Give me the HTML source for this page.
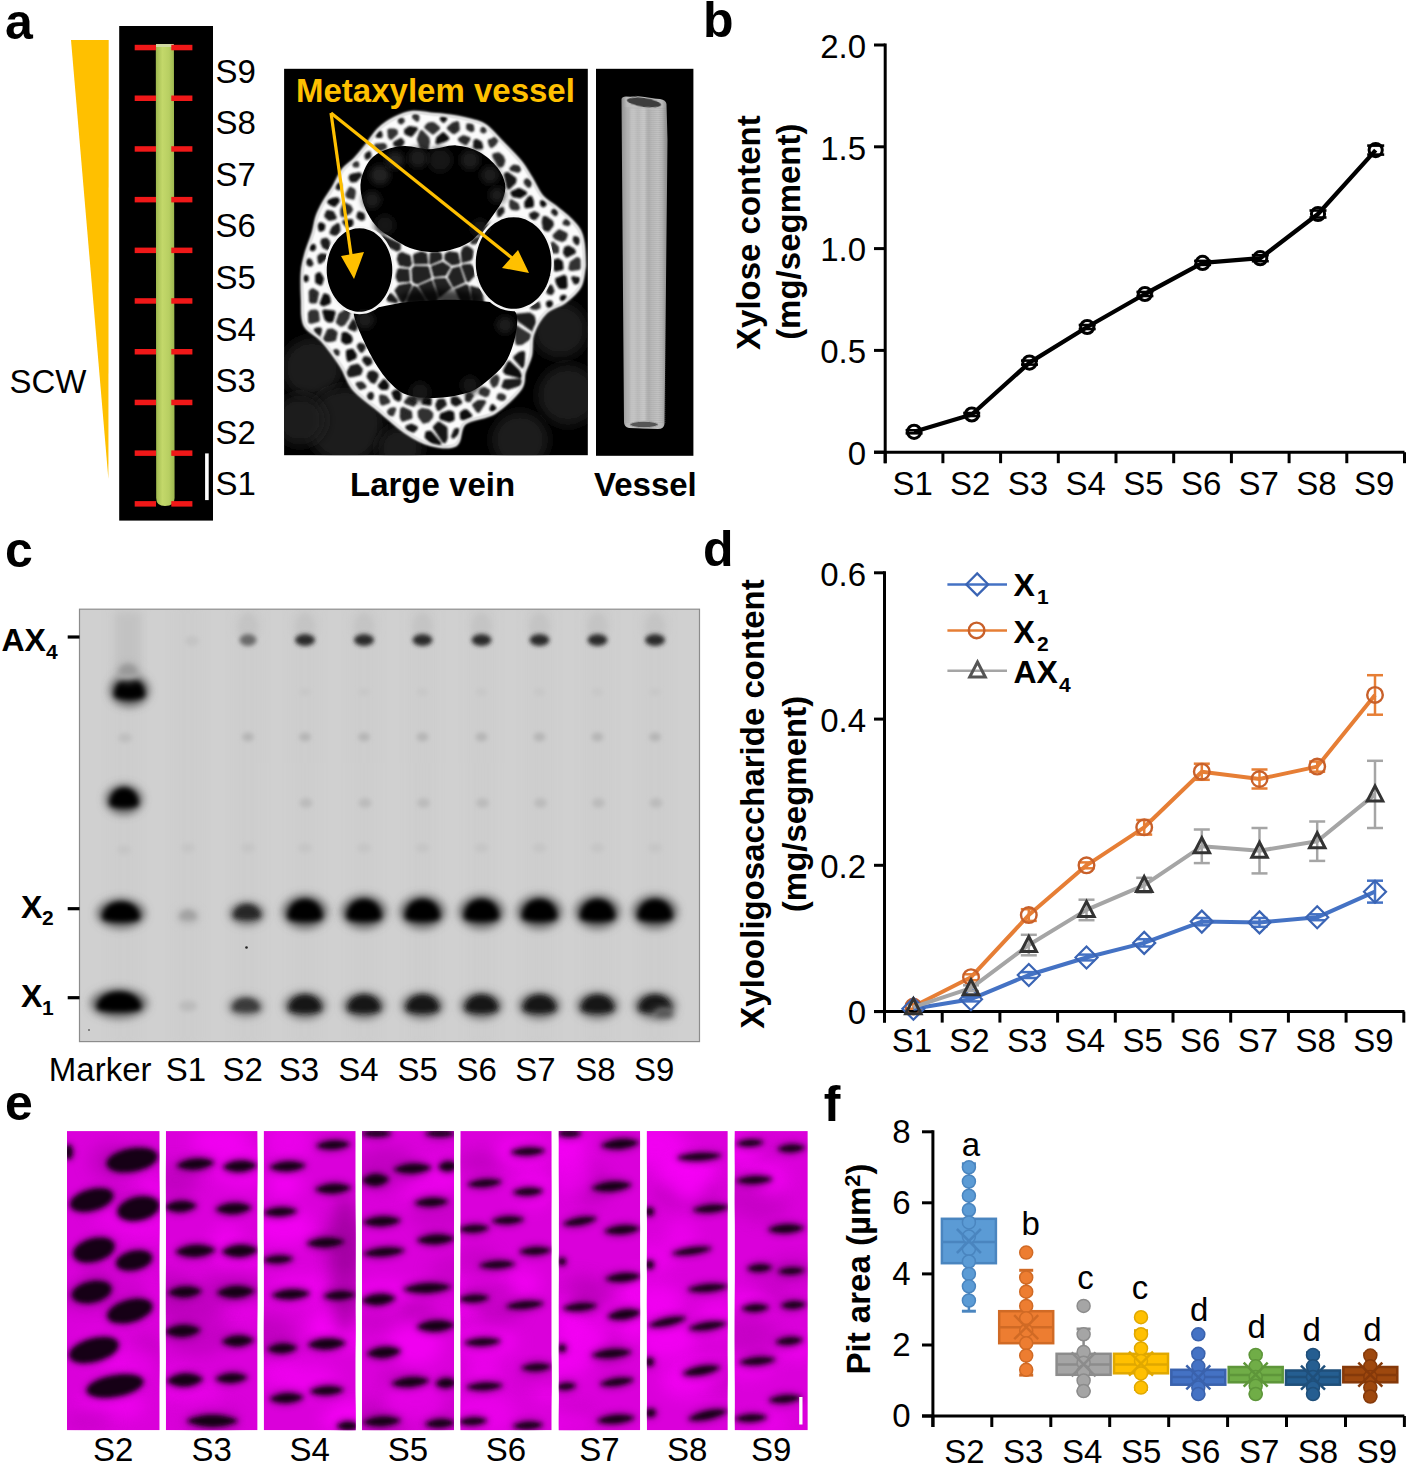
<!DOCTYPE html>
<html><head><meta charset="utf-8"><style>
html,body{margin:0;padding:0;background:#fff;}
body{width:1409px;height:1465px;overflow:hidden;}
svg{display:block;}
text{font-family:"Liberation Sans",sans-serif;}
</style></head><body>
<svg width="1409" height="1465" viewBox="0 0 1409 1465">
<defs>
<filter id="b0_6" x="-50%" y="-50%" width="200%" height="200%"><feGaussianBlur stdDeviation="0.6"/></filter>
<filter id="b1" x="-50%" y="-50%" width="200%" height="200%"><feGaussianBlur stdDeviation="1"/></filter>
<filter id="b1_5" x="-50%" y="-50%" width="200%" height="200%"><feGaussianBlur stdDeviation="1.5"/></filter>
<filter id="b2" x="-50%" y="-50%" width="200%" height="200%"><feGaussianBlur stdDeviation="2"/></filter>
<filter id="b2_5" x="-50%" y="-50%" width="200%" height="200%"><feGaussianBlur stdDeviation="2.5"/></filter>
<filter id="b3" x="-50%" y="-50%" width="200%" height="200%"><feGaussianBlur stdDeviation="3"/></filter>
<filter id="b4" x="-50%" y="-50%" width="200%" height="200%"><feGaussianBlur stdDeviation="4"/></filter>
<filter id="b6" x="-50%" y="-50%" width="200%" height="200%"><feGaussianBlur stdDeviation="6"/></filter>
<filter id="b8" x="-50%" y="-50%" width="200%" height="200%"><feGaussianBlur stdDeviation="8"/></filter>
<linearGradient id="stem" x1="0" x2="1" y1="0" y2="0"><stop offset="0" stop-color="#9fb94e"/><stop offset="0.35" stop-color="#c3d86a"/><stop offset="0.7" stop-color="#b8cf62"/><stop offset="1" stop-color="#9cb74e"/></linearGradient>
<linearGradient id="vess" x1="0" x2="1" y1="0" y2="0"><stop offset="0" stop-color="#8e8e8e"/><stop offset="0.12" stop-color="#bcbcbc"/><stop offset="0.5" stop-color="#c2c2c2"/><stop offset="0.88" stop-color="#b8b8b8"/><stop offset="1" stop-color="#888"/></linearGradient>
</defs>
<text x="5.0" y="38.5" font-size="50" font-weight="bold" text-anchor="start" fill="#000" >a</text>
<polygon points="71,40 108.7,40 108.4,479" fill="#ffc000"/>
<rect x="119.2" y="26.0" width="93.8" height="494.6" fill="#000" />
<path d="M155.8,45 L173.9,45 L174.6,498 Q174.6,506 165,506 Q156.2,506 156.2,498 Z" fill="url(#stem)"/>
<rect x="156.0" y="44.0" width="17.8" height="3.0" fill="#cfd8a0" />
<rect x="134.7" y="44.8" width="21.3" height="5.5" fill="#f01818" />
<rect x="171.3" y="44.8" width="21.1" height="5.5" fill="#f01818" />
<rect x="134.7" y="95.5" width="21.3" height="5.5" fill="#f01818" />
<rect x="171.3" y="95.5" width="21.1" height="5.5" fill="#f01818" />
<rect x="134.7" y="146.2" width="21.3" height="5.5" fill="#f01818" />
<rect x="171.3" y="146.2" width="21.1" height="5.5" fill="#f01818" />
<rect x="134.7" y="196.9" width="21.3" height="5.5" fill="#f01818" />
<rect x="171.3" y="196.9" width="21.1" height="5.5" fill="#f01818" />
<rect x="134.7" y="247.6" width="21.3" height="5.5" fill="#f01818" />
<rect x="171.3" y="247.6" width="21.1" height="5.5" fill="#f01818" />
<rect x="134.7" y="298.2" width="21.3" height="5.5" fill="#f01818" />
<rect x="171.3" y="298.2" width="21.1" height="5.5" fill="#f01818" />
<rect x="134.7" y="349.0" width="21.3" height="5.5" fill="#f01818" />
<rect x="171.3" y="349.0" width="21.1" height="5.5" fill="#f01818" />
<rect x="134.7" y="399.7" width="21.3" height="5.5" fill="#f01818" />
<rect x="171.3" y="399.7" width="21.1" height="5.5" fill="#f01818" />
<rect x="134.7" y="450.4" width="21.3" height="5.5" fill="#f01818" />
<rect x="171.3" y="450.4" width="21.1" height="5.5" fill="#f01818" />
<rect x="134.7" y="501.1" width="21.3" height="5.5" fill="#f01818" />
<rect x="171.3" y="501.1" width="21.1" height="5.5" fill="#f01818" />
<rect x="205.1" y="453.4" width="3.6" height="46.7" fill="#fff" />
<text x="215.5" y="82.5" font-size="33" text-anchor="start" fill="#000" >S9</text>
<text x="215.5" y="134.1" font-size="33" text-anchor="start" fill="#000" >S8</text>
<text x="215.5" y="185.7" font-size="33" text-anchor="start" fill="#000" >S7</text>
<text x="215.5" y="237.3" font-size="33" text-anchor="start" fill="#000" >S6</text>
<text x="215.5" y="288.9" font-size="33" text-anchor="start" fill="#000" >S5</text>
<text x="215.5" y="340.5" font-size="33" text-anchor="start" fill="#000" >S4</text>
<text x="215.5" y="392.1" font-size="33" text-anchor="start" fill="#000" >S3</text>
<text x="215.5" y="443.7" font-size="33" text-anchor="start" fill="#000" >S2</text>
<text x="215.5" y="495.3" font-size="33" text-anchor="start" fill="#000" >S1</text>
<text x="9.5" y="392.8" font-size="33" text-anchor="start" fill="#000" >SCW</text>
<rect x="284.1" y="68.8" width="303.7" height="386.4" fill="#000" />
<clipPath id="vclip"><rect x="284.1" y="68.8" width="303.7" height="386.4"/></clipPath>
<clipPath id="vout"><path d="M412.9,112.3 C418.8,111.6 423.8,113.4 430.0,114.0 C436.2,114.6 442.9,114.9 450.0,116.0 C457.1,117.1 466.8,119.0 472.8,120.7 C478.8,122.4 480.8,122.3 485.8,126.0 C490.8,129.7 496.8,136.8 502.6,142.8 C508.4,148.8 516.1,156.4 520.8,162.2 C525.5,168.0 527.5,172.2 531.0,177.8 C534.5,183.4 537.6,191.2 541.5,196.0 C545.4,200.8 550.2,202.9 554.5,206.3 C558.8,209.8 563.3,212.8 567.4,216.7 C571.5,220.6 576.4,225.4 579.0,229.7 C581.6,234.0 582.1,237.2 583.0,242.6 C583.9,248.0 584.2,257.4 584.3,262.0 C584.4,266.6 584.6,265.8 583.8,270.0 C583.0,274.2 582.8,281.7 579.6,287.0 C576.4,292.3 570.3,297.7 564.6,302.0 C558.9,306.3 550.8,307.3 545.5,312.6 C540.2,317.9 535.2,326.8 532.7,333.9 C530.2,341.0 532.0,348.8 530.6,355.2 C529.2,361.6 526.0,366.5 524.2,372.2 C522.4,377.9 525.0,382.5 520.0,389.2 C515.0,395.9 503.6,406.9 494.4,412.6 C485.2,418.3 471.0,418.0 464.6,423.3 C458.2,428.6 461.7,441.1 456.0,444.6 C450.3,448.2 439.0,446.7 430.5,444.6 C422.0,442.5 413.5,437.5 405.0,431.8 C396.5,426.1 387.9,417.6 379.4,410.5 C370.9,403.4 360.3,396.6 353.9,389.2 C347.5,381.8 346.4,373.9 341.1,365.8 C335.8,357.7 328.0,347.1 322.0,340.3 C316.0,333.5 308.1,331.7 304.9,325.0 C301.6,318.3 302.9,308.8 302.5,300.0 C302.1,291.2 301.7,279.7 302.3,272.0 C302.9,264.3 304.2,260.1 306.0,253.6 C307.8,247.0 311.5,238.8 313.3,232.7 C315.1,226.5 315.2,221.8 317.0,216.7 C318.8,211.6 321.3,206.8 324.0,202.0 C326.7,197.2 329.8,193.3 333.0,188.0 C336.2,182.7 339.3,174.8 343.0,170.0 C346.7,165.2 351.2,163.0 355.0,159.0 C358.8,155.0 362.1,150.9 366.0,146.0 C369.9,141.1 373.8,134.1 378.5,129.5 C383.2,124.9 388.7,121.3 394.4,118.4 C400.1,115.5 407.0,113.0 412.9,112.3 Z"/></clipPath>
<g clip-path="url(#vclip)">
<circle cx="312" cy="368" r="30" fill="#1a1a1a" filter="url(#b6)"/>
<circle cx="345" cy="425" r="38" fill="#1a1a1a" filter="url(#b6)"/>
<circle cx="400" cy="448" r="22" fill="#1a1a1a" filter="url(#b6)"/>
<circle cx="560" cy="330" r="28" fill="#1a1a1a" filter="url(#b6)"/>
<circle cx="568" cy="395" r="30" fill="#1a1a1a" filter="url(#b6)"/>
<circle cx="520" cy="440" r="28" fill="#1a1a1a" filter="url(#b6)"/>
<circle cx="300" cy="420" r="25" fill="#1a1a1a" filter="url(#b6)"/>
<path d="M412.9,112.3 C418.8,111.6 423.8,113.4 430.0,114.0 C436.2,114.6 442.9,114.9 450.0,116.0 C457.1,117.1 466.8,119.0 472.8,120.7 C478.8,122.4 480.8,122.3 485.8,126.0 C490.8,129.7 496.8,136.8 502.6,142.8 C508.4,148.8 516.1,156.4 520.8,162.2 C525.5,168.0 527.5,172.2 531.0,177.8 C534.5,183.4 537.6,191.2 541.5,196.0 C545.4,200.8 550.2,202.9 554.5,206.3 C558.8,209.8 563.3,212.8 567.4,216.7 C571.5,220.6 576.4,225.4 579.0,229.7 C581.6,234.0 582.1,237.2 583.0,242.6 C583.9,248.0 584.2,257.4 584.3,262.0 C584.4,266.6 584.6,265.8 583.8,270.0 C583.0,274.2 582.8,281.7 579.6,287.0 C576.4,292.3 570.3,297.7 564.6,302.0 C558.9,306.3 550.8,307.3 545.5,312.6 C540.2,317.9 535.2,326.8 532.7,333.9 C530.2,341.0 532.0,348.8 530.6,355.2 C529.2,361.6 526.0,366.5 524.2,372.2 C522.4,377.9 525.0,382.5 520.0,389.2 C515.0,395.9 503.6,406.9 494.4,412.6 C485.2,418.3 471.0,418.0 464.6,423.3 C458.2,428.6 461.7,441.1 456.0,444.6 C450.3,448.2 439.0,446.7 430.5,444.6 C422.0,442.5 413.5,437.5 405.0,431.8 C396.5,426.1 387.9,417.6 379.4,410.5 C370.9,403.4 360.3,396.6 353.9,389.2 C347.5,381.8 346.4,373.9 341.1,365.8 C335.8,357.7 328.0,347.1 322.0,340.3 C316.0,333.5 308.1,331.7 304.9,325.0 C301.6,318.3 302.9,308.8 302.5,300.0 C302.1,291.2 301.7,279.7 302.3,272.0 C302.9,264.3 304.2,260.1 306.0,253.6 C307.8,247.0 311.5,238.8 313.3,232.7 C315.1,226.5 315.2,221.8 317.0,216.7 C318.8,211.6 321.3,206.8 324.0,202.0 C326.7,197.2 329.8,193.3 333.0,188.0 C336.2,182.7 339.3,174.8 343.0,170.0 C346.7,165.2 351.2,163.0 355.0,159.0 C358.8,155.0 362.1,150.9 366.0,146.0 C369.9,141.1 373.8,134.1 378.5,129.5 C383.2,124.9 388.7,121.3 394.4,118.4 C400.1,115.5 407.0,113.0 412.9,112.3 Z" fill="#fbfbfb" filter="url(#b1)"/>
<g clip-path="url(#vout)"><g filter="url(#b1)">
<polygon points="454.1,286.8 464.5,282.0 459.5,266.9 452.6,268.6 448.3,277.1 453.3,286.7" fill="#202020" stroke="#202020" stroke-width="1.2" stroke-linejoin="round"/>
<polygon points="360.7,218.4 358.4,216.8 359.3,213.4 362.6,214.7 363.1,216.9 362.9,218.5 361.3,218.6" fill="#161616" stroke="#161616" stroke-width="4.2" stroke-linejoin="round"/>
<polygon points="478.6,402.0 483.9,402.1 481.3,406.2 478.3,410.7 478.0,410.5 474.3,405.1" fill="#292929" stroke="#292929" stroke-width="4.2" stroke-linejoin="round"/>
<polygon points="448.9,412.4 442.0,415.0 441.4,417.8 449.2,420.3 452.5,419.0 452.2,413.3" fill="#0c0c0c" stroke="#0c0c0c" stroke-width="4.2" stroke-linejoin="round"/>
<polygon points="348.8,212.4 350.9,209.5 349.3,206.8 344.8,204.6 342.3,210.1 342.6,215.1" fill="#292929" stroke="#292929" stroke-width="4.2" stroke-linejoin="round"/>
<polygon points="329.4,218.7 326.3,215.9 327.9,212.1 332.2,213.1 334.6,217.4 334.5,217.6" fill="#1f1f1f" stroke="#1f1f1f" stroke-width="4.2" stroke-linejoin="round"/>
<polygon points="529.3,314.5 515.5,315.9 520.5,320.9 534.5,330.7 535.8,330.7 532.8,316.9" fill="#1f1f1f" stroke="#1f1f1f" stroke-width="4.2" stroke-linejoin="round"/>
<polygon points="447.2,138.5 443.3,134.4 443.2,134.4 438.2,138.7 437.5,142.3 444.1,140.1" fill="#0c0c0c" stroke="#0c0c0c" stroke-width="4.2" stroke-linejoin="round"/>
<polygon points="395.0,290.5 398.9,285.6 409.8,283.5 411.5,285.4 404.3,302.1 403.3,303.1 401.0,301.3" fill="#202020" stroke="#202020" stroke-width="1.2" stroke-linejoin="round"/>
<polygon points="412.8,281.0 412.0,269.4 414.3,266.7 427.6,266.8 428.4,267.3 430.9,277.3 430.5,278.0 417.8,283.6 414.4,282.9" fill="#202020" stroke="#202020" stroke-width="1.2" stroke-linejoin="round"/>
<polygon points="526.3,202.8 529.7,198.0 530.4,197.8 531.8,201.2 531.9,205.4 528.3,206.0 526.5,206.2" fill="#0c0c0c" stroke="#0c0c0c" stroke-width="4.2" stroke-linejoin="round"/>
<polygon points="387.1,385.4 386.5,387.8 382.3,387.8 380.0,385.8 384.1,381.2 384.6,381.7" fill="#0c0c0c" stroke="#0c0c0c" stroke-width="4.2" stroke-linejoin="round"/>
<polygon points="431.9,252.3 438.3,252.0 441.4,254.3 441.6,259.5 430.6,264.2 429.9,263.7 430.2,253.7" fill="#202020" stroke="#202020" stroke-width="1.2" stroke-linejoin="round"/>
<polygon points="326.2,239.9 322.9,240.6 322.6,242.6 324.1,246.3 327.6,248.0 328.2,242.3" fill="#1f1f1f" stroke="#1f1f1f" stroke-width="4.2" stroke-linejoin="round"/>
<polygon points="521.6,342.8 530.6,336.6 516.2,327.4 516.8,338.5 517.5,343.1" fill="#333333" stroke="#333333" stroke-width="4.2" stroke-linejoin="round"/>
<polygon points="570.5,268.4 571.7,262.9 577.5,259.1 578.6,260.1 578.7,267.9 571.5,268.9" fill="#333333" stroke="#333333" stroke-width="4.2" stroke-linejoin="round"/>
<polygon points="440.6,400.8 443.2,400.8 444.7,404.4 438.6,408.8 437.3,405.0 439.0,401.1" fill="#1f1f1f" stroke="#1f1f1f" stroke-width="4.2" stroke-linejoin="round"/>
<polygon points="432.9,132.4 426.3,127.2 428.9,124.6 432.0,124.1 433.8,124.6 438.0,128.2" fill="#333333" stroke="#333333" stroke-width="4.2" stroke-linejoin="round"/>
<polygon points="347.4,317.6 349.0,309.6 340.5,314.8 337.9,322.2 341.2,324.7 343.5,323.5" fill="#333333" stroke="#333333" stroke-width="4.2" stroke-linejoin="round"/>
<polygon points="475.2,146.2 475.4,141.5 476.6,141.0 480.1,143.0 481.2,147.3 477.1,147.2 475.1,146.7" fill="#161616" stroke="#161616" stroke-width="4.2" stroke-linejoin="round"/>
<polygon points="519.0,169.6 517.8,167.2 514.0,166.6 511.5,168.9 518.0,170.7" fill="#292929" stroke="#292929" stroke-width="4.2" stroke-linejoin="round"/>
<polygon points="335.5,332.9 334.1,339.3 330.5,339.9 324.6,340.2 328.8,330.8 332.0,330.6" fill="#292929" stroke="#292929" stroke-width="4.2" stroke-linejoin="round"/>
<polygon points="468.2,128.1 468.2,125.4 471.5,125.9 471.9,126.5 472.3,129.7 471.4,129.9" fill="#292929" stroke="#292929" stroke-width="4.2" stroke-linejoin="round"/>
<polygon points="502.1,164.5 503.2,160.6 501.8,157.2 498.4,154.4 494.3,155.2 494.7,157.0 499.6,165.2 500.8,165.4" fill="#292929" stroke="#292929" stroke-width="4.2" stroke-linejoin="round"/>
<polygon points="514.5,179.2 507.3,174.0 505.9,174.7 508.5,186.9 508.8,187.2 514.1,182.1" fill="#161616" stroke="#161616" stroke-width="4.2" stroke-linejoin="round"/>
<polygon points="519.8,380.6 522.3,382.9 508.4,387.6 503.6,386.3 505.5,381.3" fill="#1f1f1f" stroke="#1f1f1f" stroke-width="4.2" stroke-linejoin="round"/>
<polygon points="403.1,409.1 402.2,409.4 401.8,416.9 403.0,419.5 410.4,417.1 409.9,412.4" fill="#292929" stroke="#292929" stroke-width="4.2" stroke-linejoin="round"/>
<polygon points="310.8,291.8 310.9,295.1 311.1,301.3 315.2,301.3 316.9,293.1 315.8,292.2 312.6,290.3" fill="#292929" stroke="#292929" stroke-width="4.2" stroke-linejoin="round"/>
<polygon points="460.1,402.1 455.9,404.4 452.9,402.7 452.8,398.8 453.4,398.5 455.9,398.4 457.1,398.9" fill="#161616" stroke="#161616" stroke-width="4.2" stroke-linejoin="round"/>
<polygon points="517.7,371.3 509.1,363.1 505.0,371.0 506.4,372.7 520.3,376.3" fill="#0c0c0c" stroke="#0c0c0c" stroke-width="4.2" stroke-linejoin="round"/>
<polygon points="348.0,196.2 352.8,197.6 353.6,193.7 353.7,191.6 353.4,190.6 350.4,188.9 347.3,194.5" fill="#333333" stroke="#333333" stroke-width="4.2" stroke-linejoin="round"/>
<polygon points="319.1,274.1 321.9,278.7 320.5,283.3 317.2,281.7 317.2,275.5" fill="#0c0c0c" stroke="#0c0c0c" stroke-width="4.2" stroke-linejoin="round"/>
<polygon points="458.0,430.4 458.2,431.1 456.8,433.5 453.2,436.5 455.6,430.7 457.0,430.0" fill="#161616" stroke="#161616" stroke-width="4.2" stroke-linejoin="round"/>
<polygon points="409.5,281.2 408.7,269.7 399.0,268.8 397.6,270.3 396.0,277.0 398.4,282.0" fill="#202020" stroke="#202020" stroke-width="1.2" stroke-linejoin="round"/>
<polygon points="466.9,246.4 467.6,246.5 471.9,249.2 473.1,251.2 472.2,258.0 470.1,260.5 462.2,262.3 461.4,252.5 463.5,247.6" fill="#202020" stroke="#202020" stroke-width="1.2" stroke-linejoin="round"/>
<polygon points="396.4,391.5 398.0,391.8 399.4,394.4 399.2,399.0 398.4,399.4 395.4,397.6 393.6,393.0 395.7,391.8" fill="#0c0c0c" stroke="#0c0c0c" stroke-width="4.2" stroke-linejoin="round"/>
<polygon points="544.4,218.1 543.8,222.3 545.0,228.8 547.9,229.6 551.8,224.7 551.3,222.3 545.7,218.1" fill="#1f1f1f" stroke="#1f1f1f" stroke-width="4.2" stroke-linejoin="round"/>
<polygon points="451.0,288.0 439.2,297.0 433.9,279.8 434.3,279.0 445.4,278.6" fill="#202020" stroke="#202020" stroke-width="1.2" stroke-linejoin="round"/>
<polygon points="561.5,268.3 560.9,262.2 557.8,260.4 555.2,261.5 555.7,269.4" fill="#0c0c0c" stroke="#0c0c0c" stroke-width="4.2" stroke-linejoin="round"/>
<polygon points="465.7,143.1 468.4,139.1 463.4,137.3 460.0,139.6 462.7,141.7" fill="#292929" stroke="#292929" stroke-width="4.2" stroke-linejoin="round"/>
<polygon points="346.2,334.1 343.6,334.1 343.1,340.6 346.0,342.5 349.9,341.4 350.7,339.5 350.0,337.2" fill="#0c0c0c" stroke="#0c0c0c" stroke-width="4.2" stroke-linejoin="round"/>
<polygon points="548.0,303.2 548.1,303.1 548.9,302.7 550.6,302.6 551.0,303.7 550.2,306.7 548.3,305.1" fill="#0c0c0c" stroke="#0c0c0c" stroke-width="4.2" stroke-linejoin="round"/>
<polygon points="575.0,238.1 577.5,238.9 577.8,240.3 577.1,243.2 574.9,240.4" fill="#1f1f1f" stroke="#1f1f1f" stroke-width="4.2" stroke-linejoin="round"/>
<polygon points="355.5,180.1 360.0,175.2 359.2,174.3 353.9,175.2 351.2,176.3 350.6,178.0 352.0,180.5" fill="#161616" stroke="#161616" stroke-width="4.2" stroke-linejoin="round"/>
<polygon points="357.5,365.8 360.7,369.7 359.5,373.2 354.7,374.6 346.9,375.6 351.6,367.3" fill="#1f1f1f" stroke="#1f1f1f" stroke-width="4.2" stroke-linejoin="round"/>
<polygon points="564.6,223.2 565.2,222.0 566.0,221.3 566.7,220.9 568.7,222.5 568.0,223.9" fill="#292929" stroke="#292929" stroke-width="4.2" stroke-linejoin="round"/>
<polygon points="484.6,130.9 484.4,128.5 484.1,128.3 482.7,128.9 482.2,130.8 483.9,131.4" fill="#333333" stroke="#333333" stroke-width="4.2" stroke-linejoin="round"/>
<polygon points="458.8,263.7 459.7,262.7 457.7,253.0 449.3,251.8 445.1,254.3 444.9,259.5 451.8,264.8" fill="#202020" stroke="#202020" stroke-width="1.2" stroke-linejoin="round"/>
<polygon points="308.8,263.7 310.2,264.7 311.3,264.0 311.3,263.8 310.9,263.0 310.0,260.7 308.8,260.4 307.9,261.5 308.3,263.3" fill="#1f1f1f" stroke="#1f1f1f" stroke-width="4.2" stroke-linejoin="round"/>
<polygon points="438.9,443.0 430.2,432.8 427.3,433.2 426.7,437.0 439.2,448.6" fill="#0c0c0c" stroke="#0c0c0c" stroke-width="4.2" stroke-linejoin="round"/>
<polygon points="391.0,137.8 389.9,136.4 389.4,130.5 393.3,130.5 395.7,131.3 395.9,133.3" fill="#333333" stroke="#333333" stroke-width="4.2" stroke-linejoin="round"/>
<polygon points="333.5,312.6 330.1,312.2 324.4,311.5 326.3,318.4 328.3,320.3 331.5,320.3" fill="#0c0c0c" stroke="#0c0c0c" stroke-width="4.2" stroke-linejoin="round"/>
<polygon points="513.8,195.2 512.5,192.9 519.3,190.0 525.0,193.0 520.0,196.2" fill="#0c0c0c" stroke="#0c0c0c" stroke-width="4.2" stroke-linejoin="round"/>
<polygon points="360.0,344.8 358.8,346.4 361.5,350.7 363.1,348.7 363.6,347.5 363.3,345.9" fill="#1f1f1f" stroke="#1f1f1f" stroke-width="4.2" stroke-linejoin="round"/>
<polygon points="390.9,295.3 395.8,301.1 388.8,299.6 388.5,297.9 389.4,295.7" fill="#1f1f1f" stroke="#1f1f1f" stroke-width="4.2" stroke-linejoin="round"/>
<polygon points="384.9,147.0 381.1,149.1 378.8,149.5 376.9,148.2 376.2,145.5 383.2,145.0 384.8,145.8" fill="#333333" stroke="#333333" stroke-width="4.2" stroke-linejoin="round"/>
<polygon points="467.1,281.1 468.7,281.6 474.1,275.9 474.7,269.6 470.7,264.3 462.6,265.1 461.8,266.1" fill="#202020" stroke="#202020" stroke-width="1.2" stroke-linejoin="round"/>
<polygon points="557.2,279.6 558.6,279.2 564.1,277.0 564.9,277.9 565.4,285.6 565.2,286.8 564.9,286.8 560.4,287.0 557.9,282.9" fill="#0c0c0c" stroke="#0c0c0c" stroke-width="4.2" stroke-linejoin="round"/>
<polygon points="417.2,119.5 417.4,117.1 416.7,115.8 414.9,115.3 414.1,116.5 414.3,117.3 417.2,119.5" fill="#333333" stroke="#333333" stroke-width="4.2" stroke-linejoin="round"/>
<polygon points="336.4,351.0 337.6,351.9 337.4,354.0 335.2,354.0 334.9,351.5" fill="#292929" stroke="#292929" stroke-width="4.2" stroke-linejoin="round"/>
<polygon points="422.3,410.1 419.7,411.7 420.0,416.3 423.9,421.6 427.6,420.5 431.1,416.5 431.2,413.7 428.2,411.0" fill="#333333" stroke="#333333" stroke-width="4.2" stroke-linejoin="round"/>
<polygon points="371.2,397.9 369.6,398.2 369.0,396.0 370.3,394.1 371.4,394.0 372.0,395.8" fill="#1f1f1f" stroke="#1f1f1f" stroke-width="4.2" stroke-linejoin="round"/>
<polygon points="311.5,311.8 315.6,311.5 316.9,312.9 317.7,320.0 311.6,321.6 310.3,321.7 310.0,313.4" fill="#333333" stroke="#333333" stroke-width="4.2" stroke-linejoin="round"/>
<polygon points="556.5,237.8 554.7,235.8 559.3,231.5 565.5,234.5 565.7,235.0 564.2,238.8 561.9,239.8" fill="#292929" stroke="#292929" stroke-width="4.2" stroke-linejoin="round"/>
<polygon points="401.8,252.5 398.6,254.3 397.4,259.2 399.5,265.1 409.1,267.0 411.4,264.2 409.9,255.8" fill="#202020" stroke="#202020" stroke-width="1.2" stroke-linejoin="round"/>
<polygon points="427.9,142.0 427.4,138.5 421.6,132.3 421.6,132.3 418.9,139.3 425.2,157.1" fill="#333333" stroke="#333333" stroke-width="4.2" stroke-linejoin="round"/>
<polygon points="389.0,411.8 390.0,413.8 392.2,414.3 394.1,409.3 391.4,409.5" fill="#333333" stroke="#333333" stroke-width="4.2" stroke-linejoin="round"/>
<polygon points="413.3,430.5 413.0,430.6 408.7,428.8 407.4,427.5 407.3,427.3 411.6,425.8 415.9,427.8" fill="#161616" stroke="#161616" stroke-width="4.2" stroke-linejoin="round"/>
<polygon points="331.0,203.4 334.3,204.8 337.7,200.8 337.0,199.4 333.6,199.8 329.0,201.7" fill="#0c0c0c" stroke="#0c0c0c" stroke-width="4.2" stroke-linejoin="round"/>
<polygon points="486.0,316.2 475.3,323.9 470.7,286.3 481.3,289.4" fill="#202020" stroke="#202020" stroke-width="1.2" stroke-linejoin="round"/>
<polygon points="491.5,145.8 494.1,143.9 499.2,136.2 491.4,140.9 489.8,141.0 490.6,144.2" fill="#333333" stroke="#333333" stroke-width="4.2" stroke-linejoin="round"/>
<polygon points="445.2,275.4 434.1,276.5 431.5,266.5 442.8,262.4 450.1,267.2" fill="#202020" stroke="#202020" stroke-width="1.2" stroke-linejoin="round"/>
<polygon points="444.3,441.2 445.6,437.9 445.4,428.2 438.6,423.6 434.9,427.4" fill="#161616" stroke="#161616" stroke-width="4.2" stroke-linejoin="round"/>
<polygon points="454.5,131.9 457.7,129.4 457.4,125.4 457.1,123.2 453.2,124.6 449.0,128.2 453.3,131.8" fill="#292929" stroke="#292929" stroke-width="4.2" stroke-linejoin="round"/>
<polygon points="455.4,289.7 473.3,325.3 474.5,324.1 468.3,286.6 467.4,285.2 465.8,284.7" fill="#202020" stroke="#202020" stroke-width="1.2" stroke-linejoin="round"/>
<polygon points="338.9,188.3 340.0,185.6 339.4,184.5 337.1,184.9 336.7,186.3 337.4,187.6" fill="#1f1f1f" stroke="#1f1f1f" stroke-width="4.2" stroke-linejoin="round"/>
<polygon points="434.8,304.8 437.3,297.7 431.6,280.5 418.8,286.0 427.6,300.2" fill="#202020" stroke="#202020" stroke-width="1.2" stroke-linejoin="round"/>
<polygon points="464.9,411.3 461.8,413.4 462.1,417.8 464.1,418.1 470.2,415.6 466.5,411.6" fill="#0c0c0c" stroke="#0c0c0c" stroke-width="4.2" stroke-linejoin="round"/>
<polygon points="492.6,406.3 494.3,408.2 494.4,409.2 493.1,410.1 491.4,409.2 492.1,407.1" fill="#0c0c0c" stroke="#0c0c0c" stroke-width="4.2" stroke-linejoin="round"/>
<polygon points="414.4,254.4 413.6,255.3 414.3,263.8 427.6,263.7 426.6,253.8 421.5,251.9" fill="#202020" stroke="#202020" stroke-width="1.2" stroke-linejoin="round"/>
<polygon points="369.3,155.0 369.0,153.2 366.6,155.2 366.6,156.2 366.8,157.6 369.3,156.1" fill="#161616" stroke="#161616" stroke-width="4.2" stroke-linejoin="round"/>
<polygon points="575.3,282.4 577.6,281.8 578.0,279.1 577.8,279.1 573.3,278.2" fill="#161616" stroke="#161616" stroke-width="4.2" stroke-linejoin="round"/>
<polygon points="408.7,133.9 411.1,134.8 415.7,129.0 409.5,128.1 406.1,130.7 406.3,132.7" fill="#161616" stroke="#161616" stroke-width="4.2" stroke-linejoin="round"/>
<polygon points="414.3,398.9 412.1,398.3 409.3,398.7 406.1,402.0 413.3,404.5 415.1,402.1" fill="#292929" stroke="#292929" stroke-width="4.2" stroke-linejoin="round"/>
<polygon points="322.8,228.7 320.5,229.6 320.0,227.3 319.7,225.5 320.3,224.5 321.0,224.3 323.3,225.5" fill="#0c0c0c" stroke="#0c0c0c" stroke-width="4.2" stroke-linejoin="round"/>
<polygon points="338.4,230.4 337.8,225.2 333.5,228.2 331.6,232.6 334.6,233.7 336.4,233.2" fill="#1f1f1f" stroke="#1f1f1f" stroke-width="4.2" stroke-linejoin="round"/>
<polygon points="324.9,295.5 321.8,303.3 323.5,304.2 328.8,302.1 328.4,298.7 327.4,296.2" fill="#0c0c0c" stroke="#0c0c0c" stroke-width="4.2" stroke-linejoin="round"/>
<polygon points="354.8,355.1 354.4,357.2 348.9,359.7 348.1,355.8 348.0,351.5 352.0,350.8" fill="#0c0c0c" stroke="#0c0c0c" stroke-width="4.2" stroke-linejoin="round"/>
<polygon points="481.4,390.2 484.1,388.9 488.1,391.0 487.0,394.6 485.5,395.1 480.7,392.9 480.9,392.1" fill="#333333" stroke="#333333" stroke-width="4.2" stroke-linejoin="round"/>
<polygon points="400.1,243.8 382.6,235.8 381.4,236.8 378.8,241.5 396.9,251.0 400.1,249.4" fill="#202020" stroke="#202020" stroke-width="1.2" stroke-linejoin="round"/>
<polygon points="376.6,376.1 373.9,381.6 372.1,381.1 368.7,376.5 370.0,373.1 373.1,372.7 376.2,374.4" fill="#1f1f1f" stroke="#1f1f1f" stroke-width="4.2" stroke-linejoin="round"/>
<polygon points="553.0,211.7 555.4,214.1 556.0,212.9 555.3,210.3 555.3,210.3 553.8,210.7" fill="#1f1f1f" stroke="#1f1f1f" stroke-width="4.2" stroke-linejoin="round"/>
<polygon points="395.5,144.4 398.5,145.4 400.8,144.8 402.6,142.1 400.8,140.0 395.0,143.3" fill="#1f1f1f" stroke="#1f1f1f" stroke-width="4.2" stroke-linejoin="round"/>
<polygon points="502.5,211.4 499.2,215.1 498.8,212.1 499.0,210.6 502.2,209.0" fill="#1f1f1f" stroke="#1f1f1f" stroke-width="4.2" stroke-linejoin="round"/>
<polygon points="522.4,366.0 522.9,358.1 523.1,353.0 519.6,354.1 515.3,357.6 515.4,357.8" fill="#161616" stroke="#161616" stroke-width="4.2" stroke-linejoin="round"/>
<polygon points="553.2,249.3 552.8,243.7 556.9,247.7 556.9,251.7 554.1,251.1 553.4,251.3" fill="#333333" stroke="#333333" stroke-width="4.2" stroke-linejoin="round"/>
<polygon points="512.4,208.0 511.2,205.9 511.4,201.4 516.7,204.8 517.8,208.0 516.5,208.4 513.7,208.2" fill="#333333" stroke="#333333" stroke-width="4.2" stroke-linejoin="round"/>
<polygon points="364.4,386.5 361.4,387.6 360.4,387.8 357.7,384.1 361.4,383.5" fill="#292929" stroke="#292929" stroke-width="4.2" stroke-linejoin="round"/>
<polygon points="544.1,201.9 544.6,203.9 543.8,204.9 543.3,205.2 542.1,204.1 542.0,202.0" fill="#0c0c0c" stroke="#0c0c0c" stroke-width="4.2" stroke-linejoin="round"/>
<polygon points="527.1,180.3 530.2,182.4 529.0,185.7 528.5,185.5 525.8,182.5 525.9,181.1 526.9,180.4" fill="#292929" stroke="#292929" stroke-width="4.2" stroke-linejoin="round"/>
<polygon points="496.5,376.7 495.6,376.8 492.3,379.7 491.8,381.5 493.8,385.6 496.1,383.8 497.5,378.6" fill="#333333" stroke="#333333" stroke-width="4.2" stroke-linejoin="round"/>
<polygon points="305.6,276.9 306.6,277.2 306.6,279.8 305.6,280.2 305.4,280.1 304.1,278.3" fill="#0c0c0c" stroke="#0c0c0c" stroke-width="4.2" stroke-linejoin="round"/>
<polygon points="550.6,286.6 552.4,291.0 551.2,293.0 548.4,292.2 548.3,289.7" fill="#1f1f1f" stroke="#1f1f1f" stroke-width="4.2" stroke-linejoin="round"/>
<polygon points="501.5,395.3 499.5,395.3 498.6,397.6 501.9,399.0 503.8,398.2 504.0,396.6" fill="#333333" stroke="#333333" stroke-width="4.2" stroke-linejoin="round"/>
<polygon points="311.6,248.8 311.2,248.1 311.3,246.7 313.6,246.0 314.0,248.0 312.8,249.1" fill="#0c0c0c" stroke="#0c0c0c" stroke-width="4.2" stroke-linejoin="round"/>
<polygon points="365.1,358.3 364.2,360.2 367.5,364.0 370.3,362.7 369.8,360.0 367.6,358.5" fill="#161616" stroke="#161616" stroke-width="4.2" stroke-linejoin="round"/>
<polygon points="402.5,120.1 401.5,119.4 399.9,119.7 399.9,121.5 401.0,122.3 402.7,120.9" fill="#292929" stroke="#292929" stroke-width="4.2" stroke-linejoin="round"/>
<polygon points="564.5,296.9 563.9,299.7 563.9,299.7 562.2,299.3 561.8,298.2 562.4,297.2" fill="#0c0c0c" stroke="#0c0c0c" stroke-width="4.2" stroke-linejoin="round"/>
<polygon points="382.4,403.4 381.4,400.8 381.2,396.5 385.3,397.6 388.2,401.5 383.3,403.4" fill="#333333" stroke="#333333" stroke-width="4.2" stroke-linejoin="round"/>
<polygon points="534.3,213.3 531.1,214.8 532.5,217.7 534.5,218.0 537.4,214.9" fill="#1f1f1f" stroke="#1f1f1f" stroke-width="4.2" stroke-linejoin="round"/>
<polygon points="319.3,257.2 321.4,255.4 325.3,255.9 326.4,256.7 320.0,261.9" fill="#1f1f1f" stroke="#1f1f1f" stroke-width="4.2" stroke-linejoin="round"/>
<polygon points="468.5,394.2 467.4,395.5 466.9,399.8 469.0,400.2 471.6,395.6 470.9,395.0" fill="#292929" stroke="#292929" stroke-width="4.2" stroke-linejoin="round"/>
<polygon points="425.8,301.3 416.9,287.2 413.6,286.2 406.4,303.0" fill="#202020" stroke="#202020" stroke-width="1.2" stroke-linejoin="round"/>
<polygon points="565.9,248.7 568.2,247.6 573.0,250.4 573.9,252.0 567.1,255.5 565.0,252.6" fill="#161616" stroke="#161616" stroke-width="4.2" stroke-linejoin="round"/>
<polygon points="380.6,135.8 380.2,133.1 379.4,132.5 377.1,135.4 377.6,136.0" fill="#161616" stroke="#161616" stroke-width="4.2" stroke-linejoin="round"/>
<polygon points="357.2,165.5 357.2,163.8 356.6,163.0 354.4,163.4 354.6,165.3" fill="#333333" stroke="#333333" stroke-width="4.2" stroke-linejoin="round"/>
<polygon points="318.5,335.4 320.0,329.6 318.5,329.3 315.8,330.1 318.2,335.7" fill="#1f1f1f" stroke="#1f1f1f" stroke-width="4.2" stroke-linejoin="round"/>
<polygon points="349.6,225.8 351.4,223.8 351.2,221.0 344.5,221.9 344.4,222.1 348.0,226.0" fill="#0c0c0c" stroke="#0c0c0c" stroke-width="4.2" stroke-linejoin="round"/>
<polygon points="355.4,325.7 355.3,327.5 354.6,329.3 350.0,327.6 353.6,321.5" fill="#1f1f1f" stroke="#1f1f1f" stroke-width="4.2" stroke-linejoin="round"/>
<polygon points="443.5,120.6 445.2,118.7 444.5,117.8 442.7,117.7 441.8,118.7 443.5,120.6" fill="#0c0c0c" stroke="#0c0c0c" stroke-width="4.2" stroke-linejoin="round"/>
<polygon points="534.7,305.4 538.1,303.7 538.6,306.9 536.2,307.9 532.1,307.3" fill="#292929" stroke="#292929" stroke-width="4.2" stroke-linejoin="round"/>
<polygon points="427.7,398.9 425.7,398.9 424.7,399.2 423.7,402.4 429.6,403.6 429.4,399.3" fill="#0c0c0c" stroke="#0c0c0c" stroke-width="4.2" stroke-linejoin="round"/>
<polygon points="475.5,239.6 472.3,242.3 474.6,242.5 479.0,239.2" fill="#333333" stroke="#333333" stroke-width="4.2" stroke-linejoin="round"/>
</g></g>
<path d="M370.0,160.0 C374.0,155.0 379.2,152.3 385.0,150.0 C390.8,147.7 397.5,146.1 405.0,146.0 C412.5,145.9 421.5,149.4 430.0,149.3 C438.5,149.2 447.8,145.0 456.0,145.4 C464.2,145.8 472.4,148.2 479.3,151.9 C486.2,155.6 493.1,162.0 497.4,167.4 C501.7,172.8 504.3,178.9 505.2,184.3 C506.1,189.7 504.3,195.1 502.6,199.8 C500.9,204.6 498.2,207.8 494.8,212.8 C491.4,217.8 486.2,224.7 481.9,229.7 C477.6,234.7 474.2,239.2 468.9,242.6 C463.6,246.0 456.5,248.4 450.0,250.0 C443.5,251.6 436.7,252.3 430.0,252.0 C423.3,251.7 416.3,250.3 410.0,248.0 C403.7,245.7 397.3,241.3 392.0,238.0 C386.7,234.7 382.0,232.0 378.0,228.0 C374.0,224.0 370.7,219.0 368.0,214.0 C365.3,209.0 363.2,203.7 362.0,198.0 C360.8,192.3 359.7,186.3 361.0,180.0 C362.3,173.7 366.0,165.0 370.0,160.0 Z" fill="#030303" filter="url(#b0_6)"/>
<path d="M353.9,314.7 C354.9,322.2 364.9,343.8 370.9,355.2 C376.9,366.6 383.6,376.1 390.0,382.8 C396.4,389.5 401.0,393.1 409.2,395.6 C417.4,398.1 428.7,398.4 439.0,397.7 C449.3,397.0 462.1,394.9 471.0,391.4 C479.9,387.9 486.3,381.8 492.3,376.5 C498.3,371.2 503.3,366.5 507.2,359.4 C511.1,352.3 514.3,341.7 515.7,333.9 C517.1,326.1 518.3,317.6 515.7,312.6 C513.1,307.6 505.9,305.9 500.0,304.0 C494.1,302.1 486.7,301.7 480.0,301.0 C473.3,300.3 466.7,300.2 460.0,300.0 C453.3,299.8 446.7,299.8 440.0,300.0 C433.3,300.2 426.7,300.5 420.0,301.0 C413.3,301.5 406.7,302.0 400.0,303.0 C393.3,304.0 385.8,305.8 380.0,307.0 C374.2,308.2 369.4,308.7 365.0,310.0 C360.6,311.3 352.9,307.2 353.9,314.7 Z" fill="#030303" filter="url(#b0_6)"/>
<path d="M393.5,270.0 C393.5,271.9 393.4,273.8 393.2,275.6 C393.0,277.5 392.7,279.3 392.3,281.1 C392.0,282.9 391.5,284.7 390.9,286.5 C390.3,288.2 389.7,289.9 388.9,291.5 C388.2,293.1 387.4,294.7 386.5,296.2 C385.6,297.7 384.6,299.1 383.5,300.4 C382.5,301.7 381.4,303.0 380.2,304.1 C379.0,305.3 377.8,306.3 376.5,307.2 C375.2,308.2 373.9,309.0 372.5,309.7 C371.1,310.4 369.7,311.1 368.3,311.5 C366.9,312.0 365.4,312.4 363.9,312.6 C362.5,312.9 361.0,313.0 359.5,313.0 C358.0,313.0 356.5,312.9 355.1,312.6 C353.6,312.4 352.1,312.0 350.7,311.5 C349.3,311.1 347.9,310.4 346.5,309.7 C345.1,309.0 343.8,308.2 342.5,307.2 C341.2,306.3 340.0,305.3 338.8,304.1 C337.6,303.0 336.5,301.7 335.5,300.4 C334.4,299.1 333.4,297.7 332.5,296.2 C331.6,294.7 330.8,293.1 330.1,291.5 C329.3,289.9 328.7,288.2 328.1,286.5 C327.5,284.7 327.0,282.9 326.7,281.1 C326.3,279.3 326.0,277.5 325.8,275.6 C325.6,273.8 325.5,271.9 325.5,270.0 C325.5,268.1 325.6,266.2 325.8,264.4 C326.0,262.5 326.3,260.7 326.7,258.9 C327.0,257.1 327.5,255.3 328.1,253.5 C328.7,251.8 329.3,250.1 330.1,248.5 C330.8,246.9 331.6,245.3 332.5,243.8 C333.4,242.3 334.4,240.9 335.5,239.6 C336.5,238.3 337.6,237.0 338.8,235.9 C340.0,234.7 341.2,233.7 342.5,232.8 C343.8,231.8 345.1,231.0 346.5,230.3 C347.9,229.6 349.3,228.9 350.7,228.5 C352.1,228.0 353.6,227.6 355.1,227.4 C356.5,227.1 358.0,227.0 359.5,227.0 C361.0,227.0 362.5,227.1 363.9,227.4 C365.4,227.6 366.9,228.0 368.3,228.5 C369.7,228.9 371.1,229.6 372.5,230.3 C373.9,231.0 375.2,231.8 376.5,232.8 C377.8,233.7 379.0,234.7 380.2,235.9 C381.4,237.0 382.5,238.3 383.5,239.6 C384.6,240.9 385.6,242.3 386.5,243.8 C387.4,245.3 388.2,246.9 388.9,248.5 C389.7,250.1 390.3,251.8 390.9,253.5 C391.5,255.3 392.0,257.1 392.3,258.9 C392.7,260.7 393.0,262.5 393.2,264.4 C393.4,266.2 393.5,268.1 393.5,270.0 Z" fill="#030303" filter="url(#b0_6)"/>
<path d="M552.6,263.0 C552.6,265.0 552.5,267.1 552.3,269.1 C552.0,271.2 551.7,273.2 551.3,275.2 C550.8,277.1 550.3,279.1 549.6,281.0 C549.0,282.9 548.2,284.7 547.4,286.5 C546.5,288.3 545.6,290.0 544.5,291.6 C543.5,293.2 542.4,294.8 541.2,296.2 C540.0,297.7 538.7,299.0 537.3,300.3 C536.0,301.5 534.6,302.7 533.1,303.7 C531.6,304.7 530.1,305.6 528.5,306.4 C527.0,307.2 525.3,307.9 523.7,308.4 C522.1,308.9 520.4,309.3 518.7,309.6 C517.0,309.9 515.3,310.0 513.6,310.0 C511.9,310.0 510.2,309.9 508.5,309.6 C506.8,309.3 505.1,308.9 503.5,308.4 C501.9,307.9 500.2,307.2 498.7,306.4 C497.1,305.6 495.6,304.7 494.1,303.7 C492.6,302.7 491.2,301.5 489.9,300.3 C488.5,299.0 487.2,297.7 486.0,296.2 C484.8,294.8 483.7,293.2 482.7,291.6 C481.6,290.0 480.7,288.3 479.8,286.5 C479.0,284.7 478.2,282.9 477.6,281.0 C476.9,279.1 476.4,277.1 475.9,275.2 C475.5,273.2 475.2,271.2 474.9,269.1 C474.7,267.1 474.6,265.0 474.6,263.0 C474.6,261.0 474.7,258.9 474.9,256.9 C475.2,254.8 475.5,252.8 475.9,250.8 C476.4,248.9 476.9,246.9 477.6,245.0 C478.2,243.1 479.0,241.3 479.8,239.5 C480.7,237.7 481.6,236.0 482.7,234.4 C483.7,232.8 484.8,231.2 486.0,229.8 C487.2,228.3 488.5,227.0 489.9,225.7 C491.2,224.5 492.6,223.3 494.1,222.3 C495.6,221.3 497.1,220.4 498.7,219.6 C500.2,218.8 501.9,218.1 503.5,217.6 C505.1,217.1 506.8,216.7 508.5,216.4 C510.2,216.1 511.9,216.0 513.6,216.0 C515.3,216.0 517.0,216.1 518.7,216.4 C520.4,216.7 522.1,217.1 523.7,217.6 C525.3,218.1 527.0,218.8 528.5,219.6 C530.1,220.4 531.6,221.3 533.1,222.3 C534.6,223.3 536.0,224.5 537.3,225.7 C538.7,227.0 540.0,228.3 541.2,229.8 C542.4,231.2 543.5,232.8 544.5,234.4 C545.6,236.0 546.5,237.7 547.4,239.5 C548.2,241.3 549.0,243.1 549.6,245.0 C550.3,246.9 550.8,248.9 551.3,250.8 C551.7,252.8 552.0,254.8 552.3,256.9 C552.5,258.9 552.6,261.0 552.6,263.0 Z" fill="#030303" filter="url(#b0_6)"/>
<circle cx="380" cy="175" r="10" fill="#202020" filter="url(#b3)"/>
<circle cx="372" cy="200" r="9" fill="#1c1c1c" filter="url(#b3)"/>
<circle cx="395" cy="160" r="9" fill="#222" filter="url(#b3)"/>
<circle cx="490" cy="175" r="9" fill="#1e1e1e" filter="url(#b3)"/>
<circle cx="497" cy="195" r="8" fill="#1a1a1a" filter="url(#b3)"/>
<circle cx="470" cy="160" r="10" fill="#1c1c1c" filter="url(#b3)"/>
<circle cx="440" cy="160" r="12" fill="#181818" filter="url(#b3)"/>
<circle cx="418" cy="158" r="10" fill="#1c1c1c" filter="url(#b3)"/>
<circle cx="385" cy="225" r="10" fill="#181818" filter="url(#b3)"/>
<circle cx="480" cy="228" r="9" fill="#161616" filter="url(#b3)"/>
<circle cx="365" cy="320" r="9" fill="#1e1e1e" filter="url(#b3)"/>
<circle cx="505" cy="325" r="9" fill="#1a1a1a" filter="url(#b3)"/>
<circle cx="420" cy="392" r="10" fill="#141414" filter="url(#b3)"/>
<circle cx="470" cy="385" r="9" fill="#161616" filter="url(#b3)"/>
<path d="M393.5,270.0 C393.5,271.9 393.4,273.8 393.2,275.6 C393.0,277.5 392.7,279.3 392.3,281.1 C392.0,282.9 391.5,284.7 390.9,286.5 C390.3,288.2 389.7,289.9 388.9,291.5 C388.2,293.1 387.4,294.7 386.5,296.2 C385.6,297.7 384.6,299.1 383.5,300.4 C382.5,301.7 381.4,303.0 380.2,304.1 C379.0,305.3 377.8,306.3 376.5,307.2 C375.2,308.2 373.9,309.0 372.5,309.7 C371.1,310.4 369.7,311.1 368.3,311.5 C366.9,312.0 365.4,312.4 363.9,312.6 C362.5,312.9 361.0,313.0 359.5,313.0 C358.0,313.0 356.5,312.9 355.1,312.6 C353.6,312.4 352.1,312.0 350.7,311.5 C349.3,311.1 347.9,310.4 346.5,309.7 C345.1,309.0 343.8,308.2 342.5,307.2 C341.2,306.3 340.0,305.3 338.8,304.1 C337.6,303.0 336.5,301.7 335.5,300.4 C334.4,299.1 333.4,297.7 332.5,296.2 C331.6,294.7 330.8,293.1 330.1,291.5 C329.3,289.9 328.7,288.2 328.1,286.5 C327.5,284.7 327.0,282.9 326.7,281.1 C326.3,279.3 326.0,277.5 325.8,275.6 C325.6,273.8 325.5,271.9 325.5,270.0 C325.5,268.1 325.6,266.2 325.8,264.4 C326.0,262.5 326.3,260.7 326.7,258.9 C327.0,257.1 327.5,255.3 328.1,253.5 C328.7,251.8 329.3,250.1 330.1,248.5 C330.8,246.9 331.6,245.3 332.5,243.8 C333.4,242.3 334.4,240.9 335.5,239.6 C336.5,238.3 337.6,237.0 338.8,235.9 C340.0,234.7 341.2,233.7 342.5,232.8 C343.8,231.8 345.1,231.0 346.5,230.3 C347.9,229.6 349.3,228.9 350.7,228.5 C352.1,228.0 353.6,227.6 355.1,227.4 C356.5,227.1 358.0,227.0 359.5,227.0 C361.0,227.0 362.5,227.1 363.9,227.4 C365.4,227.6 366.9,228.0 368.3,228.5 C369.7,228.9 371.1,229.6 372.5,230.3 C373.9,231.0 375.2,231.8 376.5,232.8 C377.8,233.7 379.0,234.7 380.2,235.9 C381.4,237.0 382.5,238.3 383.5,239.6 C384.6,240.9 385.6,242.3 386.5,243.8 C387.4,245.3 388.2,246.9 388.9,248.5 C389.7,250.1 390.3,251.8 390.9,253.5 C391.5,255.3 392.0,257.1 392.3,258.9 C392.7,260.7 393.0,262.5 393.2,264.4 C393.4,266.2 393.5,268.1 393.5,270.0 Z" fill="none" stroke="#f4f4f4" stroke-width="2.4" filter="url(#b0_6)"/>
<path d="M552.6,263.0 C552.6,265.0 552.5,267.1 552.3,269.1 C552.0,271.2 551.7,273.2 551.3,275.2 C550.8,277.1 550.3,279.1 549.6,281.0 C549.0,282.9 548.2,284.7 547.4,286.5 C546.5,288.3 545.6,290.0 544.5,291.6 C543.5,293.2 542.4,294.8 541.2,296.2 C540.0,297.7 538.7,299.0 537.3,300.3 C536.0,301.5 534.6,302.7 533.1,303.7 C531.6,304.7 530.1,305.6 528.5,306.4 C527.0,307.2 525.3,307.9 523.7,308.4 C522.1,308.9 520.4,309.3 518.7,309.6 C517.0,309.9 515.3,310.0 513.6,310.0 C511.9,310.0 510.2,309.9 508.5,309.6 C506.8,309.3 505.1,308.9 503.5,308.4 C501.9,307.9 500.2,307.2 498.7,306.4 C497.1,305.6 495.6,304.7 494.1,303.7 C492.6,302.7 491.2,301.5 489.9,300.3 C488.5,299.0 487.2,297.7 486.0,296.2 C484.8,294.8 483.7,293.2 482.7,291.6 C481.6,290.0 480.7,288.3 479.8,286.5 C479.0,284.7 478.2,282.9 477.6,281.0 C476.9,279.1 476.4,277.1 475.9,275.2 C475.5,273.2 475.2,271.2 474.9,269.1 C474.7,267.1 474.6,265.0 474.6,263.0 C474.6,261.0 474.7,258.9 474.9,256.9 C475.2,254.8 475.5,252.8 475.9,250.8 C476.4,248.9 476.9,246.9 477.6,245.0 C478.2,243.1 479.0,241.3 479.8,239.5 C480.7,237.7 481.6,236.0 482.7,234.4 C483.7,232.8 484.8,231.2 486.0,229.8 C487.2,228.3 488.5,227.0 489.9,225.7 C491.2,224.5 492.6,223.3 494.1,222.3 C495.6,221.3 497.1,220.4 498.7,219.6 C500.2,218.8 501.9,218.1 503.5,217.6 C505.1,217.1 506.8,216.7 508.5,216.4 C510.2,216.1 511.9,216.0 513.6,216.0 C515.3,216.0 517.0,216.1 518.7,216.4 C520.4,216.7 522.1,217.1 523.7,217.6 C525.3,218.1 527.0,218.8 528.5,219.6 C530.1,220.4 531.6,221.3 533.1,222.3 C534.6,223.3 536.0,224.5 537.3,225.7 C538.7,227.0 540.0,228.3 541.2,229.8 C542.4,231.2 543.5,232.8 544.5,234.4 C545.6,236.0 546.5,237.7 547.4,239.5 C548.2,241.3 549.0,243.1 549.6,245.0 C550.3,246.9 550.8,248.9 551.3,250.8 C551.7,252.8 552.0,254.8 552.3,256.9 C552.5,258.9 552.6,261.0 552.6,263.0 Z" fill="none" stroke="#f4f4f4" stroke-width="2.4" filter="url(#b0_6)"/>
<path d="M412.9,112.3 C418.8,111.6 423.8,113.4 430.0,114.0 C436.2,114.6 442.9,114.9 450.0,116.0 C457.1,117.1 466.8,119.0 472.8,120.7 C478.8,122.4 480.8,122.3 485.8,126.0 C490.8,129.7 496.8,136.8 502.6,142.8 C508.4,148.8 516.1,156.4 520.8,162.2 C525.5,168.0 527.5,172.2 531.0,177.8 C534.5,183.4 537.6,191.2 541.5,196.0 C545.4,200.8 550.2,202.9 554.5,206.3 C558.8,209.8 563.3,212.8 567.4,216.7 C571.5,220.6 576.4,225.4 579.0,229.7 C581.6,234.0 582.1,237.2 583.0,242.6 C583.9,248.0 584.2,257.4 584.3,262.0 C584.4,266.6 584.6,265.8 583.8,270.0 C583.0,274.2 582.8,281.7 579.6,287.0 C576.4,292.3 570.3,297.7 564.6,302.0 C558.9,306.3 550.8,307.3 545.5,312.6 C540.2,317.9 535.2,326.8 532.7,333.9 C530.2,341.0 532.0,348.8 530.6,355.2 C529.2,361.6 526.0,366.5 524.2,372.2 C522.4,377.9 525.0,382.5 520.0,389.2 C515.0,395.9 503.6,406.9 494.4,412.6 C485.2,418.3 471.0,418.0 464.6,423.3 C458.2,428.6 461.7,441.1 456.0,444.6 C450.3,448.2 439.0,446.7 430.5,444.6 C422.0,442.5 413.5,437.5 405.0,431.8 C396.5,426.1 387.9,417.6 379.4,410.5 C370.9,403.4 360.3,396.6 353.9,389.2 C347.5,381.8 346.4,373.9 341.1,365.8 C335.8,357.7 328.0,347.1 322.0,340.3 C316.0,333.5 308.1,331.7 304.9,325.0 C301.6,318.3 302.9,308.8 302.5,300.0 C302.1,291.2 301.7,279.7 302.3,272.0 C302.9,264.3 304.2,260.1 306.0,253.6 C307.8,247.0 311.5,238.8 313.3,232.7 C315.1,226.5 315.2,221.8 317.0,216.7 C318.8,211.6 321.3,206.8 324.0,202.0 C326.7,197.2 329.8,193.3 333.0,188.0 C336.2,182.7 339.3,174.8 343.0,170.0 C346.7,165.2 351.2,163.0 355.0,159.0 C358.8,155.0 362.1,150.9 366.0,146.0 C369.9,141.1 373.8,134.1 378.5,129.5 C383.2,124.9 388.7,121.3 394.4,118.4 C400.1,115.5 407.0,113.0 412.9,112.3 Z" fill="none" stroke="#f4f4f4" stroke-width="3" filter="url(#b1)"/>
<ellipse cx="440" cy="298" rx="42" ry="9" fill="#000" opacity="0.75" filter="url(#b3)"/>
</g>
<line x1="331.0" y1="113.0" x2="352.0" y2="262.0" stroke="#ffc000" stroke-width="3.2" />
<polygon points="341,256 364,252 354,279" fill="#ffc000"/>
<line x1="331.0" y1="113.0" x2="512.0" y2="258.0" stroke="#ffc000" stroke-width="3.2" />
<polygon points="502,268 518,250 529,273" fill="#ffc000"/>
<text x="296.0" y="102.0" font-size="33" font-weight="bold" text-anchor="start" fill="#ffc000" >Metaxylem vessel</text>
<text x="350.0" y="496.0" font-size="33" font-weight="bold" text-anchor="start" fill="#000" >Large vein</text>
<rect x="596.0" y="68.8" width="97.4" height="387.0" fill="#000" />
<path d="M621.5,99 Q622,96.5 626,96.5 L660,99 Q666,100 666.5,104 L667.5,140 L664.5,424 Q664,429 658,429 L629,428 Q624,427 624,422 Z" fill="url(#vess)" filter="url(#b0_6)"/>
<rect x="630" y="108" width="6" height="316" fill="#d8d8d8" opacity="0.5" filter="url(#b1_5)"/>
<rect x="641" y="108" width="4" height="316" fill="#dcdcdc" opacity="0.55" filter="url(#b1_5)"/>
<rect x="647" y="108" width="3" height="316" fill="#8c8c8c" opacity="0.35" filter="url(#b1_5)"/>
<rect x="655" y="108" width="5" height="316" fill="#d0d0d0" opacity="0.45" filter="url(#b1_5)"/>
<rect x="626" y="108" width="3" height="316" fill="#9a9a9a" opacity="0.3" filter="url(#b1_5)"/>
<line x1="624" y1="108" x2="666" y2="108.4" stroke="#8a8a8a" stroke-width="0.7" opacity="0.35"/>
<line x1="624" y1="110" x2="666" y2="110.4" stroke="#8a8a8a" stroke-width="0.7" opacity="0.35"/>
<line x1="624" y1="112" x2="666" y2="112.4" stroke="#8a8a8a" stroke-width="0.7" opacity="0.35"/>
<line x1="624" y1="114" x2="666" y2="114.4" stroke="#8a8a8a" stroke-width="0.7" opacity="0.35"/>
<line x1="624" y1="116" x2="666" y2="116.4" stroke="#8a8a8a" stroke-width="0.7" opacity="0.35"/>
<line x1="624" y1="118" x2="666" y2="118.4" stroke="#8a8a8a" stroke-width="0.7" opacity="0.35"/>
<line x1="624" y1="120" x2="666" y2="120.4" stroke="#8a8a8a" stroke-width="0.7" opacity="0.35"/>
<line x1="624" y1="122" x2="666" y2="122.4" stroke="#8a8a8a" stroke-width="0.7" opacity="0.35"/>
<line x1="624" y1="124" x2="666" y2="124.4" stroke="#8a8a8a" stroke-width="0.7" opacity="0.35"/>
<line x1="624" y1="126" x2="666" y2="126.4" stroke="#8a8a8a" stroke-width="0.7" opacity="0.35"/>
<line x1="624" y1="128" x2="666" y2="128.4" stroke="#8a8a8a" stroke-width="0.7" opacity="0.35"/>
<line x1="624" y1="130" x2="666" y2="130.4" stroke="#8a8a8a" stroke-width="0.7" opacity="0.35"/>
<line x1="624" y1="132" x2="666" y2="132.4" stroke="#8a8a8a" stroke-width="0.7" opacity="0.35"/>
<line x1="624" y1="134" x2="666" y2="134.4" stroke="#8a8a8a" stroke-width="0.7" opacity="0.35"/>
<line x1="624" y1="136" x2="666" y2="136.4" stroke="#8a8a8a" stroke-width="0.7" opacity="0.35"/>
<line x1="624" y1="138" x2="666" y2="138.4" stroke="#8a8a8a" stroke-width="0.7" opacity="0.35"/>
<line x1="624" y1="140" x2="666" y2="140.4" stroke="#8a8a8a" stroke-width="0.7" opacity="0.35"/>
<line x1="624" y1="142" x2="666" y2="142.4" stroke="#8a8a8a" stroke-width="0.7" opacity="0.35"/>
<line x1="624" y1="144" x2="666" y2="144.4" stroke="#8a8a8a" stroke-width="0.7" opacity="0.35"/>
<line x1="624" y1="146" x2="666" y2="146.4" stroke="#8a8a8a" stroke-width="0.7" opacity="0.35"/>
<line x1="624" y1="148" x2="666" y2="148.4" stroke="#8a8a8a" stroke-width="0.7" opacity="0.35"/>
<line x1="624" y1="150" x2="666" y2="150.4" stroke="#8a8a8a" stroke-width="0.7" opacity="0.35"/>
<line x1="624" y1="152" x2="666" y2="152.4" stroke="#8a8a8a" stroke-width="0.7" opacity="0.35"/>
<line x1="624" y1="154" x2="666" y2="154.4" stroke="#8a8a8a" stroke-width="0.7" opacity="0.35"/>
<line x1="624" y1="156" x2="666" y2="156.4" stroke="#8a8a8a" stroke-width="0.7" opacity="0.35"/>
<line x1="624" y1="158" x2="666" y2="158.4" stroke="#8a8a8a" stroke-width="0.7" opacity="0.35"/>
<line x1="624" y1="160" x2="666" y2="160.4" stroke="#8a8a8a" stroke-width="0.7" opacity="0.35"/>
<line x1="624" y1="162" x2="666" y2="162.4" stroke="#8a8a8a" stroke-width="0.7" opacity="0.35"/>
<line x1="624" y1="164" x2="666" y2="164.4" stroke="#8a8a8a" stroke-width="0.7" opacity="0.35"/>
<line x1="624" y1="166" x2="666" y2="166.4" stroke="#8a8a8a" stroke-width="0.7" opacity="0.35"/>
<line x1="624" y1="168" x2="666" y2="168.4" stroke="#8a8a8a" stroke-width="0.7" opacity="0.35"/>
<line x1="624" y1="170" x2="666" y2="170.4" stroke="#8a8a8a" stroke-width="0.7" opacity="0.35"/>
<line x1="624" y1="172" x2="666" y2="172.4" stroke="#8a8a8a" stroke-width="0.7" opacity="0.35"/>
<line x1="624" y1="174" x2="666" y2="174.4" stroke="#8a8a8a" stroke-width="0.7" opacity="0.35"/>
<line x1="624" y1="176" x2="666" y2="176.4" stroke="#8a8a8a" stroke-width="0.7" opacity="0.35"/>
<line x1="624" y1="178" x2="666" y2="178.4" stroke="#8a8a8a" stroke-width="0.7" opacity="0.35"/>
<line x1="624" y1="180" x2="666" y2="180.4" stroke="#8a8a8a" stroke-width="0.7" opacity="0.35"/>
<line x1="624" y1="182" x2="666" y2="182.4" stroke="#8a8a8a" stroke-width="0.7" opacity="0.35"/>
<line x1="624" y1="184" x2="666" y2="184.4" stroke="#8a8a8a" stroke-width="0.7" opacity="0.35"/>
<line x1="624" y1="186" x2="666" y2="186.4" stroke="#8a8a8a" stroke-width="0.7" opacity="0.35"/>
<line x1="624" y1="188" x2="666" y2="188.4" stroke="#8a8a8a" stroke-width="0.7" opacity="0.35"/>
<line x1="624" y1="190" x2="666" y2="190.4" stroke="#8a8a8a" stroke-width="0.7" opacity="0.35"/>
<line x1="624" y1="192" x2="666" y2="192.4" stroke="#8a8a8a" stroke-width="0.7" opacity="0.35"/>
<line x1="624" y1="194" x2="666" y2="194.4" stroke="#8a8a8a" stroke-width="0.7" opacity="0.35"/>
<line x1="624" y1="196" x2="666" y2="196.4" stroke="#8a8a8a" stroke-width="0.7" opacity="0.35"/>
<line x1="624" y1="198" x2="666" y2="198.4" stroke="#8a8a8a" stroke-width="0.7" opacity="0.35"/>
<line x1="624" y1="200" x2="666" y2="200.4" stroke="#8a8a8a" stroke-width="0.7" opacity="0.35"/>
<line x1="624" y1="202" x2="666" y2="202.4" stroke="#8a8a8a" stroke-width="0.7" opacity="0.35"/>
<line x1="624" y1="204" x2="666" y2="204.4" stroke="#8a8a8a" stroke-width="0.7" opacity="0.35"/>
<line x1="624" y1="206" x2="666" y2="206.4" stroke="#8a8a8a" stroke-width="0.7" opacity="0.35"/>
<line x1="624" y1="208" x2="666" y2="208.4" stroke="#8a8a8a" stroke-width="0.7" opacity="0.35"/>
<line x1="624" y1="210" x2="666" y2="210.4" stroke="#8a8a8a" stroke-width="0.7" opacity="0.35"/>
<line x1="624" y1="212" x2="666" y2="212.4" stroke="#8a8a8a" stroke-width="0.7" opacity="0.35"/>
<line x1="624" y1="214" x2="666" y2="214.4" stroke="#8a8a8a" stroke-width="0.7" opacity="0.35"/>
<line x1="624" y1="216" x2="666" y2="216.4" stroke="#8a8a8a" stroke-width="0.7" opacity="0.35"/>
<line x1="624" y1="218" x2="666" y2="218.4" stroke="#8a8a8a" stroke-width="0.7" opacity="0.35"/>
<line x1="624" y1="220" x2="666" y2="220.4" stroke="#8a8a8a" stroke-width="0.7" opacity="0.35"/>
<line x1="624" y1="222" x2="666" y2="222.4" stroke="#8a8a8a" stroke-width="0.7" opacity="0.35"/>
<line x1="624" y1="224" x2="666" y2="224.4" stroke="#8a8a8a" stroke-width="0.7" opacity="0.35"/>
<line x1="624" y1="226" x2="666" y2="226.4" stroke="#8a8a8a" stroke-width="0.7" opacity="0.35"/>
<line x1="624" y1="228" x2="666" y2="228.4" stroke="#8a8a8a" stroke-width="0.7" opacity="0.35"/>
<line x1="624" y1="230" x2="666" y2="230.4" stroke="#8a8a8a" stroke-width="0.7" opacity="0.35"/>
<line x1="624" y1="232" x2="666" y2="232.4" stroke="#8a8a8a" stroke-width="0.7" opacity="0.35"/>
<line x1="624" y1="234" x2="666" y2="234.4" stroke="#8a8a8a" stroke-width="0.7" opacity="0.35"/>
<line x1="624" y1="236" x2="666" y2="236.4" stroke="#8a8a8a" stroke-width="0.7" opacity="0.35"/>
<line x1="624" y1="238" x2="666" y2="238.4" stroke="#8a8a8a" stroke-width="0.7" opacity="0.35"/>
<line x1="624" y1="240" x2="666" y2="240.4" stroke="#8a8a8a" stroke-width="0.7" opacity="0.35"/>
<line x1="624" y1="242" x2="666" y2="242.4" stroke="#8a8a8a" stroke-width="0.7" opacity="0.35"/>
<line x1="624" y1="244" x2="666" y2="244.4" stroke="#8a8a8a" stroke-width="0.7" opacity="0.35"/>
<line x1="624" y1="246" x2="666" y2="246.4" stroke="#8a8a8a" stroke-width="0.7" opacity="0.35"/>
<line x1="624" y1="248" x2="666" y2="248.4" stroke="#8a8a8a" stroke-width="0.7" opacity="0.35"/>
<line x1="624" y1="250" x2="666" y2="250.4" stroke="#8a8a8a" stroke-width="0.7" opacity="0.35"/>
<line x1="624" y1="252" x2="666" y2="252.4" stroke="#8a8a8a" stroke-width="0.7" opacity="0.35"/>
<line x1="624" y1="254" x2="666" y2="254.4" stroke="#8a8a8a" stroke-width="0.7" opacity="0.35"/>
<line x1="624" y1="256" x2="666" y2="256.4" stroke="#8a8a8a" stroke-width="0.7" opacity="0.35"/>
<line x1="624" y1="258" x2="666" y2="258.4" stroke="#8a8a8a" stroke-width="0.7" opacity="0.35"/>
<line x1="624" y1="260" x2="666" y2="260.4" stroke="#8a8a8a" stroke-width="0.7" opacity="0.35"/>
<line x1="624" y1="262" x2="666" y2="262.4" stroke="#8a8a8a" stroke-width="0.7" opacity="0.35"/>
<line x1="624" y1="264" x2="666" y2="264.4" stroke="#8a8a8a" stroke-width="0.7" opacity="0.35"/>
<line x1="624" y1="266" x2="666" y2="266.4" stroke="#8a8a8a" stroke-width="0.7" opacity="0.35"/>
<line x1="624" y1="268" x2="666" y2="268.4" stroke="#8a8a8a" stroke-width="0.7" opacity="0.35"/>
<line x1="624" y1="270" x2="666" y2="270.4" stroke="#8a8a8a" stroke-width="0.7" opacity="0.35"/>
<line x1="624" y1="272" x2="666" y2="272.4" stroke="#8a8a8a" stroke-width="0.7" opacity="0.35"/>
<line x1="624" y1="274" x2="666" y2="274.4" stroke="#8a8a8a" stroke-width="0.7" opacity="0.35"/>
<line x1="624" y1="276" x2="666" y2="276.4" stroke="#8a8a8a" stroke-width="0.7" opacity="0.35"/>
<line x1="624" y1="278" x2="666" y2="278.4" stroke="#8a8a8a" stroke-width="0.7" opacity="0.35"/>
<line x1="624" y1="280" x2="666" y2="280.4" stroke="#8a8a8a" stroke-width="0.7" opacity="0.35"/>
<line x1="624" y1="282" x2="666" y2="282.4" stroke="#8a8a8a" stroke-width="0.7" opacity="0.35"/>
<line x1="624" y1="284" x2="666" y2="284.4" stroke="#8a8a8a" stroke-width="0.7" opacity="0.35"/>
<line x1="624" y1="286" x2="666" y2="286.4" stroke="#8a8a8a" stroke-width="0.7" opacity="0.35"/>
<line x1="624" y1="288" x2="666" y2="288.4" stroke="#8a8a8a" stroke-width="0.7" opacity="0.35"/>
<line x1="624" y1="290" x2="666" y2="290.4" stroke="#8a8a8a" stroke-width="0.7" opacity="0.35"/>
<line x1="624" y1="292" x2="666" y2="292.4" stroke="#8a8a8a" stroke-width="0.7" opacity="0.35"/>
<line x1="624" y1="294" x2="666" y2="294.4" stroke="#8a8a8a" stroke-width="0.7" opacity="0.35"/>
<line x1="624" y1="296" x2="666" y2="296.4" stroke="#8a8a8a" stroke-width="0.7" opacity="0.35"/>
<line x1="624" y1="298" x2="666" y2="298.4" stroke="#8a8a8a" stroke-width="0.7" opacity="0.35"/>
<line x1="624" y1="300" x2="666" y2="300.4" stroke="#8a8a8a" stroke-width="0.7" opacity="0.35"/>
<line x1="624" y1="302" x2="666" y2="302.4" stroke="#8a8a8a" stroke-width="0.7" opacity="0.35"/>
<line x1="624" y1="304" x2="666" y2="304.4" stroke="#8a8a8a" stroke-width="0.7" opacity="0.35"/>
<line x1="624" y1="306" x2="666" y2="306.4" stroke="#8a8a8a" stroke-width="0.7" opacity="0.35"/>
<line x1="624" y1="308" x2="666" y2="308.4" stroke="#8a8a8a" stroke-width="0.7" opacity="0.35"/>
<line x1="624" y1="310" x2="666" y2="310.4" stroke="#8a8a8a" stroke-width="0.7" opacity="0.35"/>
<line x1="624" y1="312" x2="666" y2="312.4" stroke="#8a8a8a" stroke-width="0.7" opacity="0.35"/>
<line x1="624" y1="314" x2="666" y2="314.4" stroke="#8a8a8a" stroke-width="0.7" opacity="0.35"/>
<line x1="624" y1="316" x2="666" y2="316.4" stroke="#8a8a8a" stroke-width="0.7" opacity="0.35"/>
<line x1="624" y1="318" x2="666" y2="318.4" stroke="#8a8a8a" stroke-width="0.7" opacity="0.35"/>
<line x1="624" y1="320" x2="666" y2="320.4" stroke="#8a8a8a" stroke-width="0.7" opacity="0.35"/>
<line x1="624" y1="322" x2="666" y2="322.4" stroke="#8a8a8a" stroke-width="0.7" opacity="0.35"/>
<line x1="624" y1="324" x2="666" y2="324.4" stroke="#8a8a8a" stroke-width="0.7" opacity="0.35"/>
<line x1="624" y1="326" x2="666" y2="326.4" stroke="#8a8a8a" stroke-width="0.7" opacity="0.35"/>
<line x1="624" y1="328" x2="666" y2="328.4" stroke="#8a8a8a" stroke-width="0.7" opacity="0.35"/>
<line x1="624" y1="330" x2="666" y2="330.4" stroke="#8a8a8a" stroke-width="0.7" opacity="0.35"/>
<line x1="624" y1="332" x2="666" y2="332.4" stroke="#8a8a8a" stroke-width="0.7" opacity="0.35"/>
<line x1="624" y1="334" x2="666" y2="334.4" stroke="#8a8a8a" stroke-width="0.7" opacity="0.35"/>
<line x1="624" y1="336" x2="666" y2="336.4" stroke="#8a8a8a" stroke-width="0.7" opacity="0.35"/>
<line x1="624" y1="338" x2="666" y2="338.4" stroke="#8a8a8a" stroke-width="0.7" opacity="0.35"/>
<line x1="624" y1="340" x2="666" y2="340.4" stroke="#8a8a8a" stroke-width="0.7" opacity="0.35"/>
<line x1="624" y1="342" x2="666" y2="342.4" stroke="#8a8a8a" stroke-width="0.7" opacity="0.35"/>
<line x1="624" y1="344" x2="666" y2="344.4" stroke="#8a8a8a" stroke-width="0.7" opacity="0.35"/>
<line x1="624" y1="346" x2="666" y2="346.4" stroke="#8a8a8a" stroke-width="0.7" opacity="0.35"/>
<line x1="624" y1="348" x2="666" y2="348.4" stroke="#8a8a8a" stroke-width="0.7" opacity="0.35"/>
<line x1="624" y1="350" x2="666" y2="350.4" stroke="#8a8a8a" stroke-width="0.7" opacity="0.35"/>
<line x1="624" y1="352" x2="666" y2="352.4" stroke="#8a8a8a" stroke-width="0.7" opacity="0.35"/>
<line x1="624" y1="354" x2="666" y2="354.4" stroke="#8a8a8a" stroke-width="0.7" opacity="0.35"/>
<line x1="624" y1="356" x2="666" y2="356.4" stroke="#8a8a8a" stroke-width="0.7" opacity="0.35"/>
<line x1="624" y1="358" x2="666" y2="358.4" stroke="#8a8a8a" stroke-width="0.7" opacity="0.35"/>
<line x1="624" y1="360" x2="666" y2="360.4" stroke="#8a8a8a" stroke-width="0.7" opacity="0.35"/>
<line x1="624" y1="362" x2="666" y2="362.4" stroke="#8a8a8a" stroke-width="0.7" opacity="0.35"/>
<line x1="624" y1="364" x2="666" y2="364.4" stroke="#8a8a8a" stroke-width="0.7" opacity="0.35"/>
<line x1="624" y1="366" x2="666" y2="366.4" stroke="#8a8a8a" stroke-width="0.7" opacity="0.35"/>
<line x1="624" y1="368" x2="666" y2="368.4" stroke="#8a8a8a" stroke-width="0.7" opacity="0.35"/>
<line x1="624" y1="370" x2="666" y2="370.4" stroke="#8a8a8a" stroke-width="0.7" opacity="0.35"/>
<line x1="624" y1="372" x2="666" y2="372.4" stroke="#8a8a8a" stroke-width="0.7" opacity="0.35"/>
<line x1="624" y1="374" x2="666" y2="374.4" stroke="#8a8a8a" stroke-width="0.7" opacity="0.35"/>
<line x1="624" y1="376" x2="666" y2="376.4" stroke="#8a8a8a" stroke-width="0.7" opacity="0.35"/>
<line x1="624" y1="378" x2="666" y2="378.4" stroke="#8a8a8a" stroke-width="0.7" opacity="0.35"/>
<line x1="624" y1="380" x2="666" y2="380.4" stroke="#8a8a8a" stroke-width="0.7" opacity="0.35"/>
<line x1="624" y1="382" x2="666" y2="382.4" stroke="#8a8a8a" stroke-width="0.7" opacity="0.35"/>
<line x1="624" y1="384" x2="666" y2="384.4" stroke="#8a8a8a" stroke-width="0.7" opacity="0.35"/>
<line x1="624" y1="386" x2="666" y2="386.4" stroke="#8a8a8a" stroke-width="0.7" opacity="0.35"/>
<line x1="624" y1="388" x2="666" y2="388.4" stroke="#8a8a8a" stroke-width="0.7" opacity="0.35"/>
<line x1="624" y1="390" x2="666" y2="390.4" stroke="#8a8a8a" stroke-width="0.7" opacity="0.35"/>
<line x1="624" y1="392" x2="666" y2="392.4" stroke="#8a8a8a" stroke-width="0.7" opacity="0.35"/>
<line x1="624" y1="394" x2="666" y2="394.4" stroke="#8a8a8a" stroke-width="0.7" opacity="0.35"/>
<line x1="624" y1="396" x2="666" y2="396.4" stroke="#8a8a8a" stroke-width="0.7" opacity="0.35"/>
<line x1="624" y1="398" x2="666" y2="398.4" stroke="#8a8a8a" stroke-width="0.7" opacity="0.35"/>
<line x1="624" y1="400" x2="666" y2="400.4" stroke="#8a8a8a" stroke-width="0.7" opacity="0.35"/>
<line x1="624" y1="402" x2="666" y2="402.4" stroke="#8a8a8a" stroke-width="0.7" opacity="0.35"/>
<line x1="624" y1="404" x2="666" y2="404.4" stroke="#8a8a8a" stroke-width="0.7" opacity="0.35"/>
<line x1="624" y1="406" x2="666" y2="406.4" stroke="#8a8a8a" stroke-width="0.7" opacity="0.35"/>
<line x1="624" y1="408" x2="666" y2="408.4" stroke="#8a8a8a" stroke-width="0.7" opacity="0.35"/>
<line x1="624" y1="410" x2="666" y2="410.4" stroke="#8a8a8a" stroke-width="0.7" opacity="0.35"/>
<line x1="624" y1="412" x2="666" y2="412.4" stroke="#8a8a8a" stroke-width="0.7" opacity="0.35"/>
<line x1="624" y1="414" x2="666" y2="414.4" stroke="#8a8a8a" stroke-width="0.7" opacity="0.35"/>
<line x1="624" y1="416" x2="666" y2="416.4" stroke="#8a8a8a" stroke-width="0.7" opacity="0.35"/>
<line x1="624" y1="418" x2="666" y2="418.4" stroke="#8a8a8a" stroke-width="0.7" opacity="0.35"/>
<line x1="624" y1="420" x2="666" y2="420.4" stroke="#8a8a8a" stroke-width="0.7" opacity="0.35"/>
<line x1="624" y1="422" x2="666" y2="422.4" stroke="#8a8a8a" stroke-width="0.7" opacity="0.35"/>
<ellipse cx="644" cy="102.5" rx="18" ry="5" fill="#3c3c3c" stroke="#bdbdbd" stroke-width="1.2" transform="rotate(8 644 102.5)" filter="url(#b0_6)"/>
<ellipse cx="644" cy="424.5" rx="14" ry="3.2" fill="#555" stroke="#aaa" stroke-width="1" filter="url(#b0_6)"/>
<text x="594.0" y="496.0" font-size="33" font-weight="bold" text-anchor="start" fill="#000" >Vessel</text>
<text x="703.0" y="37.0" font-size="50" font-weight="bold" text-anchor="start" fill="#000" >b</text>
<line x1="885.2" y1="43.5" x2="885.2" y2="463.2" stroke="#000" stroke-width="3" />
<line x1="874.0" y1="452.2" x2="1404.5" y2="452.2" stroke="#000" stroke-width="3" />
<line x1="874.0" y1="452.2" x2="885.2" y2="452.2" stroke="#000" stroke-width="3" />
<text x="866.0" y="464.9" font-size="33" text-anchor="end" fill="#000" >0</text>
<line x1="874.0" y1="350.4" x2="885.2" y2="350.4" stroke="#000" stroke-width="3" />
<text x="866.0" y="363.1" font-size="33" text-anchor="end" fill="#000" >0.5</text>
<line x1="874.0" y1="248.6" x2="885.2" y2="248.6" stroke="#000" stroke-width="3" />
<text x="866.0" y="261.3" font-size="33" text-anchor="end" fill="#000" >1.0</text>
<line x1="874.0" y1="146.8" x2="885.2" y2="146.8" stroke="#000" stroke-width="3" />
<text x="866.0" y="159.5" font-size="33" text-anchor="end" fill="#000" >1.5</text>
<line x1="874.0" y1="45.0" x2="885.2" y2="45.0" stroke="#000" stroke-width="3" />
<text x="866.0" y="57.7" font-size="33" text-anchor="end" fill="#000" >2.0</text>
<line x1="885.2" y1="452.2" x2="885.2" y2="463.2" stroke="#000" stroke-width="3" />
<line x1="942.9" y1="452.2" x2="942.9" y2="463.2" stroke="#000" stroke-width="3" />
<line x1="1000.6" y1="452.2" x2="1000.6" y2="463.2" stroke="#000" stroke-width="3" />
<line x1="1058.3" y1="452.2" x2="1058.3" y2="463.2" stroke="#000" stroke-width="3" />
<line x1="1116.0" y1="452.2" x2="1116.0" y2="463.2" stroke="#000" stroke-width="3" />
<line x1="1173.7" y1="452.2" x2="1173.7" y2="463.2" stroke="#000" stroke-width="3" />
<line x1="1231.4" y1="452.2" x2="1231.4" y2="463.2" stroke="#000" stroke-width="3" />
<line x1="1289.1" y1="452.2" x2="1289.1" y2="463.2" stroke="#000" stroke-width="3" />
<line x1="1346.8" y1="452.2" x2="1346.8" y2="463.2" stroke="#000" stroke-width="3" />
<line x1="1404.5" y1="452.2" x2="1404.5" y2="463.2" stroke="#000" stroke-width="3" />
<text x="912.6" y="495.0" font-size="33" text-anchor="middle" fill="#000" >S1</text>
<text x="970.2" y="495.0" font-size="33" text-anchor="middle" fill="#000" >S2</text>
<text x="1028.0" y="495.0" font-size="33" text-anchor="middle" fill="#000" >S3</text>
<text x="1085.7" y="495.0" font-size="33" text-anchor="middle" fill="#000" >S4</text>
<text x="1143.4" y="495.0" font-size="33" text-anchor="middle" fill="#000" >S5</text>
<text x="1201.1" y="495.0" font-size="33" text-anchor="middle" fill="#000" >S6</text>
<text x="1258.8" y="495.0" font-size="33" text-anchor="middle" fill="#000" >S7</text>
<text x="1316.5" y="495.0" font-size="33" text-anchor="middle" fill="#000" >S8</text>
<text x="1374.2" y="495.0" font-size="33" text-anchor="middle" fill="#000" >S9</text>
<text x="0" y="0" font-size="33" font-weight="bold" text-anchor="middle" transform="translate(759.6,232.6) rotate(-90)">Xylose content</text>
<text x="0" y="0" font-size="33" font-weight="bold" text-anchor="middle" transform="translate(800.0,231.7) rotate(-90)">(mg/segment)</text>
<polyline points="914.1,431.8 971.8,414.5 1029.5,362.6 1087.2,327.0 1144.9,294.0 1202.6,262.9 1260.2,258.2 1318.0,214.0 1375.7,150.1" fill="none" stroke="#000" stroke-width="4.3" stroke-linejoin="round"/>
<line x1="905.6" y1="430.3" x2="922.6" y2="430.3" stroke="#000" stroke-width="2.6" />
<line x1="905.6" y1="433.3" x2="922.6" y2="433.3" stroke="#000" stroke-width="2.6" />
<circle cx="914.1" cy="431.8" r="6.6" fill="none" stroke="#000" stroke-width="3"/>
<line x1="963.2" y1="413.0" x2="980.2" y2="413.0" stroke="#000" stroke-width="2.6" />
<line x1="963.2" y1="416.0" x2="980.2" y2="416.0" stroke="#000" stroke-width="2.6" />
<circle cx="971.8" cy="414.5" r="6.6" fill="none" stroke="#000" stroke-width="3"/>
<line x1="1021.0" y1="360.6" x2="1038.0" y2="360.6" stroke="#000" stroke-width="2.6" />
<line x1="1021.0" y1="364.6" x2="1038.0" y2="364.6" stroke="#000" stroke-width="2.6" />
<circle cx="1029.5" cy="362.6" r="6.6" fill="none" stroke="#000" stroke-width="3"/>
<line x1="1078.7" y1="325.0" x2="1095.7" y2="325.0" stroke="#000" stroke-width="2.6" />
<line x1="1078.7" y1="329.0" x2="1095.7" y2="329.0" stroke="#000" stroke-width="2.6" />
<circle cx="1087.2" cy="327.0" r="6.6" fill="none" stroke="#000" stroke-width="3"/>
<line x1="1136.4" y1="292.0" x2="1153.4" y2="292.0" stroke="#000" stroke-width="2.6" />
<line x1="1136.4" y1="296.0" x2="1153.4" y2="296.0" stroke="#000" stroke-width="2.6" />
<circle cx="1144.9" cy="294.0" r="6.6" fill="none" stroke="#000" stroke-width="3"/>
<line x1="1194.1" y1="260.9" x2="1211.1" y2="260.9" stroke="#000" stroke-width="2.6" />
<line x1="1194.1" y1="264.9" x2="1211.1" y2="264.9" stroke="#000" stroke-width="2.6" />
<circle cx="1202.6" cy="262.9" r="6.6" fill="none" stroke="#000" stroke-width="3"/>
<line x1="1251.8" y1="255.2" x2="1268.8" y2="255.2" stroke="#000" stroke-width="2.6" />
<line x1="1251.8" y1="261.2" x2="1268.8" y2="261.2" stroke="#000" stroke-width="2.6" />
<circle cx="1260.2" cy="258.2" r="6.6" fill="none" stroke="#000" stroke-width="3"/>
<line x1="1309.5" y1="210.5" x2="1326.5" y2="210.5" stroke="#000" stroke-width="2.6" />
<line x1="1309.5" y1="217.5" x2="1326.5" y2="217.5" stroke="#000" stroke-width="2.6" />
<circle cx="1318.0" cy="214.0" r="6.6" fill="none" stroke="#000" stroke-width="3"/>
<line x1="1367.2" y1="145.6" x2="1384.2" y2="145.6" stroke="#000" stroke-width="2.6" />
<line x1="1367.2" y1="154.6" x2="1384.2" y2="154.6" stroke="#000" stroke-width="2.6" />
<circle cx="1375.7" cy="150.1" r="6.6" fill="none" stroke="#000" stroke-width="3"/>
<text x="5.0" y="567.0" font-size="50" font-weight="bold" text-anchor="start" fill="#000" >c</text>
<svg x="79.5" y="609.2" width="620" height="432.4" overflow="hidden"><g transform="translate(-79.5,-609.2)">
<rect x="79.5" y="609.2" width="620.0" height="432.4" fill="#d0d0d0" />
<rect x="112" y="600" width="24" height="450" fill="#cacaca" opacity="0.45" filter="url(#b6)"/>
<rect x="176" y="600" width="24" height="450" fill="#cacaca" opacity="0.45" filter="url(#b6)"/>
<rect x="236" y="600" width="24" height="450" fill="#cacaca" opacity="0.45" filter="url(#b6)"/>
<rect x="293" y="600" width="24" height="450" fill="#cacaca" opacity="0.45" filter="url(#b6)"/>
<rect x="352" y="600" width="24" height="450" fill="#cacaca" opacity="0.45" filter="url(#b6)"/>
<rect x="410.5" y="600" width="24" height="450" fill="#cacaca" opacity="0.45" filter="url(#b6)"/>
<rect x="469.5" y="600" width="24" height="450" fill="#cacaca" opacity="0.45" filter="url(#b6)"/>
<rect x="527.5" y="600" width="24" height="450" fill="#cacaca" opacity="0.45" filter="url(#b6)"/>
<rect x="585.5" y="600" width="24" height="450" fill="#cacaca" opacity="0.45" filter="url(#b6)"/>
<rect x="643" y="600" width="24" height="450" fill="#cacaca" opacity="0.45" filter="url(#b6)"/>
<ellipse cx="192.0" cy="641.0" rx="7.0" ry="5.0" fill="#c4c4c4" opacity="1" filter="url(#b2)"/>
<ellipse cx="248.0" cy="625.5" rx="12.1" ry="14.9" fill="#c9c9c9" opacity="1" filter="url(#b4)"/>
<path d="M-9.3,6.2 C-9.3,-15.6 9.3,-15.6 9.3,6.2 C7.5,11.4 -7.5,11.4 -9.3,6.2Z" transform="translate(248.0,624.0)" fill="#c4c4c4" opacity="1" filter="url(#b2_5)"/>
<ellipse cx="248.0" cy="640.0" rx="8.5" ry="6.0" fill="#6a6a6a" opacity="1" filter="url(#b2)"/>
<ellipse cx="305.0" cy="625.5" rx="12.1" ry="14.9" fill="#c9c9c9" opacity="1" filter="url(#b4)"/>
<path d="M-9.3,6.2 C-9.3,-15.6 9.3,-15.6 9.3,6.2 C7.5,11.4 -7.5,11.4 -9.3,6.2Z" transform="translate(305.0,624.0)" fill="#c4c4c4" opacity="1" filter="url(#b2_5)"/>
<ellipse cx="305.0" cy="640.0" rx="10.0" ry="6.0" fill="#2a2a2a" opacity="1" filter="url(#b2)"/>
<ellipse cx="364.0" cy="625.5" rx="12.1" ry="14.9" fill="#c9c9c9" opacity="1" filter="url(#b4)"/>
<path d="M-9.3,6.2 C-9.3,-15.6 9.3,-15.6 9.3,6.2 C7.5,11.4 -7.5,11.4 -9.3,6.2Z" transform="translate(364.0,624.0)" fill="#c4c4c4" opacity="1" filter="url(#b2_5)"/>
<ellipse cx="364.0" cy="640.0" rx="10.0" ry="6.0" fill="#2a2a2a" opacity="1" filter="url(#b2)"/>
<ellipse cx="422.5" cy="625.5" rx="12.1" ry="14.9" fill="#c9c9c9" opacity="1" filter="url(#b4)"/>
<path d="M-9.3,6.2 C-9.3,-15.6 9.3,-15.6 9.3,6.2 C7.5,11.4 -7.5,11.4 -9.3,6.2Z" transform="translate(422.5,624.0)" fill="#c4c4c4" opacity="1" filter="url(#b2_5)"/>
<ellipse cx="422.5" cy="640.0" rx="10.0" ry="6.0" fill="#2a2a2a" opacity="1" filter="url(#b2)"/>
<ellipse cx="481.5" cy="625.5" rx="12.1" ry="14.9" fill="#c9c9c9" opacity="1" filter="url(#b4)"/>
<path d="M-9.3,6.2 C-9.3,-15.6 9.3,-15.6 9.3,6.2 C7.5,11.4 -7.5,11.4 -9.3,6.2Z" transform="translate(481.5,624.0)" fill="#c4c4c4" opacity="1" filter="url(#b2_5)"/>
<ellipse cx="481.5" cy="640.0" rx="10.0" ry="6.0" fill="#2a2a2a" opacity="1" filter="url(#b2)"/>
<ellipse cx="539.5" cy="625.5" rx="12.1" ry="14.9" fill="#c9c9c9" opacity="1" filter="url(#b4)"/>
<path d="M-9.3,6.2 C-9.3,-15.6 9.3,-15.6 9.3,6.2 C7.5,11.4 -7.5,11.4 -9.3,6.2Z" transform="translate(539.5,624.0)" fill="#c4c4c4" opacity="1" filter="url(#b2_5)"/>
<ellipse cx="539.5" cy="640.0" rx="10.0" ry="6.0" fill="#2a2a2a" opacity="1" filter="url(#b2)"/>
<ellipse cx="597.5" cy="625.5" rx="12.1" ry="14.9" fill="#c9c9c9" opacity="1" filter="url(#b4)"/>
<path d="M-9.3,6.2 C-9.3,-15.6 9.3,-15.6 9.3,6.2 C7.5,11.4 -7.5,11.4 -9.3,6.2Z" transform="translate(597.5,624.0)" fill="#c4c4c4" opacity="1" filter="url(#b2_5)"/>
<ellipse cx="597.5" cy="640.0" rx="10.0" ry="6.0" fill="#2a2a2a" opacity="1" filter="url(#b2)"/>
<ellipse cx="655.0" cy="625.5" rx="12.1" ry="14.9" fill="#c9c9c9" opacity="1" filter="url(#b4)"/>
<path d="M-9.3,6.2 C-9.3,-15.6 9.3,-15.6 9.3,6.2 C7.5,11.4 -7.5,11.4 -9.3,6.2Z" transform="translate(655.0,624.0)" fill="#c4c4c4" opacity="1" filter="url(#b2_5)"/>
<ellipse cx="655.0" cy="640.0" rx="10.0" ry="6.0" fill="#2a2a2a" opacity="1" filter="url(#b2)"/>
<rect x="115" y="612" width="26" height="80" fill="#c2c2c2" filter="url(#b4)"/>
<ellipse cx="129.5" cy="690.5" rx="19.8" ry="16.1" fill="#5d5d5d" opacity="1" filter="url(#b4)"/>
<path d="M-15.3,6.7 C-15.3,-16.8 15.3,-16.8 15.3,6.7 C12.2,12.3 -12.2,12.3 -15.3,6.7Z" transform="translate(129.5,689.0)" fill="#000" opacity="1" filter="url(#b2_5)"/>
<ellipse cx="128.0" cy="671.5" rx="12.1" ry="9.2" fill="#b2b2b2" opacity="1" filter="url(#b4)"/>
<path d="M-9.3,3.8 C-9.3,-9.6 9.3,-9.6 9.3,3.8 C7.5,7.0 -7.5,7.0 -9.3,3.8Z" transform="translate(128.0,670.0)" fill="#9a9a9a" opacity="1" filter="url(#b2_5)"/>
<ellipse cx="125.0" cy="738.0" rx="7.0" ry="5.0" fill="#c0c0c0" opacity="1" filter="url(#b2)"/>
<ellipse cx="124.0" cy="799.5" rx="18.7" ry="14.9" fill="#5d5d5d" opacity="1" filter="url(#b4)"/>
<path d="M-14.4,6.2 C-14.4,-15.6 14.4,-15.6 14.4,6.2 C11.6,11.4 -11.6,11.4 -14.4,6.2Z" transform="translate(124.0,798.0)" fill="#000" opacity="1" filter="url(#b2_5)"/>
<ellipse cx="124.0" cy="850.0" rx="7.0" ry="5.0" fill="#c6c6c6" opacity="1" filter="url(#b2)"/>
<ellipse cx="188.0" cy="848.0" rx="7.0" ry="5.0" fill="#c6c6c6" opacity="1" filter="url(#b2)"/>
<ellipse cx="248.0" cy="737.0" rx="6.0" ry="4.5" fill="#b6b6b6" opacity="1" filter="url(#b2)"/>
<ellipse cx="248.0" cy="848.0" rx="7.0" ry="5.0" fill="#c6c6c6" opacity="1" filter="url(#b2)"/>
<ellipse cx="305.0" cy="737.0" rx="6.0" ry="4.5" fill="#b6b6b6" opacity="1" filter="url(#b2)"/>
<ellipse cx="305.0" cy="692.0" rx="6.0" ry="4.0" fill="#c8c8c8" opacity="1" filter="url(#b2)"/>
<ellipse cx="306.0" cy="803.0" rx="6.5" ry="5.0" fill="#bcbcbc" opacity="1" filter="url(#b2)"/>
<ellipse cx="305.0" cy="848.0" rx="7.0" ry="5.0" fill="#c6c6c6" opacity="1" filter="url(#b2)"/>
<ellipse cx="364.0" cy="737.0" rx="6.0" ry="4.5" fill="#b6b6b6" opacity="1" filter="url(#b2)"/>
<ellipse cx="364.0" cy="692.0" rx="6.0" ry="4.0" fill="#c8c8c8" opacity="1" filter="url(#b2)"/>
<ellipse cx="365.0" cy="803.0" rx="6.5" ry="5.0" fill="#bcbcbc" opacity="1" filter="url(#b2)"/>
<ellipse cx="364.0" cy="848.0" rx="7.0" ry="5.0" fill="#c6c6c6" opacity="1" filter="url(#b2)"/>
<ellipse cx="422.5" cy="737.0" rx="6.0" ry="4.5" fill="#b6b6b6" opacity="1" filter="url(#b2)"/>
<ellipse cx="422.5" cy="692.0" rx="6.0" ry="4.0" fill="#c8c8c8" opacity="1" filter="url(#b2)"/>
<ellipse cx="423.5" cy="803.0" rx="6.5" ry="5.0" fill="#bcbcbc" opacity="1" filter="url(#b2)"/>
<ellipse cx="422.5" cy="848.0" rx="7.0" ry="5.0" fill="#c6c6c6" opacity="1" filter="url(#b2)"/>
<ellipse cx="481.5" cy="737.0" rx="6.0" ry="4.5" fill="#b6b6b6" opacity="1" filter="url(#b2)"/>
<ellipse cx="481.5" cy="692.0" rx="6.0" ry="4.0" fill="#c8c8c8" opacity="1" filter="url(#b2)"/>
<ellipse cx="482.5" cy="803.0" rx="6.5" ry="5.0" fill="#bcbcbc" opacity="1" filter="url(#b2)"/>
<ellipse cx="481.5" cy="848.0" rx="7.0" ry="5.0" fill="#c6c6c6" opacity="1" filter="url(#b2)"/>
<ellipse cx="539.5" cy="737.0" rx="6.0" ry="4.5" fill="#b6b6b6" opacity="1" filter="url(#b2)"/>
<ellipse cx="539.5" cy="692.0" rx="6.0" ry="4.0" fill="#c8c8c8" opacity="1" filter="url(#b2)"/>
<ellipse cx="540.5" cy="803.0" rx="6.5" ry="5.0" fill="#bcbcbc" opacity="1" filter="url(#b2)"/>
<ellipse cx="539.5" cy="848.0" rx="7.0" ry="5.0" fill="#c6c6c6" opacity="1" filter="url(#b2)"/>
<ellipse cx="597.5" cy="737.0" rx="6.0" ry="4.5" fill="#b6b6b6" opacity="1" filter="url(#b2)"/>
<ellipse cx="597.5" cy="692.0" rx="6.0" ry="4.0" fill="#c8c8c8" opacity="1" filter="url(#b2)"/>
<ellipse cx="598.5" cy="803.0" rx="6.5" ry="5.0" fill="#bcbcbc" opacity="1" filter="url(#b2)"/>
<ellipse cx="597.5" cy="848.0" rx="7.0" ry="5.0" fill="#c6c6c6" opacity="1" filter="url(#b2)"/>
<ellipse cx="655.0" cy="737.0" rx="6.0" ry="4.5" fill="#b6b6b6" opacity="1" filter="url(#b2)"/>
<ellipse cx="655.0" cy="692.0" rx="6.0" ry="4.0" fill="#c8c8c8" opacity="1" filter="url(#b2)"/>
<ellipse cx="656.0" cy="803.0" rx="6.5" ry="5.0" fill="#bcbcbc" opacity="1" filter="url(#b2)"/>
<ellipse cx="655.0" cy="848.0" rx="7.0" ry="5.0" fill="#c6c6c6" opacity="1" filter="url(#b2)"/>
<ellipse cx="121.0" cy="913.5" rx="24.2" ry="14.9" fill="#5d5d5d" opacity="1" filter="url(#b4)"/>
<path d="M-18.7,6.2 C-18.7,-15.6 18.7,-15.6 18.7,6.2 C15.0,11.4 -15.0,11.4 -18.7,6.2Z" transform="translate(121.0,912.0)" fill="#000" opacity="1" filter="url(#b2_5)"/>
<ellipse cx="188.0" cy="916.5" rx="11.0" ry="7.5" fill="#b6b6b6" opacity="1" filter="url(#b4)"/>
<path d="M-8.5,3.1 C-8.5,-7.8 8.5,-7.8 8.5,3.1 C6.8,5.7 -6.8,5.7 -8.5,3.1Z" transform="translate(188.0,915.0)" fill="#a2a2a2" opacity="1" filter="url(#b2_5)"/>
<ellipse cx="247.0" cy="913.5" rx="17.6" ry="11.5" fill="#727272" opacity="1" filter="url(#b4)"/>
<path d="M-13.6,4.8 C-13.6,-12.0 13.6,-12.0 13.6,4.8 C10.9,8.8 -10.9,8.8 -13.6,4.8Z" transform="translate(247.0,912.0)" fill="#262626" opacity="1" filter="url(#b2_5)"/>
<ellipse cx="305.0" cy="912.0" rx="22.6" ry="16.7" fill="#5d5d5d" opacity="1" filter="url(#b4)"/>
<path d="M-17.4,7.0 C-17.4,-17.4 17.4,-17.4 17.4,7.0 C13.9,12.8 -13.9,12.8 -17.4,7.0Z" transform="translate(305.0,910.5)" fill="#000" opacity="1" filter="url(#b2_5)"/>
<ellipse cx="364.0" cy="912.0" rx="22.6" ry="16.7" fill="#5d5d5d" opacity="1" filter="url(#b4)"/>
<path d="M-17.4,7.0 C-17.4,-17.4 17.4,-17.4 17.4,7.0 C13.9,12.8 -13.9,12.8 -17.4,7.0Z" transform="translate(364.0,910.5)" fill="#000" opacity="1" filter="url(#b2_5)"/>
<ellipse cx="422.5" cy="912.0" rx="22.6" ry="16.7" fill="#5d5d5d" opacity="1" filter="url(#b4)"/>
<path d="M-17.4,7.0 C-17.4,-17.4 17.4,-17.4 17.4,7.0 C13.9,12.8 -13.9,12.8 -17.4,7.0Z" transform="translate(422.5,910.5)" fill="#000" opacity="1" filter="url(#b2_5)"/>
<ellipse cx="481.5" cy="912.0" rx="22.6" ry="16.7" fill="#5d5d5d" opacity="1" filter="url(#b4)"/>
<path d="M-17.4,7.0 C-17.4,-17.4 17.4,-17.4 17.4,7.0 C13.9,12.8 -13.9,12.8 -17.4,7.0Z" transform="translate(481.5,910.5)" fill="#000" opacity="1" filter="url(#b2_5)"/>
<ellipse cx="539.5" cy="912.0" rx="22.6" ry="16.7" fill="#5d5d5d" opacity="1" filter="url(#b4)"/>
<path d="M-17.4,7.0 C-17.4,-17.4 17.4,-17.4 17.4,7.0 C13.9,12.8 -13.9,12.8 -17.4,7.0Z" transform="translate(539.5,910.5)" fill="#000" opacity="1" filter="url(#b2_5)"/>
<ellipse cx="597.5" cy="912.0" rx="22.6" ry="16.7" fill="#5d5d5d" opacity="1" filter="url(#b4)"/>
<path d="M-17.4,7.0 C-17.4,-17.4 17.4,-17.4 17.4,7.0 C13.9,12.8 -13.9,12.8 -17.4,7.0Z" transform="translate(597.5,910.5)" fill="#000" opacity="1" filter="url(#b2_5)"/>
<ellipse cx="655.0" cy="912.0" rx="22.6" ry="16.7" fill="#5d5d5d" opacity="1" filter="url(#b4)"/>
<path d="M-17.4,7.0 C-17.4,-17.4 17.4,-17.4 17.4,7.0 C13.9,12.8 -13.9,12.8 -17.4,7.0Z" transform="translate(655.0,910.5)" fill="#000" opacity="1" filter="url(#b2_5)"/>
<ellipse cx="119.0" cy="1003.5" rx="28.6" ry="14.9" fill="#606060" opacity="1" filter="url(#b4)"/>
<path d="M-22.1,6.2 C-22.1,-15.6 22.1,-15.6 22.1,6.2 C17.7,11.4 -17.7,11.4 -22.1,6.2Z" transform="translate(119.0,1002.0)" fill="#050505" opacity="1" filter="url(#b2_5)"/>
<ellipse cx="188.0" cy="1006.0" rx="9.0" ry="5.5" fill="#bbbbbb" opacity="1" filter="url(#b2_5)"/>
<ellipse cx="246.0" cy="1006.5" rx="17.6" ry="10.3" fill="#7d7d7d" opacity="1" filter="url(#b4)"/>
<path d="M-13.6,4.3 C-13.6,-10.8 13.6,-10.8 13.6,4.3 C10.9,7.9 -10.9,7.9 -13.6,4.3Z" transform="translate(246.0,1005.0)" fill="#3a3a3a" opacity="1" filter="url(#b2_5)"/>
<ellipse cx="305.0" cy="1005.5" rx="20.9" ry="13.2" fill="#676767" opacity="1" filter="url(#b4)"/>
<path d="M-16.1,5.5 C-16.1,-13.8 16.1,-13.8 16.1,5.5 C12.9,10.1 -12.9,10.1 -16.1,5.5Z" transform="translate(305.0,1004.0)" fill="#121212" opacity="1" filter="url(#b2_5)"/>
<ellipse cx="364.0" cy="1005.5" rx="20.9" ry="13.2" fill="#676767" opacity="1" filter="url(#b4)"/>
<path d="M-16.1,5.5 C-16.1,-13.8 16.1,-13.8 16.1,5.5 C12.9,10.1 -12.9,10.1 -16.1,5.5Z" transform="translate(364.0,1004.0)" fill="#121212" opacity="1" filter="url(#b2_5)"/>
<ellipse cx="422.5" cy="1005.5" rx="20.9" ry="13.2" fill="#676767" opacity="1" filter="url(#b4)"/>
<path d="M-16.1,5.5 C-16.1,-13.8 16.1,-13.8 16.1,5.5 C12.9,10.1 -12.9,10.1 -16.1,5.5Z" transform="translate(422.5,1004.0)" fill="#121212" opacity="1" filter="url(#b2_5)"/>
<ellipse cx="481.5" cy="1005.5" rx="20.9" ry="13.2" fill="#676767" opacity="1" filter="url(#b4)"/>
<path d="M-16.1,5.5 C-16.1,-13.8 16.1,-13.8 16.1,5.5 C12.9,10.1 -12.9,10.1 -16.1,5.5Z" transform="translate(481.5,1004.0)" fill="#121212" opacity="1" filter="url(#b2_5)"/>
<ellipse cx="539.5" cy="1005.5" rx="20.9" ry="13.2" fill="#676767" opacity="1" filter="url(#b4)"/>
<path d="M-16.1,5.5 C-16.1,-13.8 16.1,-13.8 16.1,5.5 C12.9,10.1 -12.9,10.1 -16.1,5.5Z" transform="translate(539.5,1004.0)" fill="#121212" opacity="1" filter="url(#b2_5)"/>
<ellipse cx="597.5" cy="1005.5" rx="20.9" ry="13.2" fill="#676767" opacity="1" filter="url(#b4)"/>
<path d="M-16.1,5.5 C-16.1,-13.8 16.1,-13.8 16.1,5.5 C12.9,10.1 -12.9,10.1 -16.1,5.5Z" transform="translate(597.5,1004.0)" fill="#121212" opacity="1" filter="url(#b2_5)"/>
<ellipse cx="655.0" cy="1005.5" rx="20.9" ry="13.2" fill="#676767" opacity="1" filter="url(#b4)"/>
<path d="M-16.1,5.5 C-16.1,-13.8 16.1,-13.8 16.1,5.5 C12.9,10.1 -12.9,10.1 -16.1,5.5Z" transform="translate(655.0,1004.0)" fill="#121212" opacity="1" filter="url(#b2_5)"/>
<ellipse cx="664.0" cy="1014.5" rx="11.0" ry="5.8" fill="#8c8c8c" opacity="1" filter="url(#b4)"/>
<path d="M-8.5,2.4 C-8.5,-6.0 8.5,-6.0 8.5,2.4 C6.8,4.4 -6.8,4.4 -8.5,2.4Z" transform="translate(664.0,1013.0)" fill="#555" opacity="1" filter="url(#b2_5)"/>
<circle cx="246.5" cy="947.5" r="1.3" fill="#222"/>
<circle cx="89" cy="1030" r="1" fill="#666"/>
</g></svg>
<rect x="79.5" y="609.2" width="620" height="432.4" fill="none" stroke="#8c8c8c" stroke-width="1.2"/>
<line x1="67.7" y1="637.0" x2="79.5" y2="637.0" stroke="#000" stroke-width="3.2" />
<line x1="67.7" y1="908.7" x2="79.5" y2="908.7" stroke="#000" stroke-width="3.2" />
<line x1="67.7" y1="997.7" x2="79.5" y2="997.7" stroke="#000" stroke-width="3.2" />
<text x="1.5" y="650.7" font-size="32" font-weight="bold" text-anchor="start" fill="#000" >AX</text>
<text x="46.0" y="658.6" font-size="21" font-weight="bold" text-anchor="start" fill="#000" >4</text>
<text x="21.0" y="917.5" font-size="32" font-weight="bold" text-anchor="start" fill="#000" >X</text>
<text x="42.0" y="925.2" font-size="21" font-weight="bold" text-anchor="start" fill="#000" >2</text>
<text x="21.0" y="1007.4" font-size="32" font-weight="bold" text-anchor="start" fill="#000" >X</text>
<text x="42.0" y="1015.0" font-size="21" font-weight="bold" text-anchor="start" fill="#000" >1</text>
<text x="100.2" y="1080.5" font-size="33" text-anchor="middle" fill="#000" >Marker</text>
<text x="185.9" y="1080.5" font-size="33" text-anchor="middle" fill="#000" >S1</text>
<text x="242.7" y="1080.5" font-size="33" text-anchor="middle" fill="#000" >S2</text>
<text x="298.9" y="1080.5" font-size="33" text-anchor="middle" fill="#000" >S3</text>
<text x="358.5" y="1080.5" font-size="33" text-anchor="middle" fill="#000" >S4</text>
<text x="417.7" y="1080.5" font-size="33" text-anchor="middle" fill="#000" >S5</text>
<text x="476.7" y="1080.5" font-size="33" text-anchor="middle" fill="#000" >S6</text>
<text x="535.5" y="1080.5" font-size="33" text-anchor="middle" fill="#000" >S7</text>
<text x="595.5" y="1080.5" font-size="33" text-anchor="middle" fill="#000" >S8</text>
<text x="654.2" y="1080.5" font-size="33" text-anchor="middle" fill="#000" >S9</text>
<text x="703.0" y="566.0" font-size="50" font-weight="bold" text-anchor="start" fill="#000" >d</text>
<line x1="884.5" y1="571.3" x2="884.5" y2="1022.6" stroke="#000" stroke-width="3" />
<line x1="874.0" y1="1011.6" x2="1404.5" y2="1011.6" stroke="#000" stroke-width="3" />
<line x1="874.0" y1="1011.6" x2="884.5" y2="1011.6" stroke="#000" stroke-width="3" />
<text x="866.0" y="1024.3" font-size="33" text-anchor="end" fill="#000" >0</text>
<line x1="874.0" y1="865.3" x2="884.5" y2="865.3" stroke="#000" stroke-width="3" />
<text x="866.0" y="878.0" font-size="33" text-anchor="end" fill="#000" >0.2</text>
<line x1="874.0" y1="719.1" x2="884.5" y2="719.1" stroke="#000" stroke-width="3" />
<text x="866.0" y="731.8" font-size="33" text-anchor="end" fill="#000" >0.4</text>
<line x1="874.0" y1="572.8" x2="884.5" y2="572.8" stroke="#000" stroke-width="3" />
<text x="866.0" y="585.5" font-size="33" text-anchor="end" fill="#000" >0.6</text>
<line x1="884.5" y1="1011.6" x2="884.5" y2="1022.6" stroke="#000" stroke-width="3" />
<line x1="942.2" y1="1011.6" x2="942.2" y2="1022.6" stroke="#000" stroke-width="3" />
<line x1="999.9" y1="1011.6" x2="999.9" y2="1022.6" stroke="#000" stroke-width="3" />
<line x1="1057.6" y1="1011.6" x2="1057.6" y2="1022.6" stroke="#000" stroke-width="3" />
<line x1="1115.3" y1="1011.6" x2="1115.3" y2="1022.6" stroke="#000" stroke-width="3" />
<line x1="1173.0" y1="1011.6" x2="1173.0" y2="1022.6" stroke="#000" stroke-width="3" />
<line x1="1230.7" y1="1011.6" x2="1230.7" y2="1022.6" stroke="#000" stroke-width="3" />
<line x1="1288.4" y1="1011.6" x2="1288.4" y2="1022.6" stroke="#000" stroke-width="3" />
<line x1="1346.1" y1="1011.6" x2="1346.1" y2="1022.6" stroke="#000" stroke-width="3" />
<line x1="1403.8" y1="1011.6" x2="1403.8" y2="1022.6" stroke="#000" stroke-width="3" />
<text x="911.9" y="1052.4" font-size="33" text-anchor="middle" fill="#000" >S1</text>
<text x="969.5" y="1052.4" font-size="33" text-anchor="middle" fill="#000" >S2</text>
<text x="1027.2" y="1052.4" font-size="33" text-anchor="middle" fill="#000" >S3</text>
<text x="1085.0" y="1052.4" font-size="33" text-anchor="middle" fill="#000" >S4</text>
<text x="1142.7" y="1052.4" font-size="33" text-anchor="middle" fill="#000" >S5</text>
<text x="1200.3" y="1052.4" font-size="33" text-anchor="middle" fill="#000" >S6</text>
<text x="1258.0" y="1052.4" font-size="33" text-anchor="middle" fill="#000" >S7</text>
<text x="1315.8" y="1052.4" font-size="33" text-anchor="middle" fill="#000" >S8</text>
<text x="1373.5" y="1052.4" font-size="33" text-anchor="middle" fill="#000" >S9</text>
<text x="0" y="0" font-size="33" font-weight="bold" text-anchor="middle" transform="translate(764.0,804.0) rotate(-90)">Xylooligosaccharide content</text>
<text x="0" y="0" font-size="33" font-weight="bold" text-anchor="middle" transform="translate(806.0,804.0) rotate(-90)">(mg/segment)</text>
<polyline points="913.4,1006.5 971.0,977.2 1028.8,915.1 1086.5,865.3 1144.2,827.3 1201.8,771.7 1259.5,779.0 1317.2,766.6 1375.0,694.9" fill="none" stroke="#e67e35" stroke-width="4" stroke-linejoin="round"/>
<line x1="913.4" y1="1004.3" x2="913.4" y2="1008.7" stroke="#e67e35" stroke-width="2.5" />
<line x1="905.4" y1="1004.3" x2="921.4" y2="1004.3" stroke="#e67e35" stroke-width="2.5" />
<line x1="905.4" y1="1008.7" x2="921.4" y2="1008.7" stroke="#e67e35" stroke-width="2.5" />
<circle cx="913.4" cy="1006.5" r="7.8" fill="none" stroke="#c8602a" stroke-width="2.4"/>
<line x1="971.0" y1="974.3" x2="971.0" y2="980.2" stroke="#e67e35" stroke-width="2.5" />
<line x1="963.0" y1="974.3" x2="979.0" y2="974.3" stroke="#e67e35" stroke-width="2.5" />
<line x1="963.0" y1="980.2" x2="979.0" y2="980.2" stroke="#e67e35" stroke-width="2.5" />
<circle cx="971.0" cy="977.2" r="7.8" fill="none" stroke="#c8602a" stroke-width="2.4"/>
<line x1="1028.8" y1="909.2" x2="1028.8" y2="920.9" stroke="#e67e35" stroke-width="2.5" />
<line x1="1020.8" y1="909.2" x2="1036.8" y2="909.2" stroke="#e67e35" stroke-width="2.5" />
<line x1="1020.8" y1="920.9" x2="1036.8" y2="920.9" stroke="#e67e35" stroke-width="2.5" />
<circle cx="1028.8" cy="915.1" r="7.8" fill="none" stroke="#c8602a" stroke-width="2.4"/>
<line x1="1086.5" y1="862.4" x2="1086.5" y2="868.3" stroke="#e67e35" stroke-width="2.5" />
<line x1="1078.5" y1="862.4" x2="1094.5" y2="862.4" stroke="#e67e35" stroke-width="2.5" />
<line x1="1078.5" y1="868.3" x2="1094.5" y2="868.3" stroke="#e67e35" stroke-width="2.5" />
<circle cx="1086.5" cy="865.3" r="7.8" fill="none" stroke="#c8602a" stroke-width="2.4"/>
<line x1="1144.2" y1="820.0" x2="1144.2" y2="834.6" stroke="#e67e35" stroke-width="2.5" />
<line x1="1136.2" y1="820.0" x2="1152.2" y2="820.0" stroke="#e67e35" stroke-width="2.5" />
<line x1="1136.2" y1="834.6" x2="1152.2" y2="834.6" stroke="#e67e35" stroke-width="2.5" />
<circle cx="1144.2" cy="827.3" r="7.8" fill="none" stroke="#c8602a" stroke-width="2.4"/>
<line x1="1201.8" y1="763.7" x2="1201.8" y2="779.8" stroke="#e67e35" stroke-width="2.5" />
<line x1="1193.8" y1="763.7" x2="1209.8" y2="763.7" stroke="#e67e35" stroke-width="2.5" />
<line x1="1193.8" y1="779.8" x2="1209.8" y2="779.8" stroke="#e67e35" stroke-width="2.5" />
<circle cx="1201.8" cy="771.7" r="7.8" fill="none" stroke="#c8602a" stroke-width="2.4"/>
<line x1="1259.5" y1="769.5" x2="1259.5" y2="788.5" stroke="#e67e35" stroke-width="2.5" />
<line x1="1251.5" y1="769.5" x2="1267.5" y2="769.5" stroke="#e67e35" stroke-width="2.5" />
<line x1="1251.5" y1="788.5" x2="1267.5" y2="788.5" stroke="#e67e35" stroke-width="2.5" />
<circle cx="1259.5" cy="779.0" r="7.8" fill="none" stroke="#c8602a" stroke-width="2.4"/>
<line x1="1317.2" y1="761.5" x2="1317.2" y2="771.7" stroke="#e67e35" stroke-width="2.5" />
<line x1="1309.2" y1="761.5" x2="1325.2" y2="761.5" stroke="#e67e35" stroke-width="2.5" />
<line x1="1309.2" y1="771.7" x2="1325.2" y2="771.7" stroke="#e67e35" stroke-width="2.5" />
<circle cx="1317.2" cy="766.6" r="7.8" fill="none" stroke="#c8602a" stroke-width="2.4"/>
<line x1="1375.0" y1="675.2" x2="1375.0" y2="714.7" stroke="#e67e35" stroke-width="2.5" />
<line x1="1367.0" y1="675.2" x2="1383.0" y2="675.2" stroke="#e67e35" stroke-width="2.5" />
<line x1="1367.0" y1="714.7" x2="1383.0" y2="714.7" stroke="#e67e35" stroke-width="2.5" />
<circle cx="1375.0" cy="694.9" r="7.8" fill="none" stroke="#c8602a" stroke-width="2.4"/>
<polyline points="913.4,1008.7 971.0,999.2 1028.8,975.0 1086.5,957.5 1144.2,942.9 1201.8,921.6 1259.5,922.4 1317.2,917.3 1375.0,891.7" fill="none" stroke="#4472c4" stroke-width="4" stroke-linejoin="round"/>
<polygon points="913.4,997.7 924.4,1008.7 913.4,1019.7 902.4,1008.7" fill="none" stroke="#3a64b4" stroke-width="2.2"/>
<line x1="971.0" y1="997.0" x2="971.0" y2="1001.4" stroke="#4472c4" stroke-width="2.5" />
<line x1="963.0" y1="997.0" x2="979.0" y2="997.0" stroke="#4472c4" stroke-width="2.5" />
<line x1="963.0" y1="1001.4" x2="979.0" y2="1001.4" stroke="#4472c4" stroke-width="2.5" />
<polygon points="971.0,988.2 982.0,999.2 971.0,1010.2 960.0,999.2" fill="none" stroke="#3a64b4" stroke-width="2.2"/>
<line x1="1028.8" y1="972.1" x2="1028.8" y2="978.0" stroke="#4472c4" stroke-width="2.5" />
<line x1="1020.8" y1="972.1" x2="1036.8" y2="972.1" stroke="#4472c4" stroke-width="2.5" />
<line x1="1020.8" y1="978.0" x2="1036.8" y2="978.0" stroke="#4472c4" stroke-width="2.5" />
<polygon points="1028.8,964.0 1039.8,975.0 1028.8,986.0 1017.8,975.0" fill="none" stroke="#3a64b4" stroke-width="2.2"/>
<line x1="1086.5" y1="954.6" x2="1086.5" y2="960.4" stroke="#4472c4" stroke-width="2.5" />
<line x1="1078.5" y1="954.6" x2="1094.5" y2="954.6" stroke="#4472c4" stroke-width="2.5" />
<line x1="1078.5" y1="960.4" x2="1094.5" y2="960.4" stroke="#4472c4" stroke-width="2.5" />
<polygon points="1086.5,946.5 1097.5,957.5 1086.5,968.5 1075.5,957.5" fill="none" stroke="#3a64b4" stroke-width="2.2"/>
<line x1="1144.2" y1="939.2" x2="1144.2" y2="946.5" stroke="#4472c4" stroke-width="2.5" />
<line x1="1136.2" y1="939.2" x2="1152.2" y2="939.2" stroke="#4472c4" stroke-width="2.5" />
<line x1="1136.2" y1="946.5" x2="1152.2" y2="946.5" stroke="#4472c4" stroke-width="2.5" />
<polygon points="1144.2,931.9 1155.2,942.9 1144.2,953.9 1133.2,942.9" fill="none" stroke="#3a64b4" stroke-width="2.2"/>
<line x1="1201.8" y1="918.0" x2="1201.8" y2="925.3" stroke="#4472c4" stroke-width="2.5" />
<line x1="1193.8" y1="918.0" x2="1209.8" y2="918.0" stroke="#4472c4" stroke-width="2.5" />
<line x1="1193.8" y1="925.3" x2="1209.8" y2="925.3" stroke="#4472c4" stroke-width="2.5" />
<polygon points="1201.8,910.6 1212.8,921.6 1201.8,932.6 1190.8,921.6" fill="none" stroke="#3a64b4" stroke-width="2.2"/>
<line x1="1259.5" y1="918.0" x2="1259.5" y2="926.8" stroke="#4472c4" stroke-width="2.5" />
<line x1="1251.5" y1="918.0" x2="1267.5" y2="918.0" stroke="#4472c4" stroke-width="2.5" />
<line x1="1251.5" y1="926.8" x2="1267.5" y2="926.8" stroke="#4472c4" stroke-width="2.5" />
<polygon points="1259.5,911.4 1270.5,922.4 1259.5,933.4 1248.5,922.4" fill="none" stroke="#3a64b4" stroke-width="2.2"/>
<line x1="1317.2" y1="914.3" x2="1317.2" y2="920.2" stroke="#4472c4" stroke-width="2.5" />
<line x1="1309.2" y1="914.3" x2="1325.2" y2="914.3" stroke="#4472c4" stroke-width="2.5" />
<line x1="1309.2" y1="920.2" x2="1325.2" y2="920.2" stroke="#4472c4" stroke-width="2.5" />
<polygon points="1317.2,906.3 1328.2,917.3 1317.2,928.3 1306.2,917.3" fill="none" stroke="#3a64b4" stroke-width="2.2"/>
<line x1="1375.0" y1="880.7" x2="1375.0" y2="902.6" stroke="#4472c4" stroke-width="2.5" />
<line x1="1367.0" y1="880.7" x2="1383.0" y2="880.7" stroke="#4472c4" stroke-width="2.5" />
<line x1="1367.0" y1="902.6" x2="1383.0" y2="902.6" stroke="#4472c4" stroke-width="2.5" />
<polygon points="1375.0,880.7 1386.0,891.7 1375.0,902.7 1364.0,891.7" fill="none" stroke="#3a64b4" stroke-width="2.2"/>
<polyline points="913.4,1007.2 971.0,988.2 1028.8,945.0 1086.5,909.9 1144.2,885.1 1201.8,846.3 1259.5,850.7 1317.2,841.2 1375.0,794.4" fill="none" stroke="#a5a5a5" stroke-width="4" stroke-linejoin="round"/>
<polygon points="913.4,998.7 921.1,1013.7 905.6,1013.7" fill="none" stroke="#333333" stroke-width="3" stroke-linejoin="miter"/>
<line x1="971.0" y1="985.3" x2="971.0" y2="991.1" stroke="#a5a5a5" stroke-width="2.5" />
<line x1="963.0" y1="985.3" x2="979.0" y2="985.3" stroke="#a5a5a5" stroke-width="2.5" />
<line x1="963.0" y1="991.1" x2="979.0" y2="991.1" stroke="#a5a5a5" stroke-width="2.5" />
<polygon points="971.0,979.7 978.8,994.7 963.2,994.7" fill="none" stroke="#333333" stroke-width="3" stroke-linejoin="miter"/>
<line x1="1028.8" y1="934.8" x2="1028.8" y2="955.3" stroke="#a5a5a5" stroke-width="2.5" />
<line x1="1020.8" y1="934.8" x2="1036.8" y2="934.8" stroke="#a5a5a5" stroke-width="2.5" />
<line x1="1020.8" y1="955.3" x2="1036.8" y2="955.3" stroke="#a5a5a5" stroke-width="2.5" />
<polygon points="1028.8,936.5 1036.5,951.5 1021.0,951.5" fill="none" stroke="#333333" stroke-width="3" stroke-linejoin="miter"/>
<line x1="1086.5" y1="899.7" x2="1086.5" y2="920.2" stroke="#a5a5a5" stroke-width="2.5" />
<line x1="1078.5" y1="899.7" x2="1094.5" y2="899.7" stroke="#a5a5a5" stroke-width="2.5" />
<line x1="1078.5" y1="920.2" x2="1094.5" y2="920.2" stroke="#a5a5a5" stroke-width="2.5" />
<polygon points="1086.5,901.4 1094.2,916.4 1078.7,916.4" fill="none" stroke="#333333" stroke-width="3" stroke-linejoin="miter"/>
<line x1="1144.2" y1="877.8" x2="1144.2" y2="892.4" stroke="#a5a5a5" stroke-width="2.5" />
<line x1="1136.2" y1="877.8" x2="1152.2" y2="877.8" stroke="#a5a5a5" stroke-width="2.5" />
<line x1="1136.2" y1="892.4" x2="1152.2" y2="892.4" stroke="#a5a5a5" stroke-width="2.5" />
<polygon points="1144.2,876.6 1152.0,891.6 1136.4,891.6" fill="none" stroke="#333333" stroke-width="3" stroke-linejoin="miter"/>
<line x1="1201.8" y1="829.5" x2="1201.8" y2="863.1" stroke="#a5a5a5" stroke-width="2.5" />
<line x1="1193.8" y1="829.5" x2="1209.8" y2="829.5" stroke="#a5a5a5" stroke-width="2.5" />
<line x1="1193.8" y1="863.1" x2="1209.8" y2="863.1" stroke="#a5a5a5" stroke-width="2.5" />
<polygon points="1201.8,837.8 1209.6,852.8 1194.0,852.8" fill="none" stroke="#333333" stroke-width="3" stroke-linejoin="miter"/>
<line x1="1259.5" y1="828.0" x2="1259.5" y2="873.4" stroke="#a5a5a5" stroke-width="2.5" />
<line x1="1251.5" y1="828.0" x2="1267.5" y2="828.0" stroke="#a5a5a5" stroke-width="2.5" />
<line x1="1251.5" y1="873.4" x2="1267.5" y2="873.4" stroke="#a5a5a5" stroke-width="2.5" />
<polygon points="1259.5,842.2 1267.3,857.2 1251.8,857.2" fill="none" stroke="#333333" stroke-width="3" stroke-linejoin="miter"/>
<line x1="1317.2" y1="821.5" x2="1317.2" y2="860.9" stroke="#a5a5a5" stroke-width="2.5" />
<line x1="1309.2" y1="821.5" x2="1325.2" y2="821.5" stroke="#a5a5a5" stroke-width="2.5" />
<line x1="1309.2" y1="860.9" x2="1325.2" y2="860.9" stroke="#a5a5a5" stroke-width="2.5" />
<polygon points="1317.2,832.7 1325.0,847.7 1309.5,847.7" fill="none" stroke="#333333" stroke-width="3" stroke-linejoin="miter"/>
<line x1="1375.0" y1="760.8" x2="1375.0" y2="828.0" stroke="#a5a5a5" stroke-width="2.5" />
<line x1="1367.0" y1="760.8" x2="1383.0" y2="760.8" stroke="#a5a5a5" stroke-width="2.5" />
<line x1="1367.0" y1="828.0" x2="1383.0" y2="828.0" stroke="#a5a5a5" stroke-width="2.5" />
<polygon points="1375.0,785.9 1382.8,800.9 1367.2,800.9" fill="none" stroke="#333333" stroke-width="3" stroke-linejoin="miter"/>
<line x1="947.4" y1="584.4" x2="1007.0" y2="584.4" stroke="#4472c4" stroke-width="2.5" />
<polygon points="977.2,573.4 988.2,584.4 977.2,595.4 966.2,584.4" fill="none" stroke="#3a64b4" stroke-width="2.2"/>
<line x1="947.4" y1="630.4" x2="1007.0" y2="630.4" stroke="#e67e35" stroke-width="2.5" />
<circle cx="976.6" cy="630.4" r="7.8" fill="none" stroke="#c8602a" stroke-width="2.4"/>
<line x1="947.4" y1="670.7" x2="1007.0" y2="670.7" stroke="#a5a5a5" stroke-width="2.5" />
<polygon points="977.5,662.0 985.3,677.0 969.7,677.0" fill="none" stroke="#555555" stroke-width="3" stroke-linejoin="miter"/>
<text x="1013.5" y="596.1" font-size="32" font-weight="bold" text-anchor="start" fill="#000" >X</text>
<text x="1037.0" y="603.7" font-size="21" font-weight="bold" text-anchor="start" fill="#000" >1</text>
<text x="1013.5" y="642.9" font-size="32" font-weight="bold" text-anchor="start" fill="#000" >X</text>
<text x="1037.0" y="650.5" font-size="21" font-weight="bold" text-anchor="start" fill="#000" >2</text>
<text x="1013.5" y="683.2" font-size="32" font-weight="bold" text-anchor="start" fill="#000" >AX</text>
<text x="1059.0" y="691.5" font-size="21" font-weight="bold" text-anchor="start" fill="#000" >4</text>
<text x="5.0" y="1120.0" font-size="50" font-weight="bold" text-anchor="start" fill="#000" >e</text>
<clipPath id="tc0"><rect x="67" y="1131.1" width="92.7" height="299.2"/></clipPath>
<g clip-path="url(#tc0)">
<rect x="67.0" y="1131.1" width="92.7" height="299.2" fill="#da00da" />
<ellipse cx="145.3" cy="1357.9" rx="15.8" ry="21.6" fill="#b800b8" opacity="0.7" filter="url(#b8)"/>
<ellipse cx="112.0" cy="1405.8" rx="34.4" ry="14.3" fill="#f400f4" opacity="0.7" filter="url(#b8)"/>
<ellipse cx="149.7" cy="1196.5" rx="20.6" ry="19.1" fill="#fa00fa" opacity="0.7" filter="url(#b8)"/>
<ellipse cx="124.3" cy="1206.1" rx="34.7" ry="19.7" fill="#c400c4" opacity="0.7" filter="url(#b8)"/>
<ellipse cx="150.6" cy="1223.9" rx="33.0" ry="18.2" fill="#f000f0" opacity="0.7" filter="url(#b8)"/>
<ellipse cx="110.8" cy="1161.2" rx="21.3" ry="17.7" fill="#b800b8" opacity="0.7" filter="url(#b8)"/>
<ellipse cx="86.0" cy="1296.4" rx="32.3" ry="13.1" fill="#b800b8" opacity="0.7" filter="url(#b8)"/>
<ellipse cx="141.6" cy="1295.3" rx="16.9" ry="20.1" fill="#f000f0" opacity="0.7" filter="url(#b8)"/>
<ellipse cx="132.8" cy="1366.0" rx="27.2" ry="19.9" fill="#f000f0" opacity="0.7" filter="url(#b8)"/>
<ellipse cx="97.9" cy="1349.6" rx="18.8" ry="16.8" fill="#f000f0" opacity="0.7" filter="url(#b8)"/>
<ellipse cx="89.1" cy="1420.6" rx="24.0" ry="11.0" fill="#c400c4" opacity="0.7" filter="url(#b8)"/>
<ellipse cx="96.7" cy="1283.1" rx="17.2" ry="16.6" fill="#b800b8" opacity="0.7" filter="url(#b8)"/>
<ellipse cx="132.5" cy="1294.9" rx="19.1" ry="19.6" fill="#c400c4" opacity="0.7" filter="url(#b8)"/>
<ellipse cx="117.7" cy="1217.2" rx="26.9" ry="14.6" fill="#f000f0" opacity="0.7" filter="url(#b8)"/>
<ellipse cx="132.0" cy="1160.0" rx="28.5" ry="14.5" fill="#7a007a" opacity="0.55" transform="rotate(-10 132.0 1160.0)" filter="url(#b3)"/>
<ellipse cx="91.7" cy="1200.0" rx="25.0" ry="13.5" fill="#7a007a" opacity="0.55" transform="rotate(-15 91.7 1200.0)" filter="url(#b3)"/>
<ellipse cx="138.3" cy="1208.6" rx="24.0" ry="14.5" fill="#7a007a" opacity="0.55" transform="rotate(-12 138.3 1208.6)" filter="url(#b3)"/>
<ellipse cx="93.9" cy="1250.0" rx="24.0" ry="14.5" fill="#7a007a" opacity="0.55" transform="rotate(-15 93.9 1250.0)" filter="url(#b3)"/>
<ellipse cx="134.1" cy="1260.5" rx="21.0" ry="12.5" fill="#7a007a" opacity="0.55" transform="rotate(-12 134.1 1260.5)" filter="url(#b3)"/>
<ellipse cx="91.7" cy="1292.0" rx="23.0" ry="13.5" fill="#7a007a" opacity="0.55" transform="rotate(-12 91.7 1292.0)" filter="url(#b3)"/>
<ellipse cx="129.8" cy="1311.0" rx="26.0" ry="14.0" fill="#7a007a" opacity="0.55" transform="rotate(-15 129.8 1311.0)" filter="url(#b3)"/>
<ellipse cx="93.9" cy="1350.0" rx="28.0" ry="14.5" fill="#7a007a" opacity="0.55" transform="rotate(-15 93.9 1350.0)" filter="url(#b3)"/>
<ellipse cx="115.0" cy="1386.0" rx="31.5" ry="13.5" fill="#7a007a" opacity="0.55" transform="rotate(-10 115.0 1386.0)" filter="url(#b3)"/>
<ellipse cx="68.5" cy="1152.0" rx="7.0" ry="10.0" fill="#7a007a" opacity="0.55" transform="rotate(0 68.5 1152.0)" filter="url(#b3)"/>
<ellipse cx="132.0" cy="1160.0" rx="25.5" ry="11.5" fill="#160016" transform="rotate(-10 132.0 1160.0)" filter="url(#b2)"/>
<ellipse cx="91.7" cy="1200.0" rx="22.0" ry="10.5" fill="#160016" transform="rotate(-15 91.7 1200.0)" filter="url(#b2)"/>
<ellipse cx="138.3" cy="1208.6" rx="21.0" ry="11.5" fill="#160016" transform="rotate(-12 138.3 1208.6)" filter="url(#b2)"/>
<ellipse cx="93.9" cy="1250.0" rx="21.0" ry="11.5" fill="#160016" transform="rotate(-15 93.9 1250.0)" filter="url(#b2)"/>
<ellipse cx="134.1" cy="1260.5" rx="18.0" ry="9.5" fill="#160016" transform="rotate(-12 134.1 1260.5)" filter="url(#b2)"/>
<ellipse cx="91.7" cy="1292.0" rx="20.0" ry="10.5" fill="#160016" transform="rotate(-12 91.7 1292.0)" filter="url(#b2)"/>
<ellipse cx="129.8" cy="1311.0" rx="23.0" ry="11.0" fill="#160016" transform="rotate(-15 129.8 1311.0)" filter="url(#b2)"/>
<ellipse cx="93.9" cy="1350.0" rx="25.0" ry="11.5" fill="#160016" transform="rotate(-15 93.9 1350.0)" filter="url(#b2)"/>
<ellipse cx="115.0" cy="1386.0" rx="28.5" ry="10.5" fill="#160016" transform="rotate(-10 115.0 1386.0)" filter="url(#b2)"/>
<ellipse cx="68.5" cy="1152.0" rx="4.0" ry="7.0" fill="#160016" transform="rotate(0 68.5 1152.0)" filter="url(#b2)"/>
</g>
<text x="113.3" y="1460.5" font-size="33" text-anchor="middle" fill="#000" >S2</text>
<clipPath id="tc1"><rect x="165.8" y="1131.1" width="91.8" height="299.2"/></clipPath>
<g clip-path="url(#tc1)">
<rect x="165.8" y="1131.1" width="91.8" height="299.2" fill="#da00da" />
<ellipse cx="178.1" cy="1384.7" rx="20.1" ry="15.9" fill="#f000f0" opacity="0.7" filter="url(#b8)"/>
<ellipse cx="207.1" cy="1326.1" rx="16.9" ry="10.3" fill="#fa00fa" opacity="0.7" filter="url(#b8)"/>
<ellipse cx="242.5" cy="1260.6" rx="28.9" ry="13.2" fill="#f000f0" opacity="0.7" filter="url(#b8)"/>
<ellipse cx="239.4" cy="1308.0" rx="33.0" ry="10.4" fill="#f000f0" opacity="0.7" filter="url(#b8)"/>
<ellipse cx="168.1" cy="1293.1" rx="28.7" ry="21.6" fill="#b800b8" opacity="0.7" filter="url(#b8)"/>
<ellipse cx="232.4" cy="1289.0" rx="33.8" ry="16.6" fill="#b800b8" opacity="0.7" filter="url(#b8)"/>
<ellipse cx="197.5" cy="1333.6" rx="34.0" ry="21.1" fill="#b800b8" opacity="0.7" filter="url(#b8)"/>
<ellipse cx="204.0" cy="1405.2" rx="18.7" ry="21.9" fill="#f000f0" opacity="0.7" filter="url(#b8)"/>
<ellipse cx="244.7" cy="1167.3" rx="32.9" ry="21.7" fill="#f400f4" opacity="0.7" filter="url(#b8)"/>
<ellipse cx="211.8" cy="1420.5" rx="31.6" ry="18.0" fill="#c400c4" opacity="0.7" filter="url(#b8)"/>
<ellipse cx="193.6" cy="1306.9" rx="31.9" ry="16.1" fill="#b800b8" opacity="0.7" filter="url(#b8)"/>
<ellipse cx="219.9" cy="1141.4" rx="29.9" ry="14.9" fill="#fa00fa" opacity="0.7" filter="url(#b8)"/>
<ellipse cx="226.8" cy="1240.9" rx="16.7" ry="18.0" fill="#f400f4" opacity="0.7" filter="url(#b8)"/>
<ellipse cx="175.7" cy="1180.1" rx="22.4" ry="18.8" fill="#b800b8" opacity="0.7" filter="url(#b8)"/>
<ellipse cx="195.4" cy="1164.2" rx="21.0" ry="9.0" fill="#7a007a" opacity="0.55" transform="rotate(-5 195.4 1164.2)" filter="url(#b3)"/>
<ellipse cx="239.9" cy="1166.3" rx="19.0" ry="9.0" fill="#7a007a" opacity="0.55" transform="rotate(-3 239.9 1166.3)" filter="url(#b3)"/>
<ellipse cx="180.6" cy="1206.5" rx="18.0" ry="9.0" fill="#7a007a" opacity="0.55" transform="rotate(-3 180.6 1206.5)" filter="url(#b3)"/>
<ellipse cx="233.5" cy="1208.6" rx="20.0" ry="9.0" fill="#7a007a" opacity="0.55" transform="rotate(-3 233.5 1208.6)" filter="url(#b3)"/>
<ellipse cx="195.4" cy="1251.0" rx="22.0" ry="9.5" fill="#7a007a" opacity="0.55" transform="rotate(-3 195.4 1251.0)" filter="url(#b3)"/>
<ellipse cx="239.9" cy="1251.0" rx="20.0" ry="9.5" fill="#7a007a" opacity="0.55" transform="rotate(-3 239.9 1251.0)" filter="url(#b3)"/>
<ellipse cx="184.9" cy="1292.0" rx="19.0" ry="9.0" fill="#7a007a" opacity="0.55" transform="rotate(-3 184.9 1292.0)" filter="url(#b3)"/>
<ellipse cx="235.7" cy="1292.0" rx="21.0" ry="9.5" fill="#7a007a" opacity="0.55" transform="rotate(-3 235.7 1292.0)" filter="url(#b3)"/>
<ellipse cx="182.7" cy="1331.0" rx="20.0" ry="9.5" fill="#7a007a" opacity="0.55" transform="rotate(-3 182.7 1331.0)" filter="url(#b3)"/>
<ellipse cx="237.8" cy="1341.0" rx="18.0" ry="9.0" fill="#7a007a" opacity="0.55" transform="rotate(-3 237.8 1341.0)" filter="url(#b3)"/>
<ellipse cx="184.9" cy="1380.0" rx="20.0" ry="10.0" fill="#7a007a" opacity="0.55" transform="rotate(-3 184.9 1380.0)" filter="url(#b3)"/>
<ellipse cx="231.4" cy="1378.0" rx="18.0" ry="8.5" fill="#7a007a" opacity="0.55" transform="rotate(-3 231.4 1378.0)" filter="url(#b3)"/>
<ellipse cx="212.4" cy="1421.0" rx="27.5" ry="9.5" fill="#7a007a" opacity="0.55" transform="rotate(0 212.4 1421.0)" filter="url(#b3)"/>
<path d="M-19.0,0 C-8.6,-7.2 8.6,-7.2 19.0,0 C8.6,7.2 -8.6,7.2 -19.0,0Z" fill="#160016" transform="translate(195.4,1164.2) rotate(-5)" filter="url(#b2)"/>
<path d="M-17.0,0 C-7.7,-7.2 7.7,-7.2 17.0,0 C7.7,7.2 -7.7,7.2 -17.0,0Z" fill="#160016" transform="translate(239.9,1166.3) rotate(-3)" filter="url(#b2)"/>
<path d="M-16.0,0 C-7.2,-7.2 7.2,-7.2 16.0,0 C7.2,7.2 -7.2,7.2 -16.0,0Z" fill="#160016" transform="translate(180.6,1206.5) rotate(-3)" filter="url(#b2)"/>
<path d="M-18.0,0 C-8.1,-7.2 8.1,-7.2 18.0,0 C8.1,7.2 -8.1,7.2 -18.0,0Z" fill="#160016" transform="translate(233.5,1208.6) rotate(-3)" filter="url(#b2)"/>
<path d="M-20.0,0 C-9.0,-7.9 9.0,-7.9 20.0,0 C9.0,7.9 -9.0,7.9 -20.0,0Z" fill="#160016" transform="translate(195.4,1251.0) rotate(-3)" filter="url(#b2)"/>
<path d="M-18.0,0 C-8.1,-7.9 8.1,-7.9 18.0,0 C8.1,7.9 -8.1,7.9 -18.0,0Z" fill="#160016" transform="translate(239.9,1251.0) rotate(-3)" filter="url(#b2)"/>
<path d="M-17.0,0 C-7.7,-7.2 7.7,-7.2 17.0,0 C7.7,7.2 -7.7,7.2 -17.0,0Z" fill="#160016" transform="translate(184.9,1292.0) rotate(-3)" filter="url(#b2)"/>
<path d="M-19.0,0 C-8.6,-7.9 8.6,-7.9 19.0,0 C8.6,7.9 -8.6,7.9 -19.0,0Z" fill="#160016" transform="translate(235.7,1292.0) rotate(-3)" filter="url(#b2)"/>
<path d="M-18.0,0 C-8.1,-7.9 8.1,-7.9 18.0,0 C8.1,7.9 -8.1,7.9 -18.0,0Z" fill="#160016" transform="translate(182.7,1331.0) rotate(-3)" filter="url(#b2)"/>
<path d="M-16.0,0 C-7.2,-7.2 7.2,-7.2 16.0,0 C7.2,7.2 -7.2,7.2 -16.0,0Z" fill="#160016" transform="translate(237.8,1341.0) rotate(-3)" filter="url(#b2)"/>
<path d="M-18.0,0 C-8.1,-8.6 8.1,-8.6 18.0,0 C8.1,8.6 -8.1,8.6 -18.0,0Z" fill="#160016" transform="translate(184.9,1380.0) rotate(-3)" filter="url(#b2)"/>
<path d="M-16.0,0 C-7.2,-6.5 7.2,-6.5 16.0,0 C7.2,6.5 -7.2,6.5 -16.0,0Z" fill="#160016" transform="translate(231.4,1378.0) rotate(-3)" filter="url(#b2)"/>
<path d="M-25.5,0 C-11.5,-7.9 11.5,-7.9 25.5,0 C11.5,7.9 -11.5,7.9 -25.5,0Z" fill="#160016" transform="translate(212.4,1421.0) rotate(0)" filter="url(#b2)"/>
</g>
<text x="211.7" y="1460.5" font-size="33" text-anchor="middle" fill="#000" >S3</text>
<clipPath id="tc2"><rect x="263.7" y="1131.1" width="92.0" height="299.2"/></clipPath>
<g clip-path="url(#tc2)">
<rect x="263.7" y="1131.1" width="92.0" height="299.2" fill="#da00da" />
<ellipse cx="351.7" cy="1414.7" rx="16.8" ry="14.3" fill="#f000f0" opacity="0.7" filter="url(#b8)"/>
<ellipse cx="279.3" cy="1373.1" rx="20.0" ry="12.5" fill="#f400f4" opacity="0.7" filter="url(#b8)"/>
<ellipse cx="267.0" cy="1334.9" rx="27.8" ry="19.6" fill="#b800b8" opacity="0.7" filter="url(#b8)"/>
<ellipse cx="342.8" cy="1283.4" rx="25.9" ry="15.3" fill="#f400f4" opacity="0.7" filter="url(#b8)"/>
<ellipse cx="288.4" cy="1141.8" rx="22.3" ry="21.2" fill="#f000f0" opacity="0.7" filter="url(#b8)"/>
<ellipse cx="347.2" cy="1257.8" rx="18.3" ry="12.1" fill="#c400c4" opacity="0.7" filter="url(#b8)"/>
<ellipse cx="284.9" cy="1184.0" rx="17.7" ry="16.1" fill="#fa00fa" opacity="0.7" filter="url(#b8)"/>
<ellipse cx="355.6" cy="1332.9" rx="34.9" ry="15.3" fill="#fa00fa" opacity="0.7" filter="url(#b8)"/>
<ellipse cx="301.8" cy="1288.3" rx="30.8" ry="14.2" fill="#f400f4" opacity="0.7" filter="url(#b8)"/>
<ellipse cx="353.9" cy="1418.9" rx="34.1" ry="14.8" fill="#fa00fa" opacity="0.7" filter="url(#b8)"/>
<ellipse cx="331.7" cy="1327.0" rx="24.8" ry="21.1" fill="#fa00fa" opacity="0.7" filter="url(#b8)"/>
<ellipse cx="309.8" cy="1379.9" rx="28.2" ry="15.5" fill="#f400f4" opacity="0.7" filter="url(#b8)"/>
<ellipse cx="346.8" cy="1236.1" rx="29.5" ry="15.8" fill="#c400c4" opacity="0.7" filter="url(#b8)"/>
<ellipse cx="284.1" cy="1228.2" rx="32.5" ry="17.4" fill="#fa00fa" opacity="0.7" filter="url(#b8)"/>
<ellipse cx="345" cy="1265" rx="16" ry="70" fill="#8a008a" opacity="0.6" filter="url(#b8)"/>
<ellipse cx="333.1" cy="1145.0" rx="19.0" ry="8.0" fill="#7a007a" opacity="0.55" transform="rotate(-3 333.1 1145.0)" filter="url(#b3)"/>
<ellipse cx="287.6" cy="1166.3" rx="20.0" ry="8.5" fill="#7a007a" opacity="0.55" transform="rotate(-3 287.6 1166.3)" filter="url(#b3)"/>
<ellipse cx="333.1" cy="1188.5" rx="20.0" ry="8.5" fill="#7a007a" opacity="0.55" transform="rotate(-3 333.1 1188.5)" filter="url(#b3)"/>
<ellipse cx="280.2" cy="1211.8" rx="19.0" ry="8.0" fill="#7a007a" opacity="0.55" transform="rotate(-3 280.2 1211.8)" filter="url(#b3)"/>
<ellipse cx="325.7" cy="1242.5" rx="21.0" ry="8.5" fill="#7a007a" opacity="0.55" transform="rotate(-3 325.7 1242.5)" filter="url(#b3)"/>
<ellipse cx="278.1" cy="1259.4" rx="17.0" ry="7.5" fill="#7a007a" opacity="0.55" transform="rotate(-3 278.1 1259.4)" filter="url(#b3)"/>
<ellipse cx="290.8" cy="1294.3" rx="21.0" ry="8.5" fill="#7a007a" opacity="0.55" transform="rotate(-3 290.8 1294.3)" filter="url(#b3)"/>
<ellipse cx="339.5" cy="1295.4" rx="18.0" ry="8.0" fill="#7a007a" opacity="0.55" transform="rotate(-3 339.5 1295.4)" filter="url(#b3)"/>
<ellipse cx="282.3" cy="1348.3" rx="17.0" ry="8.5" fill="#7a007a" opacity="0.55" transform="rotate(-3 282.3 1348.3)" filter="url(#b3)"/>
<ellipse cx="326.8" cy="1344.0" rx="21.0" ry="9.0" fill="#7a007a" opacity="0.55" transform="rotate(-3 326.8 1344.0)" filter="url(#b3)"/>
<ellipse cx="286.6" cy="1398.0" rx="19.0" ry="8.5" fill="#7a007a" opacity="0.55" transform="rotate(-3 286.6 1398.0)" filter="url(#b3)"/>
<ellipse cx="326.8" cy="1390.6" rx="19.0" ry="8.0" fill="#7a007a" opacity="0.55" transform="rotate(-3 326.8 1390.6)" filter="url(#b3)"/>
<ellipse cx="348.0" cy="1426.0" rx="13.0" ry="8.0" fill="#7a007a" opacity="0.55" transform="rotate(0 348.0 1426.0)" filter="url(#b3)"/>
<path d="M-17.0,0 C-7.7,-5.8 7.7,-5.8 17.0,0 C7.7,5.8 -7.7,5.8 -17.0,0Z" fill="#160016" transform="translate(333.1,1145.0) rotate(-3)" filter="url(#b2)"/>
<path d="M-18.0,0 C-8.1,-6.5 8.1,-6.5 18.0,0 C8.1,6.5 -8.1,6.5 -18.0,0Z" fill="#160016" transform="translate(287.6,1166.3) rotate(-3)" filter="url(#b2)"/>
<path d="M-18.0,0 C-8.1,-6.5 8.1,-6.5 18.0,0 C8.1,6.5 -8.1,6.5 -18.0,0Z" fill="#160016" transform="translate(333.1,1188.5) rotate(-3)" filter="url(#b2)"/>
<path d="M-17.0,0 C-7.7,-5.8 7.7,-5.8 17.0,0 C7.7,5.8 -7.7,5.8 -17.0,0Z" fill="#160016" transform="translate(280.2,1211.8) rotate(-3)" filter="url(#b2)"/>
<path d="M-19.0,0 C-8.6,-6.5 8.6,-6.5 19.0,0 C8.6,6.5 -8.6,6.5 -19.0,0Z" fill="#160016" transform="translate(325.7,1242.5) rotate(-3)" filter="url(#b2)"/>
<path d="M-15.0,0 C-6.8,-5.0 6.8,-5.0 15.0,0 C6.8,5.0 -6.8,5.0 -15.0,0Z" fill="#160016" transform="translate(278.1,1259.4) rotate(-3)" filter="url(#b2)"/>
<path d="M-19.0,0 C-8.6,-6.5 8.6,-6.5 19.0,0 C8.6,6.5 -8.6,6.5 -19.0,0Z" fill="#160016" transform="translate(290.8,1294.3) rotate(-3)" filter="url(#b2)"/>
<path d="M-16.0,0 C-7.2,-5.8 7.2,-5.8 16.0,0 C7.2,5.8 -7.2,5.8 -16.0,0Z" fill="#160016" transform="translate(339.5,1295.4) rotate(-3)" filter="url(#b2)"/>
<path d="M-15.0,0 C-6.8,-6.5 6.8,-6.5 15.0,0 C6.8,6.5 -6.8,6.5 -15.0,0Z" fill="#160016" transform="translate(282.3,1348.3) rotate(-3)" filter="url(#b2)"/>
<path d="M-19.0,0 C-8.6,-7.2 8.6,-7.2 19.0,0 C8.6,7.2 -8.6,7.2 -19.0,0Z" fill="#160016" transform="translate(326.8,1344.0) rotate(-3)" filter="url(#b2)"/>
<path d="M-17.0,0 C-7.7,-6.5 7.7,-6.5 17.0,0 C7.7,6.5 -7.7,6.5 -17.0,0Z" fill="#160016" transform="translate(286.6,1398.0) rotate(-3)" filter="url(#b2)"/>
<path d="M-17.0,0 C-7.7,-5.8 7.7,-5.8 17.0,0 C7.7,5.8 -7.7,5.8 -17.0,0Z" fill="#160016" transform="translate(326.8,1390.6) rotate(-3)" filter="url(#b2)"/>
<path d="M-11.0,0 C-5.0,-5.8 5.0,-5.8 11.0,0 C5.0,5.8 -5.0,5.8 -11.0,0Z" fill="#160016" transform="translate(348.0,1426.0) rotate(0)" filter="url(#b2)"/>
</g>
<text x="309.7" y="1460.5" font-size="33" text-anchor="middle" fill="#000" >S4</text>
<clipPath id="tc3"><rect x="362" y="1131.1" width="92.0" height="299.2"/></clipPath>
<g clip-path="url(#tc3)">
<rect x="362.0" y="1131.1" width="92.0" height="299.2" fill="#da00da" />
<ellipse cx="383.9" cy="1293.9" rx="33.3" ry="15.7" fill="#f400f4" opacity="0.7" filter="url(#b8)"/>
<ellipse cx="415.4" cy="1312.3" rx="20.2" ry="12.8" fill="#b800b8" opacity="0.7" filter="url(#b8)"/>
<ellipse cx="453.6" cy="1271.8" rx="24.5" ry="17.7" fill="#c400c4" opacity="0.7" filter="url(#b8)"/>
<ellipse cx="375.9" cy="1321.1" rx="22.8" ry="10.2" fill="#c400c4" opacity="0.7" filter="url(#b8)"/>
<ellipse cx="433.5" cy="1178.8" rx="15.9" ry="19.4" fill="#c400c4" opacity="0.7" filter="url(#b8)"/>
<ellipse cx="437.8" cy="1211.7" rx="29.4" ry="20.5" fill="#c400c4" opacity="0.7" filter="url(#b8)"/>
<ellipse cx="427.7" cy="1406.7" rx="29.6" ry="16.9" fill="#b800b8" opacity="0.7" filter="url(#b8)"/>
<ellipse cx="450.7" cy="1171.2" rx="16.9" ry="11.6" fill="#f400f4" opacity="0.7" filter="url(#b8)"/>
<ellipse cx="382.0" cy="1420.0" rx="30.6" ry="20.3" fill="#b800b8" opacity="0.7" filter="url(#b8)"/>
<ellipse cx="400.7" cy="1380.5" rx="22.0" ry="17.0" fill="#c400c4" opacity="0.7" filter="url(#b8)"/>
<ellipse cx="415.8" cy="1401.6" rx="32.1" ry="21.9" fill="#f000f0" opacity="0.7" filter="url(#b8)"/>
<ellipse cx="423.8" cy="1179.9" rx="34.3" ry="20.9" fill="#f400f4" opacity="0.7" filter="url(#b8)"/>
<ellipse cx="414.4" cy="1344.7" rx="27.7" ry="21.9" fill="#fa00fa" opacity="0.7" filter="url(#b8)"/>
<ellipse cx="386.6" cy="1168.3" rx="32.1" ry="21.9" fill="#b800b8" opacity="0.7" filter="url(#b8)"/>
<ellipse cx="376.5" cy="1133.5" rx="17.0" ry="7.0" fill="#7a007a" opacity="0.55" transform="rotate(0 376.5 1133.5)" filter="url(#b3)"/>
<ellipse cx="440.0" cy="1133.5" rx="17.0" ry="7.0" fill="#7a007a" opacity="0.55" transform="rotate(0 440.0 1133.5)" filter="url(#b3)"/>
<ellipse cx="412.5" cy="1168.4" rx="21.0" ry="8.5" fill="#7a007a" opacity="0.55" transform="rotate(-3 412.5 1168.4)" filter="url(#b3)"/>
<ellipse cx="448.0" cy="1166.3" rx="11.5" ry="8.5" fill="#7a007a" opacity="0.55" transform="rotate(-3 448.0 1166.3)" filter="url(#b3)"/>
<ellipse cx="375.5" cy="1180.0" rx="15.5" ry="9.5" fill="#7a007a" opacity="0.55" transform="rotate(-3 375.5 1180.0)" filter="url(#b3)"/>
<ellipse cx="431.5" cy="1202.2" rx="19.0" ry="8.0" fill="#7a007a" opacity="0.55" transform="rotate(-3 431.5 1202.2)" filter="url(#b3)"/>
<ellipse cx="381.8" cy="1221.3" rx="21.0" ry="8.5" fill="#7a007a" opacity="0.55" transform="rotate(-3 381.8 1221.3)" filter="url(#b3)"/>
<ellipse cx="435.8" cy="1239.3" rx="21.0" ry="8.5" fill="#7a007a" opacity="0.55" transform="rotate(-3 435.8 1239.3)" filter="url(#b3)"/>
<ellipse cx="383.9" cy="1252.0" rx="23.0" ry="8.0" fill="#7a007a" opacity="0.55" transform="rotate(-5 383.9 1252.0)" filter="url(#b3)"/>
<ellipse cx="427.3" cy="1288.0" rx="26.0" ry="8.5" fill="#7a007a" opacity="0.55" transform="rotate(-3 427.3 1288.0)" filter="url(#b3)"/>
<ellipse cx="378.6" cy="1299.6" rx="19.0" ry="9.0" fill="#7a007a" opacity="0.55" transform="rotate(-5 378.6 1299.6)" filter="url(#b3)"/>
<ellipse cx="435.8" cy="1326.0" rx="21.0" ry="9.0" fill="#7a007a" opacity="0.55" transform="rotate(-3 435.8 1326.0)" filter="url(#b3)"/>
<ellipse cx="383.9" cy="1352.5" rx="19.0" ry="9.0" fill="#7a007a" opacity="0.55" transform="rotate(-5 383.9 1352.5)" filter="url(#b3)"/>
<ellipse cx="410.4" cy="1382.0" rx="21.0" ry="8.5" fill="#7a007a" opacity="0.55" transform="rotate(-5 410.4 1382.0)" filter="url(#b3)"/>
<ellipse cx="446.0" cy="1383.0" rx="12.5" ry="8.5" fill="#7a007a" opacity="0.55" transform="rotate(-3 446.0 1383.0)" filter="url(#b3)"/>
<ellipse cx="381.8" cy="1421.3" rx="21.0" ry="8.5" fill="#7a007a" opacity="0.55" transform="rotate(-3 381.8 1421.3)" filter="url(#b3)"/>
<ellipse cx="440.0" cy="1423.4" rx="17.0" ry="8.0" fill="#7a007a" opacity="0.55" transform="rotate(-3 440.0 1423.4)" filter="url(#b3)"/>
<path d="M-15.0,0 C-6.8,-4.3 6.8,-4.3 15.0,0 C6.8,4.3 -6.8,4.3 -15.0,0Z" fill="#160016" transform="translate(376.5,1133.5) rotate(0)" filter="url(#b2)"/>
<path d="M-15.0,0 C-6.8,-4.3 6.8,-4.3 15.0,0 C6.8,4.3 -6.8,4.3 -15.0,0Z" fill="#160016" transform="translate(440.0,1133.5) rotate(0)" filter="url(#b2)"/>
<path d="M-19.0,0 C-8.6,-6.5 8.6,-6.5 19.0,0 C8.6,6.5 -8.6,6.5 -19.0,0Z" fill="#160016" transform="translate(412.5,1168.4) rotate(-3)" filter="url(#b2)"/>
<path d="M-9.5,0 C-4.3,-6.5 4.3,-6.5 9.5,0 C4.3,6.5 -4.3,6.5 -9.5,0Z" fill="#160016" transform="translate(448.0,1166.3) rotate(-3)" filter="url(#b2)"/>
<path d="M-13.5,0 C-6.1,-7.9 6.1,-7.9 13.5,0 C6.1,7.9 -6.1,7.9 -13.5,0Z" fill="#160016" transform="translate(375.5,1180.0) rotate(-3)" filter="url(#b2)"/>
<path d="M-17.0,0 C-7.7,-5.8 7.7,-5.8 17.0,0 C7.7,5.8 -7.7,5.8 -17.0,0Z" fill="#160016" transform="translate(431.5,1202.2) rotate(-3)" filter="url(#b2)"/>
<path d="M-19.0,0 C-8.6,-6.5 8.6,-6.5 19.0,0 C8.6,6.5 -8.6,6.5 -19.0,0Z" fill="#160016" transform="translate(381.8,1221.3) rotate(-3)" filter="url(#b2)"/>
<path d="M-19.0,0 C-8.6,-6.5 8.6,-6.5 19.0,0 C8.6,6.5 -8.6,6.5 -19.0,0Z" fill="#160016" transform="translate(435.8,1239.3) rotate(-3)" filter="url(#b2)"/>
<path d="M-21.0,0 C-9.5,-5.8 9.5,-5.8 21.0,0 C9.5,5.8 -9.5,5.8 -21.0,0Z" fill="#160016" transform="translate(383.9,1252.0) rotate(-5)" filter="url(#b2)"/>
<path d="M-24.0,0 C-10.8,-6.5 10.8,-6.5 24.0,0 C10.8,6.5 -10.8,6.5 -24.0,0Z" fill="#160016" transform="translate(427.3,1288.0) rotate(-3)" filter="url(#b2)"/>
<path d="M-17.0,0 C-7.7,-7.2 7.7,-7.2 17.0,0 C7.7,7.2 -7.7,7.2 -17.0,0Z" fill="#160016" transform="translate(378.6,1299.6) rotate(-5)" filter="url(#b2)"/>
<path d="M-19.0,0 C-8.6,-7.2 8.6,-7.2 19.0,0 C8.6,7.2 -8.6,7.2 -19.0,0Z" fill="#160016" transform="translate(435.8,1326.0) rotate(-3)" filter="url(#b2)"/>
<path d="M-17.0,0 C-7.7,-7.2 7.7,-7.2 17.0,0 C7.7,7.2 -7.7,7.2 -17.0,0Z" fill="#160016" transform="translate(383.9,1352.5) rotate(-5)" filter="url(#b2)"/>
<path d="M-19.0,0 C-8.6,-6.5 8.6,-6.5 19.0,0 C8.6,6.5 -8.6,6.5 -19.0,0Z" fill="#160016" transform="translate(410.4,1382.0) rotate(-5)" filter="url(#b2)"/>
<path d="M-10.5,0 C-4.7,-6.5 4.7,-6.5 10.5,0 C4.7,6.5 -4.7,6.5 -10.5,0Z" fill="#160016" transform="translate(446.0,1383.0) rotate(-3)" filter="url(#b2)"/>
<path d="M-19.0,0 C-8.6,-6.5 8.6,-6.5 19.0,0 C8.6,6.5 -8.6,6.5 -19.0,0Z" fill="#160016" transform="translate(381.8,1421.3) rotate(-3)" filter="url(#b2)"/>
<path d="M-15.0,0 C-6.8,-5.8 6.8,-5.8 15.0,0 C6.8,5.8 -6.8,5.8 -15.0,0Z" fill="#160016" transform="translate(440.0,1423.4) rotate(-3)" filter="url(#b2)"/>
</g>
<text x="408.0" y="1460.5" font-size="33" text-anchor="middle" fill="#000" >S5</text>
<clipPath id="tc4"><rect x="460.3" y="1131.1" width="91.4" height="299.2"/></clipPath>
<g clip-path="url(#tc4)">
<rect x="460.3" y="1131.1" width="91.4" height="299.2" fill="#da00da" />
<ellipse cx="481.9" cy="1162.0" rx="24.6" ry="11.1" fill="#b800b8" opacity="0.7" filter="url(#b8)"/>
<ellipse cx="462.1" cy="1295.5" rx="31.0" ry="19.2" fill="#f400f4" opacity="0.7" filter="url(#b8)"/>
<ellipse cx="480.6" cy="1291.7" rx="30.6" ry="19.9" fill="#f400f4" opacity="0.7" filter="url(#b8)"/>
<ellipse cx="484.2" cy="1413.2" rx="31.6" ry="19.7" fill="#f000f0" opacity="0.7" filter="url(#b8)"/>
<ellipse cx="533.5" cy="1189.0" rx="20.8" ry="20.4" fill="#f400f4" opacity="0.7" filter="url(#b8)"/>
<ellipse cx="548.1" cy="1385.0" rx="16.7" ry="17.3" fill="#f400f4" opacity="0.7" filter="url(#b8)"/>
<ellipse cx="521.7" cy="1282.5" rx="19.9" ry="13.4" fill="#fa00fa" opacity="0.7" filter="url(#b8)"/>
<ellipse cx="546.6" cy="1375.8" rx="31.8" ry="10.1" fill="#c400c4" opacity="0.7" filter="url(#b8)"/>
<ellipse cx="487.0" cy="1342.0" rx="32.0" ry="16.1" fill="#f400f4" opacity="0.7" filter="url(#b8)"/>
<ellipse cx="498.1" cy="1310.3" rx="24.0" ry="12.8" fill="#b800b8" opacity="0.7" filter="url(#b8)"/>
<ellipse cx="484.0" cy="1369.7" rx="15.9" ry="17.5" fill="#f000f0" opacity="0.7" filter="url(#b8)"/>
<ellipse cx="485.9" cy="1291.1" rx="29.0" ry="11.7" fill="#b800b8" opacity="0.7" filter="url(#b8)"/>
<ellipse cx="521.9" cy="1151.0" rx="27.7" ry="15.3" fill="#fa00fa" opacity="0.7" filter="url(#b8)"/>
<ellipse cx="477.1" cy="1261.5" rx="21.4" ry="16.7" fill="#c400c4" opacity="0.7" filter="url(#b8)"/>
<ellipse cx="528.0" cy="1151.5" rx="19.0" ry="7.5" fill="#7a007a" opacity="0.55" transform="rotate(-3 528.0 1151.5)" filter="url(#b3)"/>
<ellipse cx="484.6" cy="1183.2" rx="19.0" ry="7.5" fill="#7a007a" opacity="0.55" transform="rotate(-5 484.6 1183.2)" filter="url(#b3)"/>
<ellipse cx="528.0" cy="1191.7" rx="17.0" ry="7.5" fill="#7a007a" opacity="0.55" transform="rotate(-3 528.0 1191.7)" filter="url(#b3)"/>
<ellipse cx="507.9" cy="1220.2" rx="18.0" ry="7.5" fill="#7a007a" opacity="0.55" transform="rotate(-3 507.9 1220.2)" filter="url(#b3)"/>
<ellipse cx="474.0" cy="1228.7" rx="17.0" ry="7.5" fill="#7a007a" opacity="0.55" transform="rotate(-3 474.0 1228.7)" filter="url(#b3)"/>
<ellipse cx="535.4" cy="1251.0" rx="18.0" ry="7.5" fill="#7a007a" opacity="0.55" transform="rotate(-3 535.4 1251.0)" filter="url(#b3)"/>
<ellipse cx="497.3" cy="1264.7" rx="20.0" ry="7.5" fill="#7a007a" opacity="0.55" transform="rotate(-3 497.3 1264.7)" filter="url(#b3)"/>
<ellipse cx="474.0" cy="1298.5" rx="17.0" ry="7.5" fill="#7a007a" opacity="0.55" transform="rotate(-3 474.0 1298.5)" filter="url(#b3)"/>
<ellipse cx="524.8" cy="1305.0" rx="21.0" ry="7.5" fill="#7a007a" opacity="0.55" transform="rotate(-5 524.8 1305.0)" filter="url(#b3)"/>
<ellipse cx="482.5" cy="1342.0" rx="20.0" ry="7.5" fill="#7a007a" opacity="0.55" transform="rotate(-3 482.5 1342.0)" filter="url(#b3)"/>
<ellipse cx="536.5" cy="1367.3" rx="17.0" ry="7.5" fill="#7a007a" opacity="0.55" transform="rotate(-3 536.5 1367.3)" filter="url(#b3)"/>
<ellipse cx="484.6" cy="1386.4" rx="20.0" ry="7.5" fill="#7a007a" opacity="0.55" transform="rotate(-3 484.6 1386.4)" filter="url(#b3)"/>
<ellipse cx="473.0" cy="1421.3" rx="16.0" ry="7.5" fill="#7a007a" opacity="0.55" transform="rotate(-3 473.0 1421.3)" filter="url(#b3)"/>
<ellipse cx="528.0" cy="1425.5" rx="17.0" ry="7.5" fill="#7a007a" opacity="0.55" transform="rotate(-3 528.0 1425.5)" filter="url(#b3)"/>
<path d="M-17.0,0 C-7.7,-5.0 7.7,-5.0 17.0,0 C7.7,5.0 -7.7,5.0 -17.0,0Z" fill="#160016" transform="translate(528.0,1151.5) rotate(-3)" filter="url(#b2)"/>
<path d="M-17.0,0 C-7.7,-5.0 7.7,-5.0 17.0,0 C7.7,5.0 -7.7,5.0 -17.0,0Z" fill="#160016" transform="translate(484.6,1183.2) rotate(-5)" filter="url(#b2)"/>
<path d="M-15.0,0 C-6.8,-5.0 6.8,-5.0 15.0,0 C6.8,5.0 -6.8,5.0 -15.0,0Z" fill="#160016" transform="translate(528.0,1191.7) rotate(-3)" filter="url(#b2)"/>
<path d="M-16.0,0 C-7.2,-5.0 7.2,-5.0 16.0,0 C7.2,5.0 -7.2,5.0 -16.0,0Z" fill="#160016" transform="translate(507.9,1220.2) rotate(-3)" filter="url(#b2)"/>
<path d="M-15.0,0 C-6.8,-5.0 6.8,-5.0 15.0,0 C6.8,5.0 -6.8,5.0 -15.0,0Z" fill="#160016" transform="translate(474.0,1228.7) rotate(-3)" filter="url(#b2)"/>
<path d="M-16.0,0 C-7.2,-5.0 7.2,-5.0 16.0,0 C7.2,5.0 -7.2,5.0 -16.0,0Z" fill="#160016" transform="translate(535.4,1251.0) rotate(-3)" filter="url(#b2)"/>
<path d="M-18.0,0 C-8.1,-5.0 8.1,-5.0 18.0,0 C8.1,5.0 -8.1,5.0 -18.0,0Z" fill="#160016" transform="translate(497.3,1264.7) rotate(-3)" filter="url(#b2)"/>
<path d="M-15.0,0 C-6.8,-5.0 6.8,-5.0 15.0,0 C6.8,5.0 -6.8,5.0 -15.0,0Z" fill="#160016" transform="translate(474.0,1298.5) rotate(-3)" filter="url(#b2)"/>
<path d="M-19.0,0 C-8.6,-5.0 8.6,-5.0 19.0,0 C8.6,5.0 -8.6,5.0 -19.0,0Z" fill="#160016" transform="translate(524.8,1305.0) rotate(-5)" filter="url(#b2)"/>
<path d="M-18.0,0 C-8.1,-5.0 8.1,-5.0 18.0,0 C8.1,5.0 -8.1,5.0 -18.0,0Z" fill="#160016" transform="translate(482.5,1342.0) rotate(-3)" filter="url(#b2)"/>
<path d="M-15.0,0 C-6.8,-5.0 6.8,-5.0 15.0,0 C6.8,5.0 -6.8,5.0 -15.0,0Z" fill="#160016" transform="translate(536.5,1367.3) rotate(-3)" filter="url(#b2)"/>
<path d="M-18.0,0 C-8.1,-5.0 8.1,-5.0 18.0,0 C8.1,5.0 -8.1,5.0 -18.0,0Z" fill="#160016" transform="translate(484.6,1386.4) rotate(-3)" filter="url(#b2)"/>
<path d="M-14.0,0 C-6.3,-5.0 6.3,-5.0 14.0,0 C6.3,5.0 -6.3,5.0 -14.0,0Z" fill="#160016" transform="translate(473.0,1421.3) rotate(-3)" filter="url(#b2)"/>
<path d="M-15.0,0 C-6.8,-5.0 6.8,-5.0 15.0,0 C6.8,5.0 -6.8,5.0 -15.0,0Z" fill="#160016" transform="translate(528.0,1425.5) rotate(-3)" filter="url(#b2)"/>
</g>
<text x="506.0" y="1460.5" font-size="33" text-anchor="middle" fill="#000" >S6</text>
<clipPath id="tc5"><rect x="558.7" y="1131.1" width="81.5" height="299.2"/></clipPath>
<g clip-path="url(#tc5)">
<rect x="558.7" y="1131.1" width="81.5" height="299.2" fill="#da00da" />
<ellipse cx="609.5" cy="1353.0" rx="15.6" ry="15.6" fill="#c400c4" opacity="0.7" filter="url(#b8)"/>
<ellipse cx="635.6" cy="1325.3" rx="17.3" ry="15.6" fill="#fa00fa" opacity="0.7" filter="url(#b8)"/>
<ellipse cx="578.8" cy="1293.8" rx="20.0" ry="18.8" fill="#c400c4" opacity="0.7" filter="url(#b8)"/>
<ellipse cx="592.0" cy="1185.6" rx="18.2" ry="19.6" fill="#b800b8" opacity="0.7" filter="url(#b8)"/>
<ellipse cx="570.0" cy="1315.8" rx="17.6" ry="21.7" fill="#fa00fa" opacity="0.7" filter="url(#b8)"/>
<ellipse cx="559.1" cy="1362.6" rx="32.4" ry="13.5" fill="#fa00fa" opacity="0.7" filter="url(#b8)"/>
<ellipse cx="637.1" cy="1292.4" rx="18.6" ry="21.6" fill="#fa00fa" opacity="0.7" filter="url(#b8)"/>
<ellipse cx="574.7" cy="1419.9" rx="21.0" ry="14.3" fill="#b800b8" opacity="0.7" filter="url(#b8)"/>
<ellipse cx="572.2" cy="1174.7" rx="21.6" ry="19.8" fill="#f000f0" opacity="0.7" filter="url(#b8)"/>
<ellipse cx="606.5" cy="1309.4" rx="16.3" ry="14.3" fill="#f400f4" opacity="0.7" filter="url(#b8)"/>
<ellipse cx="583.6" cy="1339.5" rx="24.6" ry="18.5" fill="#fa00fa" opacity="0.7" filter="url(#b8)"/>
<ellipse cx="563.3" cy="1422.8" rx="34.0" ry="14.3" fill="#f000f0" opacity="0.7" filter="url(#b8)"/>
<ellipse cx="591.6" cy="1295.4" rx="22.3" ry="16.9" fill="#b800b8" opacity="0.7" filter="url(#b8)"/>
<ellipse cx="559.4" cy="1145.1" rx="27.5" ry="21.5" fill="#fa00fa" opacity="0.7" filter="url(#b8)"/>
<ellipse cx="569.3" cy="1133.5" rx="14.0" ry="7.0" fill="#7a007a" opacity="0.55" transform="rotate(0 569.3 1133.5)" filter="url(#b3)"/>
<ellipse cx="620.0" cy="1144.0" rx="21.0" ry="8.5" fill="#7a007a" opacity="0.55" transform="rotate(-5 620.0 1144.0)" filter="url(#b3)"/>
<ellipse cx="611.6" cy="1186.4" rx="22.0" ry="8.5" fill="#7a007a" opacity="0.55" transform="rotate(-5 611.6 1186.4)" filter="url(#b3)"/>
<ellipse cx="579.9" cy="1221.3" rx="19.0" ry="7.5" fill="#7a007a" opacity="0.55" transform="rotate(-10 579.9 1221.3)" filter="url(#b3)"/>
<ellipse cx="622.2" cy="1229.8" rx="20.0" ry="8.0" fill="#7a007a" opacity="0.55" transform="rotate(-5 622.2 1229.8)" filter="url(#b3)"/>
<ellipse cx="562.0" cy="1261.5" rx="6.5" ry="6.5" fill="#7a007a" opacity="0.55" transform="rotate(0 562.0 1261.5)" filter="url(#b3)"/>
<ellipse cx="623.3" cy="1277.4" rx="20.0" ry="8.0" fill="#7a007a" opacity="0.55" transform="rotate(-5 623.3 1277.4)" filter="url(#b3)"/>
<ellipse cx="579.9" cy="1307.0" rx="19.0" ry="7.5" fill="#7a007a" opacity="0.55" transform="rotate(-5 579.9 1307.0)" filter="url(#b3)"/>
<ellipse cx="624.3" cy="1314.4" rx="19.0" ry="8.5" fill="#7a007a" opacity="0.55" transform="rotate(-8 624.3 1314.4)" filter="url(#b3)"/>
<ellipse cx="611.6" cy="1353.6" rx="22.0" ry="8.0" fill="#7a007a" opacity="0.55" transform="rotate(-5 611.6 1353.6)" filter="url(#b3)"/>
<ellipse cx="562.0" cy="1348.3" rx="6.5" ry="6.5" fill="#7a007a" opacity="0.55" transform="rotate(0 562.0 1348.3)" filter="url(#b3)"/>
<ellipse cx="616.9" cy="1382.0" rx="19.0" ry="7.5" fill="#7a007a" opacity="0.55" transform="rotate(-8 616.9 1382.0)" filter="url(#b3)"/>
<ellipse cx="566.0" cy="1386.4" rx="12.0" ry="7.0" fill="#7a007a" opacity="0.55" transform="rotate(-5 566.0 1386.4)" filter="url(#b3)"/>
<ellipse cx="615.8" cy="1419.2" rx="21.0" ry="8.0" fill="#7a007a" opacity="0.55" transform="rotate(-5 615.8 1419.2)" filter="url(#b3)"/>
<path d="M-12.0,0 C-5.4,-4.3 5.4,-4.3 12.0,0 C5.4,4.3 -5.4,4.3 -12.0,0Z" fill="#160016" transform="translate(569.3,1133.5) rotate(0)" filter="url(#b2)"/>
<path d="M-19.0,0 C-8.6,-6.5 8.6,-6.5 19.0,0 C8.6,6.5 -8.6,6.5 -19.0,0Z" fill="#160016" transform="translate(620.0,1144.0) rotate(-5)" filter="url(#b2)"/>
<path d="M-20.0,0 C-9.0,-6.5 9.0,-6.5 20.0,0 C9.0,6.5 -9.0,6.5 -20.0,0Z" fill="#160016" transform="translate(611.6,1186.4) rotate(-5)" filter="url(#b2)"/>
<path d="M-17.0,0 C-7.7,-5.0 7.7,-5.0 17.0,0 C7.7,5.0 -7.7,5.0 -17.0,0Z" fill="#160016" transform="translate(579.9,1221.3) rotate(-10)" filter="url(#b2)"/>
<path d="M-18.0,0 C-8.1,-5.8 8.1,-5.8 18.0,0 C8.1,5.8 -8.1,5.8 -18.0,0Z" fill="#160016" transform="translate(622.2,1229.8) rotate(-5)" filter="url(#b2)"/>
<ellipse cx="562.0" cy="1261.5" rx="3.5" ry="3.5" fill="#160016" transform="rotate(0 562.0 1261.5)" filter="url(#b2)"/>
<path d="M-18.0,0 C-8.1,-5.8 8.1,-5.8 18.0,0 C8.1,5.8 -8.1,5.8 -18.0,0Z" fill="#160016" transform="translate(623.3,1277.4) rotate(-5)" filter="url(#b2)"/>
<path d="M-17.0,0 C-7.7,-5.0 7.7,-5.0 17.0,0 C7.7,5.0 -7.7,5.0 -17.0,0Z" fill="#160016" transform="translate(579.9,1307.0) rotate(-5)" filter="url(#b2)"/>
<path d="M-17.0,0 C-7.7,-6.5 7.7,-6.5 17.0,0 C7.7,6.5 -7.7,6.5 -17.0,0Z" fill="#160016" transform="translate(624.3,1314.4) rotate(-8)" filter="url(#b2)"/>
<path d="M-20.0,0 C-9.0,-5.8 9.0,-5.8 20.0,0 C9.0,5.8 -9.0,5.8 -20.0,0Z" fill="#160016" transform="translate(611.6,1353.6) rotate(-5)" filter="url(#b2)"/>
<ellipse cx="562.0" cy="1348.3" rx="3.5" ry="3.5" fill="#160016" transform="rotate(0 562.0 1348.3)" filter="url(#b2)"/>
<path d="M-17.0,0 C-7.7,-5.0 7.7,-5.0 17.0,0 C7.7,5.0 -7.7,5.0 -17.0,0Z" fill="#160016" transform="translate(616.9,1382.0) rotate(-8)" filter="url(#b2)"/>
<path d="M-10.0,0 C-4.5,-4.3 4.5,-4.3 10.0,0 C4.5,4.3 -4.5,4.3 -10.0,0Z" fill="#160016" transform="translate(566.0,1386.4) rotate(-5)" filter="url(#b2)"/>
<path d="M-19.0,0 C-8.6,-5.8 8.6,-5.8 19.0,0 C8.6,5.8 -8.6,5.8 -19.0,0Z" fill="#160016" transform="translate(615.8,1419.2) rotate(-5)" filter="url(#b2)"/>
</g>
<text x="599.5" y="1460.5" font-size="33" text-anchor="middle" fill="#000" >S7</text>
<clipPath id="tc6"><rect x="646.8" y="1131.1" width="81.0" height="299.2"/></clipPath>
<g clip-path="url(#tc6)">
<rect x="646.8" y="1131.1" width="81.0" height="299.2" fill="#da00da" />
<ellipse cx="711.1" cy="1377.0" rx="30.2" ry="10.4" fill="#b800b8" opacity="0.7" filter="url(#b8)"/>
<ellipse cx="658.6" cy="1306.6" rx="21.4" ry="10.3" fill="#f400f4" opacity="0.7" filter="url(#b8)"/>
<ellipse cx="686.4" cy="1190.4" rx="33.2" ry="16.5" fill="#b800b8" opacity="0.7" filter="url(#b8)"/>
<ellipse cx="654.4" cy="1299.7" rx="28.3" ry="17.3" fill="#f400f4" opacity="0.7" filter="url(#b8)"/>
<ellipse cx="653.9" cy="1258.2" rx="22.2" ry="14.9" fill="#f000f0" opacity="0.7" filter="url(#b8)"/>
<ellipse cx="667.1" cy="1340.4" rx="29.0" ry="19.6" fill="#fa00fa" opacity="0.7" filter="url(#b8)"/>
<ellipse cx="654.7" cy="1144.8" rx="31.6" ry="21.0" fill="#fa00fa" opacity="0.7" filter="url(#b8)"/>
<ellipse cx="686.2" cy="1380.3" rx="25.3" ry="17.7" fill="#fa00fa" opacity="0.7" filter="url(#b8)"/>
<ellipse cx="703.3" cy="1372.1" rx="27.7" ry="12.9" fill="#f000f0" opacity="0.7" filter="url(#b8)"/>
<ellipse cx="681.6" cy="1238.0" rx="16.8" ry="20.6" fill="#f000f0" opacity="0.7" filter="url(#b8)"/>
<ellipse cx="689.3" cy="1166.1" rx="21.2" ry="12.4" fill="#f400f4" opacity="0.7" filter="url(#b8)"/>
<ellipse cx="686.0" cy="1172.4" rx="31.7" ry="20.5" fill="#fa00fa" opacity="0.7" filter="url(#b8)"/>
<ellipse cx="689.1" cy="1187.6" rx="15.3" ry="14.0" fill="#fa00fa" opacity="0.7" filter="url(#b8)"/>
<ellipse cx="720.1" cy="1316.7" rx="22.5" ry="16.3" fill="#f400f4" opacity="0.7" filter="url(#b8)"/>
<ellipse cx="699.3" cy="1156.7" rx="24.0" ry="7.5" fill="#7a007a" opacity="0.55" transform="rotate(-3 699.3 1156.7)" filter="url(#b3)"/>
<ellipse cx="710.9" cy="1208.6" rx="20.0" ry="7.5" fill="#7a007a" opacity="0.55" transform="rotate(-5 710.9 1208.6)" filter="url(#b3)"/>
<ellipse cx="649.5" cy="1211.8" rx="7.0" ry="7.0" fill="#7a007a" opacity="0.55" transform="rotate(0 649.5 1211.8)" filter="url(#b3)"/>
<ellipse cx="691.9" cy="1251.0" rx="22.0" ry="7.0" fill="#7a007a" opacity="0.55" transform="rotate(-8 691.9 1251.0)" filter="url(#b3)"/>
<ellipse cx="649.5" cy="1264.7" rx="7.0" ry="7.0" fill="#7a007a" opacity="0.55" transform="rotate(0 649.5 1264.7)" filter="url(#b3)"/>
<ellipse cx="707.7" cy="1288.0" rx="22.0" ry="7.5" fill="#7a007a" opacity="0.55" transform="rotate(-5 707.7 1288.0)" filter="url(#b3)"/>
<ellipse cx="667.5" cy="1321.8" rx="21.0" ry="7.5" fill="#7a007a" opacity="0.55" transform="rotate(-12 667.5 1321.8)" filter="url(#b3)"/>
<ellipse cx="707.7" cy="1326.0" rx="21.0" ry="7.5" fill="#7a007a" opacity="0.55" transform="rotate(-8 707.7 1326.0)" filter="url(#b3)"/>
<ellipse cx="701.4" cy="1370.5" rx="21.0" ry="8.0" fill="#7a007a" opacity="0.55" transform="rotate(-10 701.4 1370.5)" filter="url(#b3)"/>
<ellipse cx="649.5" cy="1362.0" rx="7.0" ry="7.0" fill="#7a007a" opacity="0.55" transform="rotate(0 649.5 1362.0)" filter="url(#b3)"/>
<ellipse cx="707.7" cy="1415.0" rx="22.0" ry="8.0" fill="#7a007a" opacity="0.55" transform="rotate(-12 707.7 1415.0)" filter="url(#b3)"/>
<ellipse cx="650.6" cy="1413.0" rx="8.0" ry="7.0" fill="#7a007a" opacity="0.55" transform="rotate(-10 650.6 1413.0)" filter="url(#b3)"/>
<path d="M-22.0,0 C-9.9,-5.0 9.9,-5.0 22.0,0 C9.9,5.0 -9.9,5.0 -22.0,0Z" fill="#160016" transform="translate(699.3,1156.7) rotate(-3)" filter="url(#b2)"/>
<path d="M-18.0,0 C-8.1,-5.0 8.1,-5.0 18.0,0 C8.1,5.0 -8.1,5.0 -18.0,0Z" fill="#160016" transform="translate(710.9,1208.6) rotate(-5)" filter="url(#b2)"/>
<ellipse cx="649.5" cy="1211.8" rx="4.0" ry="4.0" fill="#160016" transform="rotate(0 649.5 1211.8)" filter="url(#b2)"/>
<path d="M-20.0,0 C-9.0,-4.3 9.0,-4.3 20.0,0 C9.0,4.3 -9.0,4.3 -20.0,0Z" fill="#160016" transform="translate(691.9,1251.0) rotate(-8)" filter="url(#b2)"/>
<ellipse cx="649.5" cy="1264.7" rx="4.0" ry="4.0" fill="#160016" transform="rotate(0 649.5 1264.7)" filter="url(#b2)"/>
<path d="M-20.0,0 C-9.0,-5.0 9.0,-5.0 20.0,0 C9.0,5.0 -9.0,5.0 -20.0,0Z" fill="#160016" transform="translate(707.7,1288.0) rotate(-5)" filter="url(#b2)"/>
<path d="M-19.0,0 C-8.6,-5.0 8.6,-5.0 19.0,0 C8.6,5.0 -8.6,5.0 -19.0,0Z" fill="#160016" transform="translate(667.5,1321.8) rotate(-12)" filter="url(#b2)"/>
<path d="M-19.0,0 C-8.6,-5.0 8.6,-5.0 19.0,0 C8.6,5.0 -8.6,5.0 -19.0,0Z" fill="#160016" transform="translate(707.7,1326.0) rotate(-8)" filter="url(#b2)"/>
<path d="M-19.0,0 C-8.6,-5.8 8.6,-5.8 19.0,0 C8.6,5.8 -8.6,5.8 -19.0,0Z" fill="#160016" transform="translate(701.4,1370.5) rotate(-10)" filter="url(#b2)"/>
<ellipse cx="649.5" cy="1362.0" rx="4.0" ry="4.0" fill="#160016" transform="rotate(0 649.5 1362.0)" filter="url(#b2)"/>
<path d="M-20.0,0 C-9.0,-5.8 9.0,-5.8 20.0,0 C9.0,5.8 -9.0,5.8 -20.0,0Z" fill="#160016" transform="translate(707.7,1415.0) rotate(-12)" filter="url(#b2)"/>
<ellipse cx="650.6" cy="1413.0" rx="5.0" ry="4.0" fill="#160016" transform="rotate(-10 650.6 1413.0)" filter="url(#b2)"/>
</g>
<text x="687.3" y="1460.5" font-size="33" text-anchor="middle" fill="#000" >S8</text>
<clipPath id="tc7"><rect x="734.6" y="1131.1" width="73.2" height="299.2"/></clipPath>
<g clip-path="url(#tc7)">
<rect x="734.6" y="1131.1" width="73.2" height="299.2" fill="#da00da" />
<ellipse cx="758.3" cy="1176.2" rx="16.4" ry="16.4" fill="#f000f0" opacity="0.7" filter="url(#b8)"/>
<ellipse cx="761.4" cy="1148.5" rx="19.3" ry="11.0" fill="#c400c4" opacity="0.7" filter="url(#b8)"/>
<ellipse cx="765.2" cy="1203.1" rx="23.5" ry="19.9" fill="#c400c4" opacity="0.7" filter="url(#b8)"/>
<ellipse cx="743.7" cy="1197.9" rx="34.0" ry="16.9" fill="#c400c4" opacity="0.7" filter="url(#b8)"/>
<ellipse cx="763.6" cy="1423.2" rx="26.1" ry="11.6" fill="#f000f0" opacity="0.7" filter="url(#b8)"/>
<ellipse cx="765.3" cy="1292.9" rx="21.2" ry="19.8" fill="#c400c4" opacity="0.7" filter="url(#b8)"/>
<ellipse cx="747.8" cy="1305.1" rx="22.4" ry="16.6" fill="#fa00fa" opacity="0.7" filter="url(#b8)"/>
<ellipse cx="739.2" cy="1148.9" rx="24.9" ry="16.4" fill="#fa00fa" opacity="0.7" filter="url(#b8)"/>
<ellipse cx="791.5" cy="1270.4" rx="22.2" ry="13.0" fill="#b800b8" opacity="0.7" filter="url(#b8)"/>
<ellipse cx="747.8" cy="1364.4" rx="26.5" ry="16.3" fill="#f000f0" opacity="0.7" filter="url(#b8)"/>
<ellipse cx="798.7" cy="1349.4" rx="27.2" ry="10.9" fill="#f400f4" opacity="0.7" filter="url(#b8)"/>
<ellipse cx="772.1" cy="1180.5" rx="18.0" ry="15.9" fill="#f400f4" opacity="0.7" filter="url(#b8)"/>
<ellipse cx="737.5" cy="1331.0" rx="26.5" ry="20.5" fill="#c400c4" opacity="0.7" filter="url(#b8)"/>
<ellipse cx="757.6" cy="1339.1" rx="24.9" ry="19.6" fill="#c400c4" opacity="0.7" filter="url(#b8)"/>
<ellipse cx="750.0" cy="1143.0" rx="15.5" ry="7.0" fill="#7a007a" opacity="0.55" transform="rotate(-3 750.0 1143.0)" filter="url(#b3)"/>
<ellipse cx="791.3" cy="1148.3" rx="15.5" ry="7.5" fill="#7a007a" opacity="0.55" transform="rotate(-3 791.3 1148.3)" filter="url(#b3)"/>
<ellipse cx="754.3" cy="1180.0" rx="20.0" ry="7.5" fill="#7a007a" opacity="0.55" transform="rotate(-3 754.3 1180.0)" filter="url(#b3)"/>
<ellipse cx="786.0" cy="1228.7" rx="20.0" ry="8.0" fill="#7a007a" opacity="0.55" transform="rotate(-3 786.0 1228.7)" filter="url(#b3)"/>
<ellipse cx="759.6" cy="1268.0" rx="14.5" ry="7.5" fill="#7a007a" opacity="0.55" transform="rotate(-3 759.6 1268.0)" filter="url(#b3)"/>
<ellipse cx="791.3" cy="1271.0" rx="15.5" ry="7.0" fill="#7a007a" opacity="0.55" transform="rotate(-3 791.3 1271.0)" filter="url(#b3)"/>
<ellipse cx="755.3" cy="1308.0" rx="15.5" ry="7.5" fill="#7a007a" opacity="0.55" transform="rotate(-3 755.3 1308.0)" filter="url(#b3)"/>
<ellipse cx="793.4" cy="1305.0" rx="14.5" ry="7.5" fill="#7a007a" opacity="0.55" transform="rotate(-3 793.4 1305.0)" filter="url(#b3)"/>
<ellipse cx="789.2" cy="1341.0" rx="15.5" ry="7.5" fill="#7a007a" opacity="0.55" transform="rotate(-5 789.2 1341.0)" filter="url(#b3)"/>
<ellipse cx="757.5" cy="1361.0" rx="20.0" ry="7.5" fill="#7a007a" opacity="0.55" transform="rotate(-5 757.5 1361.0)" filter="url(#b3)"/>
<ellipse cx="785.0" cy="1399.0" rx="18.0" ry="7.5" fill="#7a007a" opacity="0.55" transform="rotate(-5 785.0 1399.0)" filter="url(#b3)"/>
<ellipse cx="751.1" cy="1418.0" rx="18.0" ry="7.5" fill="#7a007a" opacity="0.55" transform="rotate(-3 751.1 1418.0)" filter="url(#b3)"/>
<path d="M-13.5,0 C-6.1,-4.3 6.1,-4.3 13.5,0 C6.1,4.3 -6.1,4.3 -13.5,0Z" fill="#160016" transform="translate(750.0,1143.0) rotate(-3)" filter="url(#b2)"/>
<path d="M-13.5,0 C-6.1,-5.0 6.1,-5.0 13.5,0 C6.1,5.0 -6.1,5.0 -13.5,0Z" fill="#160016" transform="translate(791.3,1148.3) rotate(-3)" filter="url(#b2)"/>
<path d="M-18.0,0 C-8.1,-5.0 8.1,-5.0 18.0,0 C8.1,5.0 -8.1,5.0 -18.0,0Z" fill="#160016" transform="translate(754.3,1180.0) rotate(-3)" filter="url(#b2)"/>
<path d="M-18.0,0 C-8.1,-5.8 8.1,-5.8 18.0,0 C8.1,5.8 -8.1,5.8 -18.0,0Z" fill="#160016" transform="translate(786.0,1228.7) rotate(-3)" filter="url(#b2)"/>
<path d="M-12.5,0 C-5.6,-5.0 5.6,-5.0 12.5,0 C5.6,5.0 -5.6,5.0 -12.5,0Z" fill="#160016" transform="translate(759.6,1268.0) rotate(-3)" filter="url(#b2)"/>
<path d="M-13.5,0 C-6.1,-4.3 6.1,-4.3 13.5,0 C6.1,4.3 -6.1,4.3 -13.5,0Z" fill="#160016" transform="translate(791.3,1271.0) rotate(-3)" filter="url(#b2)"/>
<path d="M-13.5,0 C-6.1,-5.0 6.1,-5.0 13.5,0 C6.1,5.0 -6.1,5.0 -13.5,0Z" fill="#160016" transform="translate(755.3,1308.0) rotate(-3)" filter="url(#b2)"/>
<path d="M-12.5,0 C-5.6,-5.0 5.6,-5.0 12.5,0 C5.6,5.0 -5.6,5.0 -12.5,0Z" fill="#160016" transform="translate(793.4,1305.0) rotate(-3)" filter="url(#b2)"/>
<path d="M-13.5,0 C-6.1,-5.0 6.1,-5.0 13.5,0 C6.1,5.0 -6.1,5.0 -13.5,0Z" fill="#160016" transform="translate(789.2,1341.0) rotate(-5)" filter="url(#b2)"/>
<path d="M-18.0,0 C-8.1,-5.0 8.1,-5.0 18.0,0 C8.1,5.0 -8.1,5.0 -18.0,0Z" fill="#160016" transform="translate(757.5,1361.0) rotate(-5)" filter="url(#b2)"/>
<path d="M-16.0,0 C-7.2,-5.0 7.2,-5.0 16.0,0 C7.2,5.0 -7.2,5.0 -16.0,0Z" fill="#160016" transform="translate(785.0,1399.0) rotate(-5)" filter="url(#b2)"/>
<path d="M-16.0,0 C-7.2,-5.0 7.2,-5.0 16.0,0 C7.2,5.0 -7.2,5.0 -16.0,0Z" fill="#160016" transform="translate(751.1,1418.0) rotate(-3)" filter="url(#b2)"/>
</g>
<text x="771.2" y="1460.5" font-size="33" text-anchor="middle" fill="#000" >S9</text>
<rect x="799.2" y="1397.0" width="3.3" height="27.5" fill="#fff" />
<text x="823.8" y="1120.5" font-size="50" font-weight="bold" text-anchor="start" fill="#000" >f</text>
<line x1="932.9" y1="1130.3" x2="932.9" y2="1427.0" stroke="#000" stroke-width="3" />
<line x1="922.0" y1="1416.0" x2="1404.4" y2="1416.0" stroke="#000" stroke-width="3" />
<line x1="922.0" y1="1416.0" x2="932.9" y2="1416.0" stroke="#000" stroke-width="3" />
<text x="910.6" y="1427.2" font-size="33" text-anchor="end" fill="#000" >0</text>
<line x1="922.0" y1="1345.0" x2="932.9" y2="1345.0" stroke="#000" stroke-width="3" />
<text x="910.6" y="1356.2" font-size="33" text-anchor="end" fill="#000" >2</text>
<line x1="922.0" y1="1273.9" x2="932.9" y2="1273.9" stroke="#000" stroke-width="3" />
<text x="910.6" y="1285.1" font-size="33" text-anchor="end" fill="#000" >4</text>
<line x1="922.0" y1="1202.8" x2="932.9" y2="1202.8" stroke="#000" stroke-width="3" />
<text x="910.6" y="1214.0" font-size="33" text-anchor="end" fill="#000" >6</text>
<line x1="922.0" y1="1131.8" x2="932.9" y2="1131.8" stroke="#000" stroke-width="3" />
<text x="910.6" y="1143.0" font-size="33" text-anchor="end" fill="#000" >8</text>
<line x1="932.9" y1="1416.0" x2="932.9" y2="1427.0" stroke="#000" stroke-width="3" />
<line x1="991.8" y1="1416.0" x2="991.8" y2="1427.0" stroke="#000" stroke-width="3" />
<line x1="1050.8" y1="1416.0" x2="1050.8" y2="1427.0" stroke="#000" stroke-width="3" />
<line x1="1109.7" y1="1416.0" x2="1109.7" y2="1427.0" stroke="#000" stroke-width="3" />
<line x1="1168.7" y1="1416.0" x2="1168.7" y2="1427.0" stroke="#000" stroke-width="3" />
<line x1="1227.6" y1="1416.0" x2="1227.6" y2="1427.0" stroke="#000" stroke-width="3" />
<line x1="1286.5" y1="1416.0" x2="1286.5" y2="1427.0" stroke="#000" stroke-width="3" />
<line x1="1345.5" y1="1416.0" x2="1345.5" y2="1427.0" stroke="#000" stroke-width="3" />
<line x1="1404.4" y1="1416.0" x2="1404.4" y2="1427.0" stroke="#000" stroke-width="3" />
<text x="0" y="0" font-size="33" font-weight="bold" text-anchor="middle" transform="translate(870.0,1269.0) rotate(-90)">Pit area (µm<tspan dy="-10" font-size="22">2</tspan><tspan dy="10">)</tspan></text>
<line x1="968.9" y1="1163.8" x2="968.9" y2="1311.2" stroke="#4a85bf" stroke-width="2.5" />
<line x1="961.9" y1="1163.8" x2="975.9" y2="1163.8" stroke="#4a85bf" stroke-width="3" />
<line x1="961.9" y1="1311.2" x2="975.9" y2="1311.2" stroke="#4a85bf" stroke-width="3" />
<rect x="941.9" y="1218.8" width="54.0" height="44.4" fill="#5b9bd5" stroke="#4a85bf" stroke-width="2.5"/>
<line x1="941.9" y1="1241.9" x2="995.9" y2="1241.9" stroke="#4a85bf" stroke-width="2.5" />
<circle cx="968.9" cy="1167.3" r="6.5" fill="#5b9bd5" stroke="#4a85bf" stroke-width="1.5"/>
<circle cx="968.9" cy="1181.5" r="6.5" fill="#5b9bd5" stroke="#4a85bf" stroke-width="1.5"/>
<circle cx="968.9" cy="1195.7" r="6.5" fill="#5b9bd5" stroke="#4a85bf" stroke-width="1.5"/>
<circle cx="968.9" cy="1210.0" r="6.5" fill="#5b9bd5" stroke="#4a85bf" stroke-width="1.5"/>
<circle cx="968.9" cy="1222.4" r="6.5" fill="#5b9bd5" stroke="#4a85bf" stroke-width="1.5"/>
<circle cx="968.9" cy="1236.6" r="6.5" fill="#5b9bd5" stroke="#4a85bf" stroke-width="1.5"/>
<circle cx="968.9" cy="1249.0" r="6.5" fill="#5b9bd5" stroke="#4a85bf" stroke-width="1.5"/>
<circle cx="968.9" cy="1261.5" r="6.5" fill="#5b9bd5" stroke="#4a85bf" stroke-width="1.5"/>
<circle cx="968.9" cy="1273.9" r="6.5" fill="#5b9bd5" stroke="#4a85bf" stroke-width="1.5"/>
<circle cx="968.9" cy="1286.3" r="6.5" fill="#5b9bd5" stroke="#4a85bf" stroke-width="1.5"/>
<circle cx="968.9" cy="1300.5" r="6.5" fill="#5b9bd5" stroke="#4a85bf" stroke-width="1.5"/>
<line x1="956.9" y1="1229.0" x2="980.9" y2="1253.0" stroke="#4a85bf" stroke-width="2.5" />
<line x1="956.9" y1="1253.0" x2="980.9" y2="1229.0" stroke="#4a85bf" stroke-width="2.5" />
<text x="971.0" y="1155.5" font-size="33" text-anchor="middle" fill="#000" >a</text>
<text x="964.4" y="1463.0" font-size="33" text-anchor="middle" fill="#000" >S2</text>
<line x1="1026.2" y1="1270.3" x2="1026.2" y2="1375.1" stroke="#d06a25" stroke-width="2.5" />
<line x1="1019.2" y1="1270.3" x2="1033.2" y2="1270.3" stroke="#d06a25" stroke-width="3" />
<line x1="1019.2" y1="1375.1" x2="1033.2" y2="1375.1" stroke="#d06a25" stroke-width="3" />
<rect x="999.2" y="1311.2" width="54.0" height="32.0" fill="#ed7d31" stroke="#d06a25" stroke-width="2.5"/>
<line x1="999.2" y1="1327.2" x2="1053.2" y2="1327.2" stroke="#d06a25" stroke-width="2.5" />
<circle cx="1026.2" cy="1252.6" r="6.5" fill="#ed7d31" stroke="#d06a25" stroke-width="1.5"/>
<circle cx="1026.2" cy="1277.5" r="6.5" fill="#ed7d31" stroke="#d06a25" stroke-width="1.5"/>
<circle cx="1026.2" cy="1291.7" r="6.5" fill="#ed7d31" stroke="#d06a25" stroke-width="1.5"/>
<circle cx="1026.2" cy="1305.9" r="6.5" fill="#ed7d31" stroke="#d06a25" stroke-width="1.5"/>
<circle cx="1026.2" cy="1318.3" r="6.5" fill="#ed7d31" stroke="#d06a25" stroke-width="1.5"/>
<circle cx="1026.2" cy="1330.7" r="6.5" fill="#ed7d31" stroke="#d06a25" stroke-width="1.5"/>
<circle cx="1026.2" cy="1343.2" r="6.5" fill="#ed7d31" stroke="#d06a25" stroke-width="1.5"/>
<circle cx="1026.2" cy="1355.6" r="6.5" fill="#ed7d31" stroke="#d06a25" stroke-width="1.5"/>
<circle cx="1026.2" cy="1369.8" r="6.5" fill="#ed7d31" stroke="#d06a25" stroke-width="1.5"/>
<line x1="1014.2" y1="1315.2" x2="1038.2" y2="1339.2" stroke="#d06a25" stroke-width="2.5" />
<line x1="1014.2" y1="1339.2" x2="1038.2" y2="1315.2" stroke="#d06a25" stroke-width="2.5" />
<text x="1030.7" y="1234.5" font-size="33" text-anchor="middle" fill="#000" >b</text>
<text x="1023.3" y="1463.0" font-size="33" text-anchor="middle" fill="#000" >S3</text>
<line x1="1083.6" y1="1329.0" x2="1083.6" y2="1391.1" stroke="#8c8c8c" stroke-width="2.5" />
<line x1="1076.6" y1="1329.0" x2="1090.6" y2="1329.0" stroke="#8c8c8c" stroke-width="3" />
<line x1="1076.6" y1="1391.1" x2="1090.6" y2="1391.1" stroke="#8c8c8c" stroke-width="3" />
<rect x="1056.6" y="1353.8" width="54.0" height="21.0" fill="#a5a5a5" stroke="#8c8c8c" stroke-width="2.5"/>
<line x1="1056.6" y1="1364.5" x2="1110.6" y2="1364.5" stroke="#8c8c8c" stroke-width="2.5" />
<circle cx="1083.6" cy="1305.9" r="6.5" fill="#a5a5a5" stroke="#8c8c8c" stroke-width="1.5"/>
<circle cx="1083.6" cy="1334.3" r="6.5" fill="#a5a5a5" stroke="#8c8c8c" stroke-width="1.5"/>
<circle cx="1083.6" cy="1352.1" r="6.5" fill="#a5a5a5" stroke="#8c8c8c" stroke-width="1.5"/>
<circle cx="1083.6" cy="1362.7" r="6.5" fill="#a5a5a5" stroke="#8c8c8c" stroke-width="1.5"/>
<circle cx="1083.6" cy="1371.6" r="6.5" fill="#a5a5a5" stroke="#8c8c8c" stroke-width="1.5"/>
<circle cx="1083.6" cy="1380.5" r="6.5" fill="#a5a5a5" stroke="#8c8c8c" stroke-width="1.5"/>
<circle cx="1083.6" cy="1391.1" r="6.5" fill="#a5a5a5" stroke="#8c8c8c" stroke-width="1.5"/>
<line x1="1071.6" y1="1352.3" x2="1095.6" y2="1376.3" stroke="#8c8c8c" stroke-width="2.5" />
<line x1="1071.6" y1="1376.3" x2="1095.6" y2="1352.3" stroke="#8c8c8c" stroke-width="2.5" />
<text x="1085.6" y="1288.5" font-size="33" text-anchor="middle" fill="#000" >c</text>
<text x="1082.2" y="1463.0" font-size="33" text-anchor="middle" fill="#000" >S4</text>
<line x1="1141.0" y1="1330.7" x2="1141.0" y2="1389.4" stroke="#e0a800" stroke-width="2.5" />
<line x1="1134.0" y1="1330.7" x2="1148.0" y2="1330.7" stroke="#e0a800" stroke-width="3" />
<line x1="1134.0" y1="1389.4" x2="1148.0" y2="1389.4" stroke="#e0a800" stroke-width="3" />
<rect x="1114.0" y="1353.8" width="54.0" height="19.5" fill="#ffc000" stroke="#e0a800" stroke-width="2.5"/>
<line x1="1114.0" y1="1364.5" x2="1168.0" y2="1364.5" stroke="#e0a800" stroke-width="2.5" />
<circle cx="1141.0" cy="1317.2" r="6.5" fill="#ffc000" stroke="#e0a800" stroke-width="1.5"/>
<circle cx="1141.0" cy="1334.3" r="6.5" fill="#ffc000" stroke="#e0a800" stroke-width="1.5"/>
<circle cx="1141.0" cy="1348.5" r="6.5" fill="#ffc000" stroke="#e0a800" stroke-width="1.5"/>
<circle cx="1141.0" cy="1360.9" r="6.5" fill="#ffc000" stroke="#e0a800" stroke-width="1.5"/>
<circle cx="1141.0" cy="1373.4" r="6.5" fill="#ffc000" stroke="#e0a800" stroke-width="1.5"/>
<circle cx="1141.0" cy="1387.6" r="6.5" fill="#ffc000" stroke="#e0a800" stroke-width="1.5"/>
<line x1="1129.0" y1="1351.6" x2="1153.0" y2="1375.6" stroke="#e0a800" stroke-width="2.5" />
<line x1="1129.0" y1="1375.6" x2="1153.0" y2="1351.6" stroke="#e0a800" stroke-width="2.5" />
<text x="1140.0" y="1298.5" font-size="33" text-anchor="middle" fill="#000" >c</text>
<text x="1141.2" y="1463.0" font-size="33" text-anchor="middle" fill="#000" >S5</text>
<line x1="1198.3" y1="1352.1" x2="1198.3" y2="1394.7" stroke="#3a62ad" stroke-width="2.5" />
<line x1="1191.3" y1="1352.1" x2="1205.3" y2="1352.1" stroke="#3a62ad" stroke-width="3" />
<line x1="1191.3" y1="1394.7" x2="1205.3" y2="1394.7" stroke="#3a62ad" stroke-width="3" />
<rect x="1171.3" y="1369.8" width="54.0" height="14.9" fill="#4472c4" stroke="#3a62ad" stroke-width="2.5"/>
<line x1="1171.3" y1="1376.9" x2="1225.3" y2="1376.9" stroke="#3a62ad" stroke-width="2.5" />
<circle cx="1198.3" cy="1334.3" r="6.5" fill="#4472c4" stroke="#3a62ad" stroke-width="1.5"/>
<circle cx="1198.3" cy="1353.8" r="6.5" fill="#4472c4" stroke="#3a62ad" stroke-width="1.5"/>
<circle cx="1198.3" cy="1366.3" r="6.5" fill="#4472c4" stroke="#3a62ad" stroke-width="1.5"/>
<circle cx="1198.3" cy="1376.9" r="6.5" fill="#4472c4" stroke="#3a62ad" stroke-width="1.5"/>
<circle cx="1198.3" cy="1387.6" r="6.5" fill="#4472c4" stroke="#3a62ad" stroke-width="1.5"/>
<circle cx="1198.3" cy="1394.0" r="6.5" fill="#4472c4" stroke="#3a62ad" stroke-width="1.5"/>
<line x1="1186.3" y1="1365.3" x2="1210.3" y2="1389.3" stroke="#3a62ad" stroke-width="2.5" />
<line x1="1186.3" y1="1389.3" x2="1210.3" y2="1365.3" stroke="#3a62ad" stroke-width="2.5" />
<text x="1199.3" y="1321.0" font-size="33" text-anchor="middle" fill="#000" >d</text>
<text x="1200.1" y="1463.0" font-size="33" text-anchor="middle" fill="#000" >S6</text>
<line x1="1255.7" y1="1353.8" x2="1255.7" y2="1394.0" stroke="#5e963a" stroke-width="2.5" />
<line x1="1248.7" y1="1353.8" x2="1262.7" y2="1353.8" stroke="#5e963a" stroke-width="3" />
<line x1="1248.7" y1="1394.0" x2="1262.7" y2="1394.0" stroke="#5e963a" stroke-width="3" />
<rect x="1228.7" y="1367.0" width="54.0" height="15.3" fill="#70ad47" stroke="#5e963a" stroke-width="2.5"/>
<line x1="1228.7" y1="1375.1" x2="1282.7" y2="1375.1" stroke="#5e963a" stroke-width="2.5" />
<circle cx="1255.7" cy="1354.9" r="6.5" fill="#70ad47" stroke="#5e963a" stroke-width="1.5"/>
<circle cx="1255.7" cy="1366.3" r="6.5" fill="#70ad47" stroke="#5e963a" stroke-width="1.5"/>
<circle cx="1255.7" cy="1376.9" r="6.5" fill="#70ad47" stroke="#5e963a" stroke-width="1.5"/>
<circle cx="1255.7" cy="1385.8" r="6.5" fill="#70ad47" stroke="#5e963a" stroke-width="1.5"/>
<circle cx="1255.7" cy="1394.0" r="6.5" fill="#70ad47" stroke="#5e963a" stroke-width="1.5"/>
<line x1="1243.7" y1="1362.6" x2="1267.7" y2="1386.6" stroke="#5e963a" stroke-width="2.5" />
<line x1="1243.7" y1="1386.6" x2="1267.7" y2="1362.6" stroke="#5e963a" stroke-width="2.5" />
<text x="1256.8" y="1337.5" font-size="33" text-anchor="middle" fill="#000" >d</text>
<text x="1259.1" y="1463.0" font-size="33" text-anchor="middle" fill="#000" >S7</text>
<line x1="1313.0" y1="1352.8" x2="1313.0" y2="1394.0" stroke="#1f4f7a" stroke-width="2.5" />
<line x1="1306.0" y1="1352.8" x2="1320.0" y2="1352.8" stroke="#1f4f7a" stroke-width="3" />
<line x1="1306.0" y1="1394.0" x2="1320.0" y2="1394.0" stroke="#1f4f7a" stroke-width="3" />
<rect x="1286.0" y="1370.5" width="54.0" height="14.2" fill="#255e91" stroke="#1f4f7a" stroke-width="2.5"/>
<line x1="1286.0" y1="1376.9" x2="1340.0" y2="1376.9" stroke="#1f4f7a" stroke-width="2.5" />
<circle cx="1313.0" cy="1354.9" r="6.5" fill="#255e91" stroke="#1f4f7a" stroke-width="1.5"/>
<circle cx="1313.0" cy="1366.3" r="6.5" fill="#255e91" stroke="#1f4f7a" stroke-width="1.5"/>
<circle cx="1313.0" cy="1376.9" r="6.5" fill="#255e91" stroke="#1f4f7a" stroke-width="1.5"/>
<circle cx="1313.0" cy="1387.6" r="6.5" fill="#255e91" stroke="#1f4f7a" stroke-width="1.5"/>
<circle cx="1313.0" cy="1394.0" r="6.5" fill="#255e91" stroke="#1f4f7a" stroke-width="1.5"/>
<line x1="1301.0" y1="1365.6" x2="1325.0" y2="1389.6" stroke="#1f4f7a" stroke-width="2.5" />
<line x1="1301.0" y1="1389.6" x2="1325.0" y2="1365.6" stroke="#1f4f7a" stroke-width="2.5" />
<text x="1311.7" y="1341.0" font-size="33" text-anchor="middle" fill="#000" >d</text>
<text x="1318.0" y="1463.0" font-size="33" text-anchor="middle" fill="#000" >S8</text>
<line x1="1370.3" y1="1353.8" x2="1370.3" y2="1396.5" stroke="#85390a" stroke-width="2.5" />
<line x1="1363.3" y1="1353.8" x2="1377.3" y2="1353.8" stroke="#85390a" stroke-width="3" />
<line x1="1363.3" y1="1396.5" x2="1377.3" y2="1396.5" stroke="#85390a" stroke-width="3" />
<rect x="1343.3" y="1367.0" width="54.0" height="15.3" fill="#9e480e" stroke="#85390a" stroke-width="2.5"/>
<line x1="1343.3" y1="1375.1" x2="1397.3" y2="1375.1" stroke="#85390a" stroke-width="2.5" />
<circle cx="1370.3" cy="1355.6" r="6.5" fill="#9e480e" stroke="#85390a" stroke-width="1.5"/>
<circle cx="1370.3" cy="1366.3" r="6.5" fill="#9e480e" stroke="#85390a" stroke-width="1.5"/>
<circle cx="1370.3" cy="1376.9" r="6.5" fill="#9e480e" stroke="#85390a" stroke-width="1.5"/>
<circle cx="1370.3" cy="1387.6" r="6.5" fill="#9e480e" stroke="#85390a" stroke-width="1.5"/>
<circle cx="1370.3" cy="1396.5" r="6.5" fill="#9e480e" stroke="#85390a" stroke-width="1.5"/>
<line x1="1358.3" y1="1362.6" x2="1382.3" y2="1386.6" stroke="#85390a" stroke-width="2.5" />
<line x1="1358.3" y1="1386.6" x2="1382.3" y2="1362.6" stroke="#85390a" stroke-width="2.5" />
<text x="1372.5" y="1341.0" font-size="33" text-anchor="middle" fill="#000" >d</text>
<text x="1376.9" y="1463.0" font-size="33" text-anchor="middle" fill="#000" >S9</text>
</svg>
</body></html>
